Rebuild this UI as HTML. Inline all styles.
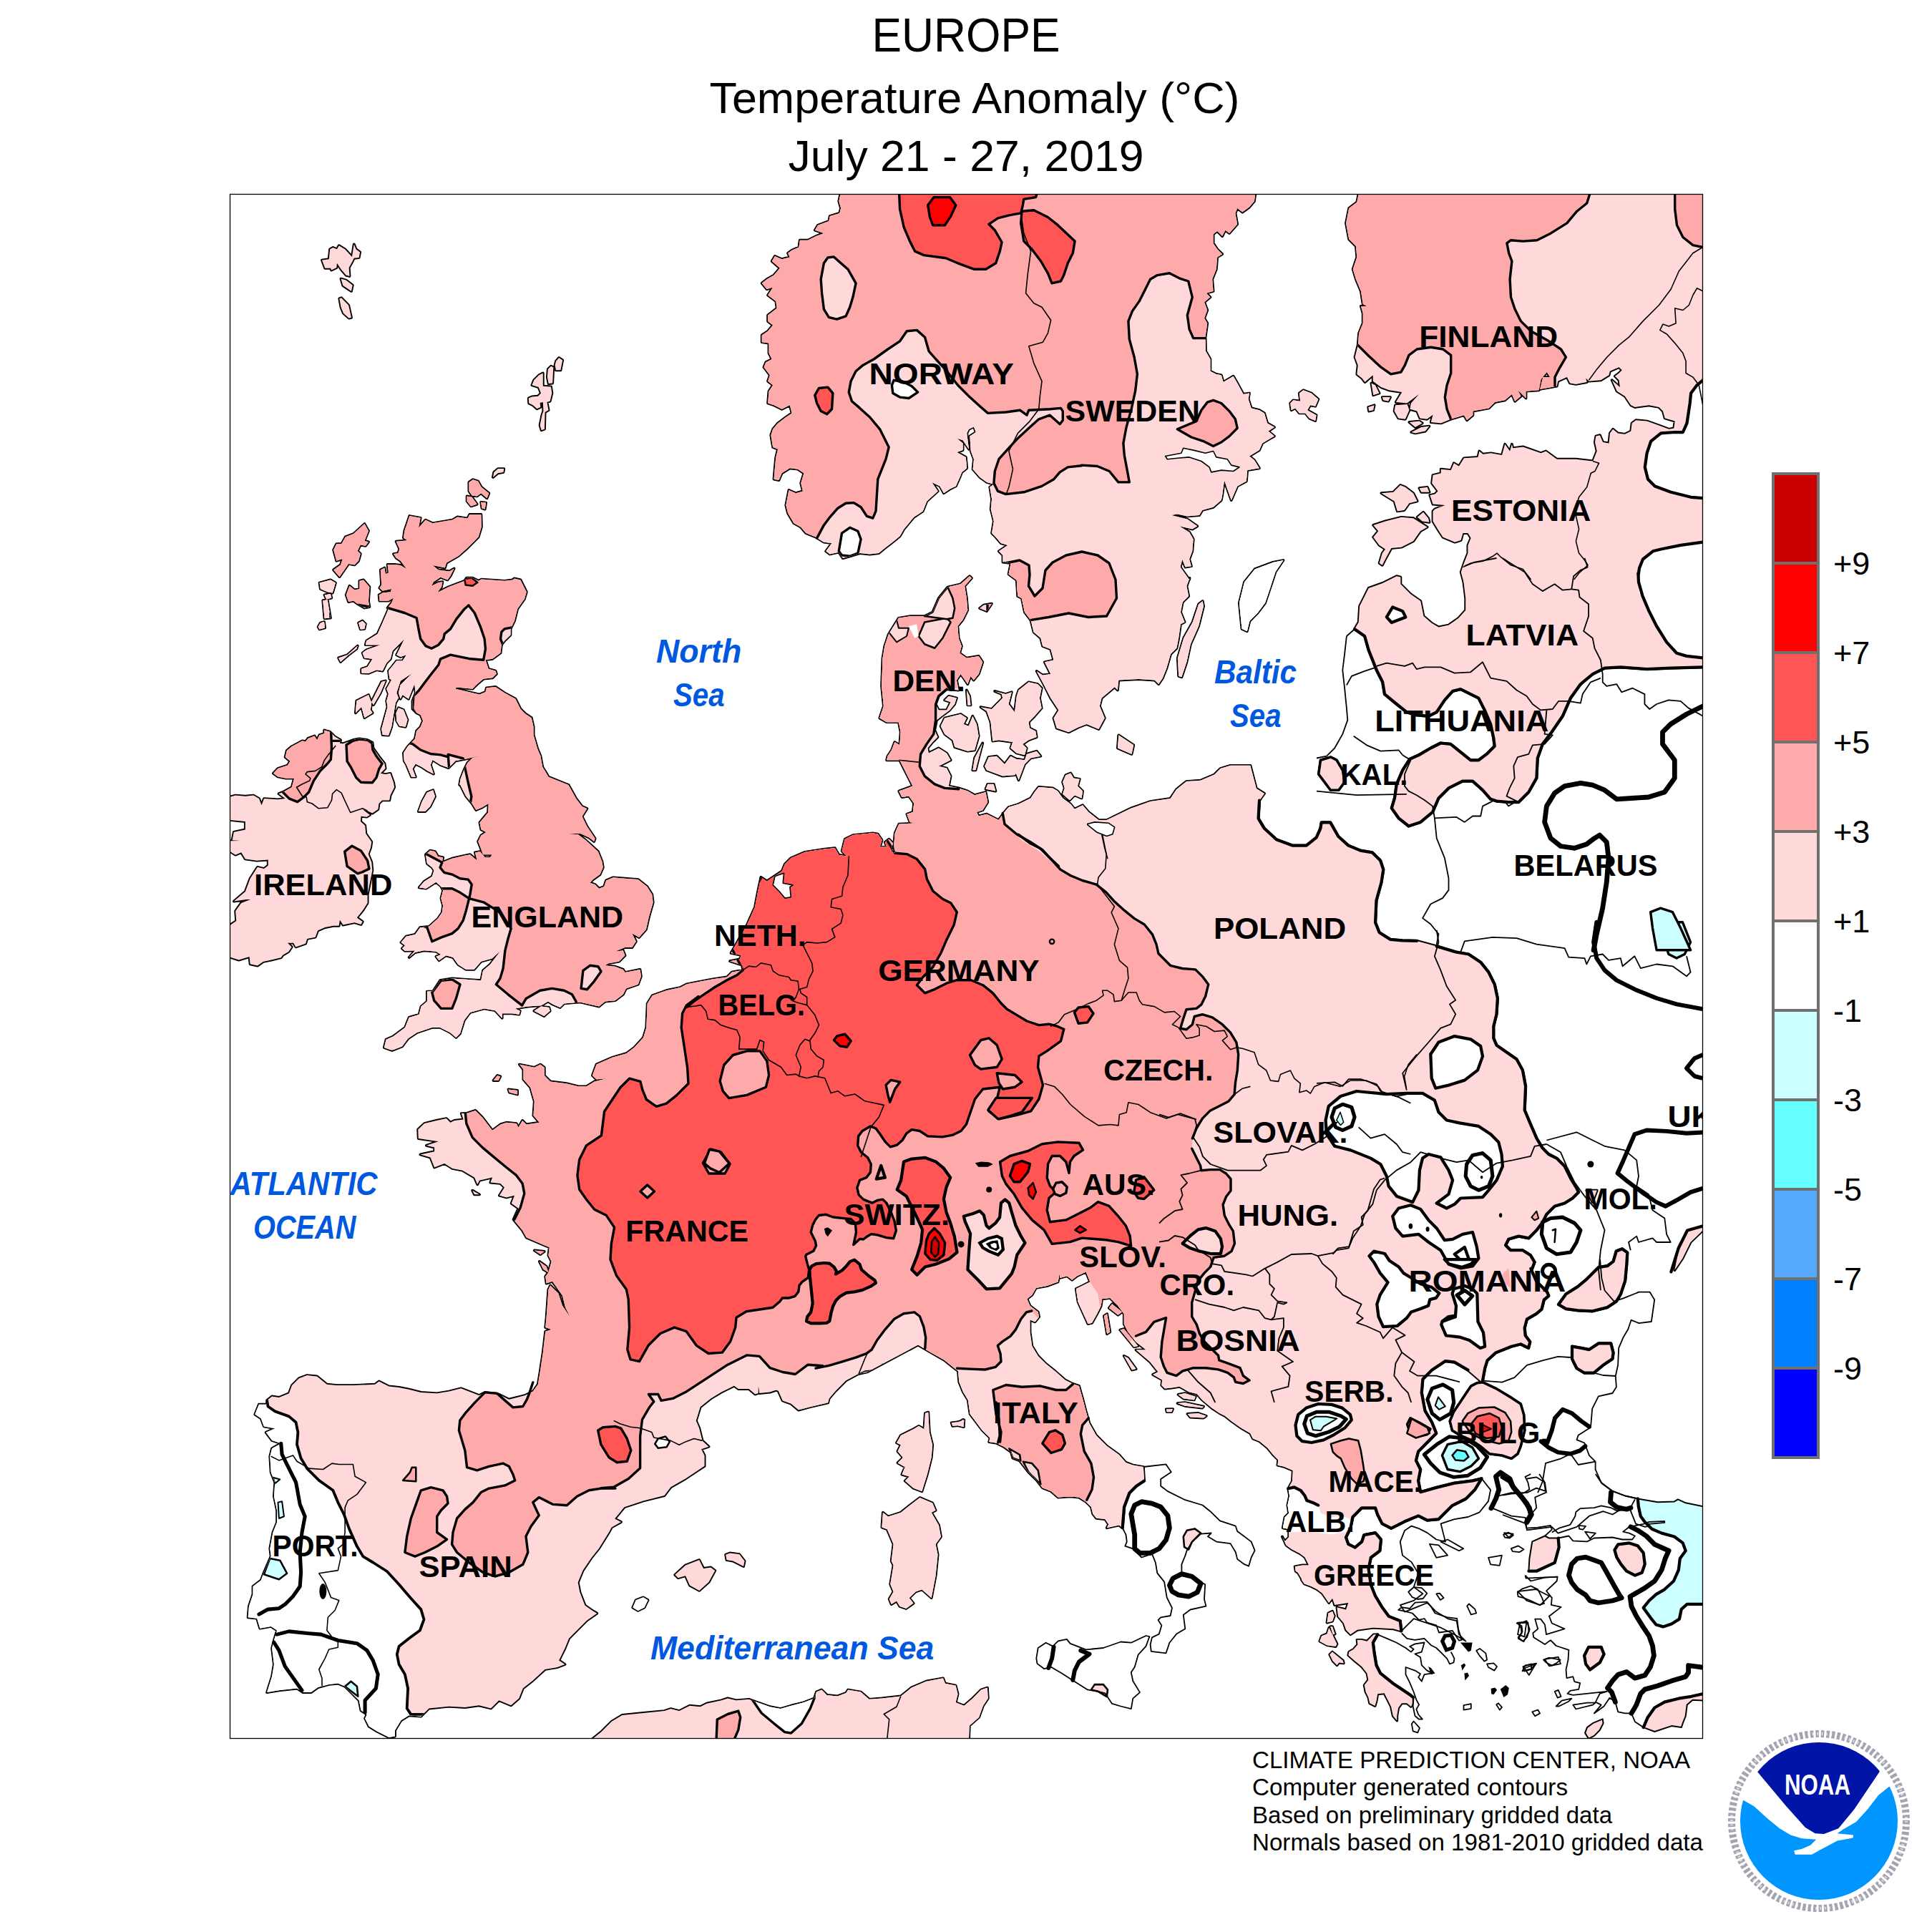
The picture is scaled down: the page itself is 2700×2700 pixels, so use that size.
<!DOCTYPE html><html><head><meta charset="utf-8"><title>Europe Temperature Anomaly</title><style>html,body{margin:0;padding:0;background:#fff}body{width:2700px;height:2700px;overflow:hidden;font-family:"Liberation Sans",sans-serif}svg{display:block}text{font-family:"Liberation Sans",sans-serif}</style></head><body>
<svg width="2700" height="2700" viewBox="0 0 2700 2700">
<rect width="2700" height="2700" fill="#fff"/>
<defs><clipPath id="fr"><rect x="321.5" y="271.5" width="2058.0" height="2158.0"/></clipPath>
<clipPath id="land"><path d="M450,363.6 459.7,362.2 461.1,348.3 465.3,346 470.9,348.3 473.7,343.2 482.1,348.3 491.9,358.9 494.7,341.3 497.5,348.3 503.1,352.4 501.7,360 494.7,360.8 492.7,365 487.7,374 488.5,386 483.5,384.6 476.5,376.2 470.9,367.8 470.4,374 463.1,377.6 462,374.8 454.2,374.8ZM476.5,389.6 483.5,391.6 492.7,398.6 491,406.9 484.9,402.8 479.3,399.1ZM474.3,417.3 477.1,416.2 487.1,426.5 491,443.8 487.7,444.7 479.9,437.7 476.5,429.3ZM758.8,521.5 758.8,539.7 770,540.5 771.4,549.5 768.6,560.7 764.4,562.1 766.6,573.2 761.6,576 761,599.8 756.6,601.2 754.6,594.2 757.4,580.2 759.4,574.6 758.8,562.1 754.6,562.9 755.4,569 750.4,571.3 744.8,566.3 739.2,563.5 738.7,556.5 743.4,554.5 751.8,553.7 756,549.5 752.6,541.1 743.4,538.3 746.2,531.3 753.2,524.3ZM765.8,515.9 770,511.8 773.3,513.2 772.2,535.5 766.6,536.1 764.9,527.1ZM777,504.8 781.2,500 786.2,503.4 783.4,517.3 777,517.3 775.6,510.4ZM655.4,673.9 661,670.2 668,672.5 672.7,680.8 683.3,689.2 680.5,696.2 672.2,689.2 666.6,693.4 659.6,692.6 655.4,686.4ZM652.6,693.4 659.6,694.8 666.6,704.6 658.2,707.4 652.6,700.4ZM672.2,701.8 679.1,702.6 677.7,711.6 673.5,710.2ZM688.9,666.9 690.3,659.9 695.9,655.1 704.3,655.1 703.5,659.9 695.9,661.3ZM509.4,732.1 515,741.9 509.4,755.9 515,757.3 510.8,762.9 503.8,761.5 499.7,769.9 503.8,774.1 501.1,783.8 495.5,789.4 487.1,788 474.5,806.2 466.1,796.4 475.9,789.4 478.7,781.1 470.3,783.8 466.1,768.5 470.3,760.1 477.3,760.1 482.9,750.3 494.1,746.1ZM446.6,814.6 461.9,810.4 468.9,814.6 464.7,828.6 457.7,827.2 447.9,823ZM453.5,831.4 461.9,830 463.3,835.6 456.3,837.5ZM451.3,839.2 457.7,838.3 461.9,863.5 453.5,864.3ZM447.9,870.5 453,869.1 454.1,877.5 446.6,879.4 444.6,876.1ZM502.4,811.8 508,810.4 516.4,820.2 515,839.7 516.4,848.1 509.4,849.5 499.7,843.9 494.1,839.7 487.1,841.1 483.7,831.4 488.5,818.8 495.5,824.4 502.4,823ZM519.2,980.9 533.2,952.9 538.8,951.5 531.8,968.3 522,985.1ZM498.3,979.5 515,971.1 519.2,982.3 517.8,992.1 520.6,996.3 509.4,1003.2 505.2,987.9 496.9,996.3ZM553.6,996.3 556.9,989.3 563.9,992.1 569.5,1006 566.7,1015.8 558.3,1014.4 554.2,1007.4ZM473.1,919.4 485.7,915.2 499.7,902.6 498.3,906.8 487.1,915.2 475.9,925ZM501.1,870.5 506.6,867.7 510.8,871.9 509.4,878.9 503.8,879.4ZM572.3,721 587.7,723.8 584.9,737.7 594.7,726.6 604.5,731.3 632.4,726.6 639.4,722.4 653.4,724.6 656.2,719 672.4,719 672.9,736.3 668.7,750.3 663.2,755.9 652,767.1 640.8,776.9 624,786.6 621.8,793.6 604.5,790 612.8,796.4 628.2,798.4 634.6,794.5 629.6,804.8 625.4,810.4 615.6,806.8 605.9,813.2 603.1,818.8 612.8,814 618.4,813.2 617,820.2 611.4,828 626.8,820.2 649.2,811.8 652,807.6 660.4,807.6 668.7,811.8 672.9,809.6 705.1,811.8 716.3,810.4 719,808.4 727.4,810.4 735.8,827.2 733,836.9 723.2,850.9 719,867.7 713.5,878.9 713.5,887.3 705.1,895.6 700.9,901.2 699.5,912.4 688.3,920.8 678.5,922.2 682.7,934.8 692.5,937.6 693.9,941.8 688.3,947.3 675.7,948.7 665.9,957.1 660.4,962.7 638,960.5 636.6,962.7 649.2,965.5 660.4,968.3 670.1,970.5 678.5,966.9 679.9,961.3 692.5,959.9 705.1,968.3 720.4,976.7 727.4,990.7 734.4,997.7 742.8,1003.2 745.6,1015.8 745.6,1027 751.2,1046.6 755.4,1056.3 758.2,1071.7 766.6,1085.7 794.5,1096.9 805.1,1115.9 813.5,1127.1 820.4,1129.9 813.5,1141.1 820.4,1155 831.6,1171.8 830.2,1176 823.2,1170.4 810.7,1164.8 788.3,1164.8 807.9,1166.2 819,1174.6 835.8,1190 841.4,1203.9 842.8,1212.3 838.6,1222.1 828.8,1229.1 824.6,1233.8 831.6,1236.1 837.2,1241.7 844.2,1238.9 847,1230.5 856.8,1226.3 873.5,1227.7 891.7,1229.1 904.3,1238.9 911.3,1250.1 912.7,1261.2 907.1,1280.8 902.9,1299 893.1,1310.1 883.3,1304.6 888.9,1315.7 883.3,1324.1 873.5,1324.1 859.6,1329.7 870.8,1328.3 873.5,1335.3 865.2,1343.7 849.8,1346.5 845.6,1349.3 859.6,1350.7 870.8,1354.9 873.5,1359 894.5,1354.9 895.9,1364.6 891.7,1375.8 874.9,1381.4 870.8,1389.8 859.6,1398.2 845.6,1399.6 837.2,1406.6 810.7,1400.4 788.3,1402.4 782.7,1408 772.9,1403.8 765.9,1399.6 756.2,1405.2 738,1406.6 728.2,1408 719.8,1409.4 726.8,1412.7 725.4,1417.7 715.6,1416.3 701.7,1416.3 701.7,1422.8 691.9,1412.2 676.5,1409.4 656.9,1414.9 648.6,1426.1 643,1444.3 637.4,1449.9 629,1442.9 615,1435.9 603.8,1435.9 582.9,1442.9 570.3,1451.3 561.9,1462.5 547.9,1468 536.8,1463.9 539.6,1452.7 549.3,1448.5 566.1,1435.9 571.7,1421.9 585.7,1417.7 588.5,1406.6 596.9,1399.6 596.9,1385.6 605.2,1385.6 615,1370.2 631.8,1367.4 651.4,1368.8 672.3,1370.2 675.1,1356.3 684.9,1347.9 698.9,1329.7 704.5,1324.1 687.7,1339.5 672.3,1343.7 662.5,1354.9 651.4,1354.9 640.2,1347.9 633.2,1338.1 623.4,1335.3 613.6,1342.3 609.4,1336.7 616.4,1333.9 609.4,1329.7 592.7,1328.3 580.1,1331.1 571.7,1338.1 580.1,1328.3 566.1,1328.9 561.9,1325.5 566.1,1321.3 560.5,1317.1 567.5,1308.7 580.1,1305.9 587.1,1296.2 599.7,1294.8 612.2,1283.6 617.8,1275.2 619.2,1265.4 616.4,1255.6 619.2,1244.5 616.4,1238.9 609.4,1232.7 595.5,1241.7 585.7,1240.3 592.7,1231.9 603.8,1224.9 606.6,1216.5 603.8,1212.3 596.9,1206.7 594.9,1194.2 601.1,1188.6 608,1190 612.2,1196.9 619.2,1198.3 617.8,1205.3 631.8,1199.7 650,1195.6 656.9,1194.2 666.7,1202.5 663.9,1191.4 670.9,1190 677.9,1198.3 684.9,1198.3 687.7,1194.2 675.1,1194.2 670.9,1183 668.1,1176 672.3,1167.6 679.3,1162.9 672.3,1159.2 670.4,1149.4 675.1,1143.8 682.1,1135.5 682.7,1122.9 673.7,1128.5 665.3,1132.1 659.7,1122.9 651.4,1113.1 643,1096.3 642.2,1096.9 643.6,1088.5 649.2,1074.5 653.4,1066.1 660.4,1059.1 671.5,1056.3 663.2,1057.7 652,1060.5 636.6,1063.3 626.8,1073.1 615.6,1068.9 604.5,1061.9 601.7,1068.9 605.9,1081.5 597.5,1077.3 589.1,1071.7 580.7,1067.5 576.5,1074.5 580.7,1085.7 575.1,1085.7 568.1,1068.9 564.8,1063.3 563.9,1052.2 569.5,1043.8 579.9,1032.6 582.1,1021.4 587.7,1015.8 591,1007.4 587.7,999 582.1,996.3 576.5,990.7 576.5,979.5 580.7,968.3 579.3,955.7 570.9,976.7 562.5,971.1 559.7,976.7 556.9,968.3 559.7,957.1 570.9,945.9 576.5,940.4 559.7,951.5 554.2,968.3 556.9,975.3 552.8,982.3 547.2,1015.8 543,1027.6 534.6,1027 533.2,1018.6 541.6,987.9 540.2,979.5 543,969.7 540.2,962.7 547.2,950.1 544.4,948.7 543,937.6 554.2,923.6 562.5,923.6 568.1,915.2 559.7,918 554.2,915.2 565.3,892.8 548.6,909.6 545.8,920.8 540.2,926.4 534.6,937.6 526.2,936.2 515,940.9 505.2,940.4 505.2,934.8 513.6,932 520.6,920.8 509.4,919.4 506.6,912.4 512.2,908.2 531.8,901.2 510.8,901.2 512.2,895.6 527.6,885.9 534.6,870.5 543,850.9 541.6,849.5 547.2,842.5 550,835.6 543,839.7 530.4,839.7 529.6,831.4 534.6,828.6 545.8,827.2 547.2,823 534.6,825.8 530.4,821.6 533.2,817.4 531.8,796.4 537.4,793.6 538.8,802 543,800.6 541.6,788.9 551.4,788.9 559.7,790 568.1,795 559.7,783.8 553.6,779.7 550,774.1 556.4,773.2 558.3,767.1 553.6,756.7 569.5,755.3 563.9,751.7 565.3,741.9ZM584.8,1134.1 589.9,1120.1 596.9,1107.5 605.2,1104.2 608,1113.1 601.1,1127.1 594.1,1134.1ZM746.4,1412.7 756.2,1406.6 767.3,1408 768.7,1412.7 760.4,1420ZM453.2,1020.5 461.2,1022.8 468,1029.6 476,1034.2 474.9,1038.7 479.4,1039.2 493.1,1034.2 502.2,1032.3 513.6,1034.2 520.4,1037.6 521.5,1045.5 529.5,1056.9 537.5,1067.2 538.6,1074 531.8,1080.8 538.6,1082 545.5,1080.8 550,1093.4 551.2,1100.2 545.5,1111.6 544.3,1118.4 534.1,1118.4 529.5,1123 528.4,1130.9 520.4,1136.6 513.6,1133.2 506.7,1130.9 517,1138.9 512.4,1141.7 504.5,1140.7 504,1148 510.2,1153.7 511.3,1165.1 519.3,1176.5 518.1,1184.5 514.7,1193.6 519.3,1205 520.4,1216.4 518.1,1227.7 515.9,1239.1 513.6,1250.5 513.6,1261.9 507.9,1271 504.5,1275.6 498.8,1282.4 506.7,1288.1 504.5,1292 495.4,1289.2 479.4,1292.6 474.9,1285.8 473.7,1293.8 465.8,1293.8 454.4,1296.1 444.1,1300.6 440.7,1309.7 429.3,1312 427,1318.8 413.4,1323.4 410,1317.7 402,1317.7 407.7,1323.4 403.1,1330.2 395.2,1334.8 392.9,1338.2 379.2,1341.6 367.8,1343.9 359.9,1349.6 349.6,1347.3 348.5,1337.1 333.7,1341.6 320,1337.1 315.4,1337.1 315.4,1296.1 320,1293.8 330.2,1287 329.1,1273.3 337.1,1261.9 361,1252.8 380.4,1250.5 365.5,1255.1 342.8,1257.3 326.8,1259.6 342.8,1246 349.6,1227.7 359.9,1211.8 369,1214.1 374.7,1209.5 374.7,1201.5 358.7,1202.7 342.8,1200.4 337.1,1191.3 329.1,1194.7 320,1189 315.4,1189 315.4,1175.4 335.9,1174.9 324.6,1174.2 326.8,1162.8 342.8,1159.4 342.8,1148 320,1145.8 315.4,1145.8 315.4,1113.9 320,1113.9 329.1,1111.6 342.8,1112.7 354.2,1111.6 362.1,1116.1 365.5,1125.3 369,1116.1 388.3,1117.3 398.6,1116.1 389.5,1109.3 397.4,1105.9 407.7,1100.2 411.1,1087.7 399.7,1087.7 388.3,1085.4 381.9,1080.8 388.3,1074 402,1069.5 405.4,1063.8 398.6,1058.1 400.8,1049 407.7,1043.3 422.5,1035.3 427,1036.4 430.5,1031.9 439.6,1028.5 443,1034.2 446.4,1027.3 453.2,1025.1ZM1176.5,261.6 1172.3,281.2 1175.1,291 1173.2,297.9 1159.7,302.1 1158.3,309.1 1143,314.7 1138.8,321.7 1151.4,325.9 1140.2,330.1 1129,335.7 1117.8,335.7 1116.4,345.5 1106.6,349.7 1101.1,353.8 1103.8,359.4 1092.7,362.2 1082.9,358 1078.7,365 1089.9,374.8 1081.5,384.6 1071.7,390.2 1064.7,395.8 1071.7,404.2 1080.1,401.4 1073.1,412.5 1084.3,420.9 1085.7,430.7 1073.1,440.5 1073.1,448.9 1080.1,454.5 1073.1,462.8 1064.7,468.4 1064.7,478.2 1074.5,479.6 1074.5,493.6 1078.7,502 1070.3,506.2 1067.5,513.2 1075.9,524.3 1073.1,532.7 1080.1,538.3 1074.5,546.7 1073.1,563.5 1081.5,566.3 1092.7,571.8 1103.8,566.3 1106.6,577.4 1098.3,583 1087.1,591.4 1080.1,599.8 1077.3,608.2 1080.1,624.9 1087.1,627.7 1084.3,638.9 1082.9,652.9 1081.5,669.7 1088.5,671.1 1092.7,661.3 1103.8,654.3 1115,655.7 1123.4,661.3 1119.2,675.3 1122,686.4 1112.2,689.2 1102.4,685 1098.3,706 1101.1,717.2 1109.4,731.2 1119.2,736.7 1126.2,745.1 1140.2,750.7 1151.4,757.7 1162.5,759.1 1154.2,770.3 1159.7,774.5 1172.3,771.7 1177.9,780.1 1187.7,777.3 1201.7,773.1 1215.6,774.5 1228.2,773.1 1236.6,766.1 1249.2,756.3 1257.6,749.3 1263.2,739.5 1277.1,722.8 1289.7,714.4 1295.3,700.4 1310.7,686.4 1302.3,673.9 1313.5,679.4 1319,689.2 1327.4,683.6 1335.8,679.4 1341.4,666.9 1344.2,659.9 1351.2,654.3 1349.8,638.9 1337.2,631.9 1345.6,629.1 1345.6,619.4 1337.2,612.4 1345.6,615.2 1354,627.7 1351.2,605.4 1354,599.8 1361,596.4 1363.8,604 1355.4,609.6 1356.8,630.5 1361,641.7 1359.6,655.7 1369.4,666.9 1379.1,673.9 1388.9,676.7 1383.3,680.8 1386.1,697.6 1384.7,711.6 1388.9,728.4 1386.1,745.1 1391.7,750.7 1398.7,759.1 1408.5,761.9 1395.9,770.3 1401.5,775.9 1401.5,785.7 1412.7,787 1409.6,802.4 1420.8,810.7 1422.2,833.1 1427.8,835.9 1432,855.5 1440.4,866.6 1444.6,883.4 1454.3,891.8 1457.1,903 1468.3,907.2 1472.5,922.5 1459.9,925.3 1468.3,942.1 1457.1,943.5 1448.7,937.9 1459.9,958.9 1468.3,975.6 1479.5,992.4 1472.5,1003.6 1476.7,1017.6 1493.5,1023.2 1507.4,1016.2 1518.6,1012 1535.4,1019 1543.8,1003.6 1536.8,986.8 1539.6,975.6 1557.7,960.3 1561.9,964.5 1563.3,950.5 1591.3,949.1 1613.6,950.5 1619.2,956.1 1624.8,947.7 1630.4,933.7 1636,914.2 1644.4,905.8 1647.2,891.8 1650,872.2 1655.6,869.4 1650,855.5 1652.8,841.5 1661.2,833.1 1658.4,819.1 1662.5,807.9 1662.1,810 1649.5,792.6 1652.3,782 1656.5,792.6 1664.9,791.2 1662.1,781.5 1666.3,770.3 1667.7,753.5 1662.1,743.7 1648.1,735.3 1666.3,739.5 1673.3,735.3 1659.3,725.6 1636.9,720 1645.3,718.6 1659.3,721.4 1676.1,720 1680.3,713 1695.6,708.8 1706.8,699 1708.2,692 1711,671.1 1715.2,683.6 1720.8,699 1729.2,679.4 1741.8,672.5 1743.2,657.1 1759.9,654.3 1752.9,643.1 1745.9,637.5 1759.9,629.1 1764.1,619.4 1771.1,615.2 1780.9,609.6 1772.5,602.6 1780.9,597 1771.1,591.4 1766.9,577.4 1759.9,573.2 1748.7,570.4 1744.6,557.9 1745.9,549.5 1737.6,550.9 1729.2,535.5 1723.6,525.7 1709.6,534.1 1706.8,524.3 1699.8,522.9 1691.4,518.7 1691.4,502 1685,490.8 1684.5,471.2 1687.3,451.7 1683.1,444.7 1687.3,433.5 1683.1,422.3 1691.4,415.3 1685.9,409.7 1695.6,406.9 1694.2,390.2 1699.8,376.2 1701.2,359.4 1708.2,355.2 1701.2,348.3 1695.6,339.9 1695.6,327.3 1701.2,323.1 1708.2,330.1 1712.4,321.7 1718,325.9 1729.2,313.3 1726.4,297.9 1729.2,291 1736.2,296.6 1745.9,289.6 1752.9,281.2 1755.7,261.6ZM1647.2,944.9 1645.8,919.7 1654.2,891.8 1666.7,869.4 1675.1,844.3 1680.7,840.1 1682.1,847.1 1675.1,875 1663.9,900.2 1658.4,925.3 1651.4,946.3ZM1803.2,563.5 1807.4,559.3 1817.2,560.7 1815.8,549.5 1821.4,545.3 1832.6,549.5 1842.4,557.9 1838.2,567.7 1831.2,566.3 1827,573.2 1839.6,580.2 1838.2,588.1 1829.8,584.4 1824.2,577.4 1815.8,577.4 1810.2,570.4 1804.6,573.2ZM1916.4,535.5 1922,538.3 1927.6,549.5 1919.2,552.3ZM1931.8,555.1 1943,555.1 1940.2,560.7 1933.2,559.3ZM1912.2,569 1920.6,566.3 1919.2,573.2 1913.1,574.6ZM1950,566.3 1966.7,564.9 1969.5,573.2 1963.9,585.8 1954.2,584.4 1948.6,574.6ZM1969.5,590 1983.5,588.6 1987.7,591.4 1977.9,597ZM1972.3,604 1986.3,597 1997.5,595.6 1991.9,602.6 1977.9,605.4ZM1930.4,689.2 1947.2,687.8 1957,678 1963.9,680.8 1975.1,689.2 1980.7,700.4 1969.5,703.2 1962.5,713 1952.8,714.4 1948.6,700.4 1941.6,696.2ZM1919.2,733.9 1936,728.4 1958.4,722.8 1975.1,724.2 1994.7,736.7 1984.9,742.3 1975.1,756.3 1958.4,764.7 1944.4,766.1 1936,781.5 1931.8,789.8 1927.6,787 1931.8,773.1 1936,767.5 1927.6,761.9 1919.2,750.7 1926.2,742.3ZM1983.5,682.2 1994.7,680.8 1997.5,687.8 1986.3,687.8ZM1980.7,722.8 1989.1,715.8 1996.1,724.2 1997.5,729.8 1987.7,728.4ZM1735.5,878.7 1731.9,842.5 1739.1,813.5 1753.6,795.4 1779,785.9 1793.5,783 1782.6,799 1775.4,820.7 1768.1,842.5 1757.2,857 1746.4,867.8 1742.8,882.3ZM1314.6,1014.8 1320.2,1003.6 1342.5,998 1350.9,1003.6 1346.7,1012 1353.7,1014.8 1359.3,1000.8 1364.9,1012 1367.7,1028.7 1362.1,1048.3 1352.3,1049.7 1334.2,1044.1 1331.4,1034.3 1320.2,1025.9ZM1359.3,1076.3 1362.1,1059.5 1373.3,1038.5 1367.7,1059.5 1363.5,1076.3ZM1376.1,1070.7 1381.7,1058.1 1392.8,1056.7 1404,1067.9 1412.4,1056.7 1420.8,1060.9 1432,1065.1 1418,1083.2 1401.2,1084.6 1390.1,1080.4 1378.9,1076.3ZM1412.4,1059.5 1432,1062.3 1434.8,1053.9 1448.7,1049.7 1454.3,1056.7 1440.4,1059.5 1432,1067.9 1423.6,1090.2 1418,1076.3ZM1370.5,988.2 1385.9,991 1401.2,975.6 1399.8,970.1 1390.1,965.9 1405.4,970.1 1413.8,967.3 1409.6,984 1418,995.2 1420.8,972.8 1423.6,964.5 1437.6,953.3 1450.1,956.1 1455.7,961.7 1452.9,975.6 1455.7,989.6 1445.9,1000.8 1437.6,1009.2 1439,1017.6 1447.3,1021.8 1448.7,1030.1 1437.6,1034.3 1429.2,1039.9 1434.8,1045.5 1432,1055.3 1420.8,1052.5 1412.4,1045.5 1415.2,1037.1 1395.6,1034.3 1387.3,1035.7 1384.5,1009.2 1378.9,993.8ZM1377.5,1102.8 1380.3,1095.8 1388.7,1095.8 1391.4,1105.6ZM1369.1,849.9 1374.7,845.7 1385.9,843.7 1378.9,854.1ZM1561.9,1045.5 1563.3,1027.3 1584.3,1041.3 1581.5,1053.9ZM1489.3,1083.2 1496.3,1080.4 1500.4,1087.4 1508.8,1088.8 1506,1098.6 1513,1105.6 1511.6,1115.4 1501.8,1111.2 1494.9,1118.2 1485.1,1109.8 1487.9,1101.4 1485.1,1093ZM1350.9,964.5 1355.1,972.8 1356.5,985.4 1352.3,985.4ZM689.5,1510 695.1,1503 699.3,1504.4 696.5,1510ZM710.5,1522.5 723.1,1523.9 723.1,1529.5 711.9,1526.7ZM660.2,1663.7 670,1669.3 663,1669.3ZM746.8,1747.5 760.8,1748.9 755.2,1753.1ZM753.8,1762.9 763.6,1769.9 766.4,1778.3 759.4,1774.1ZM1291.4,1997.2 1292.9,1975.1 1297.3,1973.6 1298.8,2001.6 1303.2,2019.3 1301.7,2037 1295.8,2060.6 1288.4,2084.2 1276.6,2079.8 1264.8,2069.5 1270.7,2063.6 1260.4,2060.6 1264.8,2050.3 1254.5,2044.4 1261.9,2037 1254.5,2028.2 1258.9,2019.3 1253,2016.4 1258.9,2006 1276.6,1997.2 1284,1992.8ZM1285.5,2093.1 1303.2,2100.4 1307.6,2110.8 1301.7,2113.7 1312,2131.4 1315,2147.7 1307.6,2158 1310.6,2172.7 1307.6,2202.2 1301.7,2233.2 1288.4,2221.4 1279.6,2224.4 1270.7,2233.2 1276.6,2240.6 1266.3,2248 1257.5,2245 1253,2237.6 1245.7,2242.1 1242.7,2234.7 1248.6,2224.4 1244.2,2214 1248.6,2187.5 1245.7,2181.6 1248.6,2158 1239.8,2137.3 1232.4,2134.4 1233.9,2113.7 1241.2,2119.6 1258.9,2113.7 1273.7,2101.9ZM943.3,2200.8 958,2187.5 977.2,2180.1 983.1,2191.9 993.4,2190.4 999.3,2194.9 990.5,2211.1 977.2,2222.9 963.9,2215.5 958,2202.2 947.7,2205.2ZM1014.1,2172.7 1020,2170.4 1033.2,2172.1 1040.6,2181.6 1039.1,2189 1024.4,2181.6 1015.5,2180.1ZM884.3,2246.5 888.7,2236.2 899,2232.3 905.5,2236.2 900.5,2246.5 891.6,2250.9ZM1329.7,1988.3 1341.5,1986.9 1346,1983.9 1346.9,1994.2 1338.6,1992.2 1331.2,1992.8ZM828.2,2430 840,2420.6 854.8,2405.8 869.5,2397 899,2394 928.5,2391.1 937.4,2388.1 949.2,2391.1 963.9,2383.7 978.7,2385.2 987.5,2380.7 1008.2,2376.3 1017,2373.4 1028.8,2376.3 1046.5,2374.8 1076,2385.2 1090.8,2388.1 1105.5,2383.7 1123.2,2379.3 1138,2373.4 1140.9,2364.5 1148.3,2361.5 1155.7,2368.9 1170.4,2370.4 1182.2,2366 1185.2,2361.5 1202.9,2364.5 1214.7,2374.8 1232.4,2373.4 1258.9,2370.4 1273.7,2358.6 1294.3,2349.7 1317.9,2345.3 1320.9,2352.7 1335.6,2355.6 1338.6,2367.4 1335.6,2379.3 1347.4,2383.7 1359.3,2373.4 1371.1,2361.5 1379.9,2358.6 1380.8,2373.4 1374,2383.7 1368.1,2399.9 1354.8,2411.7 1353.4,2447.1 828.2,2450.1ZM1239.1,1062.3 1240.5,1056.7 1246.1,1048.3 1250.3,1037.1 1257.3,1041.3 1258.7,1023.2 1255.9,1009.2 1239.1,1009.2 1229.3,1003.6 1234.9,986.8 1232.1,958.9 1233.5,919.7 1236.3,903 1241.9,886.2 1255.9,863.8 1272.7,861.1 1292.2,861.1 1303.4,855.5 1311.8,835.9 1324.4,820.5 1342.5,816.3 1355.1,805.2 1357.9,807.9 1348.1,819.1 1350.9,835.9 1352.3,852.7 1345.3,866.6 1338.3,875 1339.7,891.8 1343.9,903 1341.1,912.8 1350.9,919.7 1367.7,916.9 1373.3,925.3 1367.7,942.1 1360.7,950.5 1356.5,944.9 1352.3,956.1 1346.7,947.7 1342.5,942.1 1336.9,950.5 1339.7,964.5 1323,963.1 1311.8,972.8 1307.6,984 1311.8,992.4 1323,992.4 1328.6,981.2 1320.2,978.4 1325.8,972.8 1336.9,975.6 1334.2,984 1327.2,992.4 1316,1000.8 1309,1006.4 1306.2,1020.4 1310.4,1030.1 1303.4,1037.1 1296.4,1045.5 1297.8,1052.5 1311.8,1045.5 1323,1052.5 1328.6,1062.3 1311.8,1070.7 1323,1073.5 1328.6,1084.6 1325.8,1098.6 1339.7,1101.4 1352.3,1105.6 1362.1,1111.2 1377.5,1107 1380.3,1121 1373.3,1132.2 1364.9,1134.9 1367.7,1140.5 1378.9,1137.7 1395.6,1146.1 1402.6,1136.3 1409.6,1128 1423.6,1123.8 1440.4,1115.4 1445.9,1107 1451.5,1100 1471.1,1101.4 1478.1,1105.6 1485.1,1115.4 1496.3,1123.8 1501.8,1130.8 1513,1125.2 1521.4,1134.9 1535.4,1146.1 1546.6,1146.1 1579.7,1129.9 1607.7,1120.1 1635.6,1115.9 1644,1103.3 1658,1092.1 1677.6,1090.7 1697.1,1082.4 1705.5,1074 1719.5,1069.8 1747.4,1069.8 1755.8,1101.9 1767,1108.9 1760,1118.7 1758.6,1143.8 1767,1157.8 1783.8,1173.2 1806.1,1181.6 1825.7,1181.6 1839.7,1170.4 1845.3,1157.8 1846.7,1149.4 1859.2,1149.4 1870.4,1169 1884.4,1181.6 1901.2,1188.6 1917.9,1191.4 1929.1,1202.5 1933.3,1215.1 1930.5,1233.3 1923.5,1258.4 1922.1,1289.2 1927.7,1303.2 1943.1,1312.9 1959.8,1314.3 1980,1314.9 2007.7,1322.4 2035.6,1330.7 2052.4,1333.5 2069.2,1344.7 2080.4,1358.7 2088.7,1375.5 2092.9,1395 2091.5,1417.4 2087.3,1434.2 2087.3,1450.9 2091.5,1460.7 2105.5,1470.5 2119.5,1480.3 2127.9,1495.6 2132.1,1518 2130.7,1551.5 2139,1571.1 2147.4,1590.7 2155.8,1604.6 2164.2,1613 2175.4,1618.6 2186.6,1629.8 2194.9,1646.6 2203.3,1660.5 2206.1,1666.1 2197.7,1674.5 2186.6,1681.5 2172.6,1685.7 2161.4,1696.9 2155.8,1708 2147.4,1719.2 2136.3,1730.4 2122.3,1727.6 2108.3,1731.8 2104.1,1740.2 2111.1,1747.2 2127.9,1747.2 2139,1754.2 2144.6,1763.9 2140.4,1775.1 2139.3,1773 2147,1790.4 2162.2,1805.7 2164.3,1811.1 2157.8,1816.5 2154.6,1829.6 2147,1836.1 2133.9,1843.7 2130.7,1855.7 2131.7,1866.5 2138.3,1875.2 2136.1,1883.9 2125.2,1878.5 2112.2,1881.7 2090.4,1890.4 2078.5,1901.3 2075.2,1912.2 2072,1929.6 2072,1931.7 2090.4,1940.4 2112.2,1953.5 2125.2,1962.2 2129.6,1977.4 2130.7,1999.1 2125.2,2020.9 2120.9,2031.7 2112.2,2038.3 2099.1,2033.9 2081.7,2031.7 2068.7,2020.9 2055.7,2012.2 2040.4,2005.7 2029.6,1999.1 2026.3,1986.1 2031.7,1973 2040.4,1960 2049.1,1947 2055.7,1937.2 2064.3,1932.8 2071.3,1931.7 2051.5,1914.7 2032.6,1903.7 2020,1902.1 2001,1914.7 1988.4,1927.4 1986.8,1946.3 1991.5,1971.6 2001,1987.4 2007.3,2003.1 1994.7,2015.8 1982.1,2028.4 1978.9,2041 1985.2,2053.7 1982.1,2069.4 1985.2,2085.2 2007.3,2078.9 2032.6,2072.6 2057.9,2069.4 2070.5,2066.3 2061,2082.1 2048.4,2094.7 2029.4,2104.2 2016.8,2116.8 2010.5,2123.1 1994.7,2124.7 1982.1,2118.4 1963.1,2126.3 1944.2,2135.8 1931.6,2129.4 1925.2,2116.8 1922.1,2107.3 1903.1,2107.3 1890.5,2120 1887.3,2135.8 1881,2148.4 1884.2,2157.9 1893.7,2162.6 1903.1,2154.7 1906.3,2145.2 1922.1,2142.1 1930,2151.5 1928.4,2167.3 1915.8,2176.8 1912.6,2192.6 1915.8,2214.7 1922.1,2230.5 1931.6,2246.3 1941,2258.9 1956.8,2265.2 1958.4,2279.4 1947.3,2276.3 1918.9,2274.7 1896.8,2277.8 1887.3,2284.2 1881,2277.8 1877.9,2268.4 1870,2258.9 1868.4,2246.3 1881,2249.4 1884.2,2240 1865.2,2243.1 1862.1,2233.6 1857.1,2240 1847.8,2226.6 1840.4,2221 1832.9,2217.2 1829.2,2213.5 1819.9,2207.9 1814.3,2198.6 1809.6,2189.3 1819.9,2187.4 1829.2,2187.4 1823.6,2176.3 1816.1,2170.7 1805,2165.1 1797.5,2159.5 1791.9,2147.4 1795.6,2153.9 1801.2,2148.3 1801.2,2137.1 1792.8,2135.3 1795.6,2120.4 1801.2,2114.8 1799.4,2103.6 1802.2,2090.5 1800.3,2080.3 1805.9,2070.1 1806.8,2055.1 1793.8,2049.6 1785.4,2047.7 1786.3,2040.2 1778.9,2032.8 1771.4,2023.5 1760.2,2014.2 1750.9,2010.4 1747.2,2003 1734.2,1995.5 1721.1,1986.2 1711.8,1978.8 1704.3,1975 1693.2,1967.6 1680.1,1956.4 1672.7,1948 1661.5,1945.2 1648.4,1937.8 1637.3,1939.6 1627.9,1940.6 1623.3,1935.9 1624.2,1928.4 1611.2,1921 1618.4,1917.3 1607.2,1903.3 1587.6,1886.6 1601.6,1886.6 1587.6,1875.4 1576.4,1861.4 1570.8,1850.2 1570.8,1836.3 1562.5,1825.1 1551.3,1813.9 1540.1,1815.3 1538.7,1825.1 1533.1,1836.3 1526.1,1848.8 1520.5,1850.2 1506.6,1819.5 1503.8,1801.3 1512.2,1797.1 1523.3,1791.5 1517.7,1777.6 1505.2,1783.2 1498.2,1788.7 1491.2,1783.2 1481.4,1785.9 1481.4,1776.2 1478.6,1791.5 1463.2,1797.1 1447.9,1799.9 1442.3,1809.7 1435.3,1815.3 1439.5,1825.1 1450.7,1833.5 1452.1,1840.4 1446.5,1847.4 1439.5,1844.6 1439.5,1861.4 1442.3,1881 1450.7,1894.9 1461.8,1906.1 1475.8,1917.3 1488.4,1928.5 1499.6,1934.1 1508,1936.9 1513.5,1956.4 1517.6,1972.2 1522.5,1989.2 1532.2,2006.2 1546.8,2020.8 1563.8,2033 1573.5,2043.9 1583.3,2047.6 1597.9,2050 1599.1,2069.5 1588.1,2076.8 1578.4,2086.5 1571.1,2106 1568.7,2135.2 1563.8,2131.5 1546.8,2135.2 1549.2,2130.3 1544.3,2123 1532.2,2121.8 1527.3,2115.7 1524.9,2106 1517.6,2098.7 1507.9,2092.6 1495.7,2091.4 1478.7,2092.6 1468.9,2084.1 1456.8,2079.2 1449.5,2069.5 1437.3,2057.3 1425.1,2041.5 1415.4,2037.8 1412.9,2029.1 1403.2,2022.1 1392,2016.5 1382.2,2015.1 1383.6,2009.5 1372.4,1998.4 1364,1987.2 1355.6,1976 1352.8,1956.4 1345.9,1945.3 1340.3,1931.3 1338.9,1915.9 1333.3,1911.7 1319.3,1900.5 1299.7,1889.4 1283,1879.6 1211.7,1917.5 1198.5,1920.5 1182.2,1929.3 1167.5,1944.1 1158.6,1954.4 1157.2,1960.3 1132.1,1966.2 1115.9,1970.6 1105.5,1961.8 1093.7,1957.4 1087.8,1944.1 1076,1938.2 1084.9,1942.6 1076,1945.6 1061.3,1947 1059.8,1936.7 1059.8,1947 1055.4,1948.5 1046.5,1941.1 1031.8,1941.1 1025.9,1936.7 1008.2,1945.6 993.4,1954.4 978.7,1966.2 972.8,1985.4 977.2,1995.7 981.6,2013.4 990.5,2021.7 980.1,2025.2 984.6,2034.1 984.6,2048.8 975.7,2054.7 958,2066.5 937.4,2078.3 928.5,2090.1 899,2097.5 872.5,2106.3 859.2,2122.6 868,2127 854.8,2134.4 851,2141.5 837,2163.9 825.9,2177.9 814.7,2194.6 807.7,2211.4 810.5,2225.4 817.5,2243.5 827.3,2250.5 834.3,2254.7 820.3,2264.5 806.3,2278.5 795.1,2289.7 789.5,2303.6 781.2,2320.4 789.5,2326 778.4,2330.2 761.6,2333 744.8,2348.4 730.8,2359.5 725.3,2373.5 714.1,2383.3 697.3,2376.3 686.1,2387.5 669.4,2383.3 649.8,2386.1 627.4,2384.7 599.5,2387.5 588.3,2398.7 571.5,2397.3 560.4,2404.3 552,2418.2 552,2426.6 543.6,2428 526.8,2419.6 515.6,2412.6 510.1,2401.5 512.8,2395.9 504.5,2390.3 501.7,2376.3 493.3,2367.9 482.1,2356.7 472.3,2352.5 459.7,2353.9 444.4,2358.1 434.6,2365.1 423.4,2365.1 415,2359.5 389.9,2362.3 373.1,2365.1 380.1,2342.8 382.9,2326 380.1,2303.6 382.9,2292.5 387.1,2278.5 378.7,2272.9 363.3,2275.7 359.1,2261.7 346.6,2260.3 347.9,2244.9 353.5,2228.2 353.5,2217 364.7,2208.6 368.9,2197.4 378.7,2175.1 377.3,2163.9 381.5,2141.5 387.1,2127.6 387.1,2110.8 382.9,2091.2 384.3,2071.7 378.7,2057.7 377.3,2035.3 380.1,2024.2 392.7,2017.2 380.1,2013 371.7,2001.8 384.3,1996.2 368.9,1993.4 364.7,1982.2 356.3,1976.6 361.9,1962.7 373.1,1962.7 373.1,1957.1 380.1,1951.5 389.9,1952.9 403.8,1947.3 408,1936.1 417.8,1926.3 429,1922.1 443,1923.5 456.9,1934.7 470.9,1936.1 493.3,1936.1 524,1934.7 529.6,1930.5 543.6,1937.5 557.6,1938.9 571.5,1941.7 588.3,1945.9 610.7,1947.3 627.4,1944.5 644.2,1940.3 669.4,1950.1 677.7,1945.9 697.3,1948.7 711.3,1955.7 722.5,1952.9 733.6,1950.1 744.8,1944.5 751.8,1934.7 754.6,1917.9 758.8,1890 758,1897 762.2,1860.7 770.6,1857.9 762.2,1855.1 763.6,1841.2 766.4,1802 769.2,1796.4 780.4,1807.6 785.9,1824.4 797.1,1841.2 790.1,1827.2 785.9,1810.4 772,1790.8 763.6,1793.6 762.2,1783.9 766.4,1778.3 770.6,1762.9 766.4,1754.5 767.8,1743.3 735.6,1729.4 730.1,1719.6 717.5,1704.2 724.5,1688.8 714.7,1681.8 718.9,1670.7 707.7,1673.5 697.9,1670.7 704.9,1659.5 699.3,1653.9 685.3,1652.5 688.1,1645.5 670,1649.7 667.2,1655.3 663,1645.5 646.2,1635.7 632.2,1632.9 621.1,1625.9 607.1,1631.5 601.5,1617.6 587.5,1613.4 607.1,1609.2 607.1,1603.6 595.9,1600.8 612.7,1595.2 584.7,1591 584.2,1578.4 593.1,1570.1 609.9,1565.9 623.8,1563.1 629.4,1568.7 635,1565.9 647.6,1564.5 644.8,1556.1 651.8,1556.1 664.4,1551.9 674.2,1561.7 688.1,1579.8 699.3,1571.4 707.7,1568.7 721.7,1570.1 724.5,1575.6 730.1,1565.9 735.6,1571.4 753.8,1568.7 745.4,1558.9 746.8,1539.3 741.2,1519.7 731.4,1508.6 731.4,1494.6 725.9,1487.6 746.8,1491.8 755.2,1487.6 760.8,1491.8 760.8,1503 769.2,1511.4 791.5,1514.2 808.3,1518.3 819.5,1518.3 830.7,1511.4 847.4,1507.2 833.5,1508.6 827.9,1503 833.5,1487.6 855.8,1477.8 875.4,1472.2 886.6,1463.8 899.1,1449.9 903.3,1435.9 904.7,1402.4 911.7,1391.2 931.3,1384.2 950.8,1380 960,1375.3 974,1372.5 996.3,1368.3 1015.9,1365.5 1022.9,1358.5 1038.3,1355.7 1036.9,1348.7 1020.1,1343.2 1034.1,1340.4 1035.5,1334.8 1021.5,1332 1032.7,1312.4 1043.8,1292.8 1055,1267.7 1059.2,1245.3 1063.4,1225.8 1071.8,1231.4 1092.8,1217.4 1096.9,1207.6 1105.3,1199.2 1124.9,1190.8 1152.8,1186.6 1166.8,1185.2 1172.4,1195 1183.6,1196.4 1176.6,1189.4 1180.8,1172.7 1192,1167.1 1219.9,1164.3 1226.9,1165.7 1232.5,1174.1 1229.7,1183.8 1239.5,1183.8 1236.7,1176.9 1242.3,1172.7 1247.9,1178.3 1245.1,1189.4 1250.7,1192.2 1249.3,1181.1 1250.7,1164.3 1256.3,1151.7 1281.4,1150.3 1271.6,1148.9 1267.4,1137.7 1275.8,1134.9 1277.2,1122.4 1270.2,1112.6 1260.4,1114 1256.3,1105.6 1275.5,1098.6 1264.3,1076.3 1257.3,1062.3 1239.1,1062.3ZM1925.3,2284.3 1918.8,2295.5 1920.7,2310.4 1923.5,2327.2 1929.1,2338.4 1938.4,2345.8 1947.7,2353.3 1958.9,2360.7 1970.1,2368.2 1974.7,2371.9 1973.8,2381.2 1971.9,2385 1966.3,2380.3 1958.9,2380.3 1954.2,2386.8 1952.3,2398 1952.3,2404.5 1946.8,2398 1944,2385 1938.4,2373.8 1934.6,2366.3 1925.3,2367.3 1923.5,2377.5 1921.6,2384 1914.2,2380.3 1912.3,2371.9 1908.6,2364.5 1906.7,2355.1 1912.3,2347.7 1910.4,2338.4 1903,2329.1 1893.7,2321.6 1884.3,2313.2 1885.3,2308.6 1891.8,2304.8 1897.4,2298.3 1896.5,2291.8 1903,2291.8 1910.4,2293.7 1916,2288.1 1919.7,2284.3ZM1854.5,2267.6 1856.4,2254.5 1862,2251.7 1864.8,2258.3 1862,2265.7ZM1844.3,2293.7 1847.1,2286.2 1854.5,2283.4 1857.3,2275 1862,2284.3 1868.5,2297.4 1866.6,2301.1 1854.5,2299.2ZM1859.2,2273.2 1862,2273.2 1865.7,2283.4 1862.9,2284.3ZM1858.3,2312.3 1862,2308.6 1876.9,2320.7 1877.8,2324.4 1871.3,2323.5 1868.5,2327.2 1862.9,2321.6ZM1809.8,2190.2 1821,2187.5 1824.7,2191.2 1819.1,2194.9 1820.1,2204.2 1824.7,2209.8 1832.2,2213.5 1833.1,2217.3 1822.9,2213.5 1819.1,2207.9 1818.2,2200.5 1810.7,2195.8ZM1549.9,1827.9 1554.1,1822.3 1568,1833.5 1562.5,1837.7ZM1542.9,1839 1547.1,1836.3 1551.3,1861.4 1547.1,1864.2ZM1565.3,1858.6 1570.8,1857.2 1590.4,1881 1584.8,1882.4ZM1570.8,1894.9 1576.4,1897.7 1587.6,1913.1 1582,1914.5ZM1646.6,1948.9 1655.9,1947.1 1670.8,1951.7 1668.9,1956.4 1654,1954.5ZM1645.6,1961.1 1655.9,1960.1 1682,1965.7 1680.1,1967.6 1655.9,1964.8ZM1629.8,1969.4 1639.1,1969.1 1637.3,1973.2 1630.7,1973.2ZM1659.6,1976 1674.5,1975 1685.7,1978.8 1682,1981.5 1663.4,1980.6ZM1330.5,1988.6 1338.9,1987.2 1347.3,1984.4 1346.7,1994.2 1338.9,1991.4 1331.9,1992.2ZM2426.9,932.3 2380,932.3 2334.7,933.7 2301.2,935.1 2264.8,932.3 2242.5,933.7 2225.7,942.1 2208.9,956.1 2194.9,975.6 2183.8,1000.8 2168.4,1023.2 2155.8,1039.9 2148.8,1059.5 2147.4,1087.4 2136.3,1107 2122.3,1121 2108.3,1121 2091.5,1119.6 2083.2,1116.8 2072,1104.2 2058,1091.6 2044,1091.6 2024.5,1101.4 2010.5,1115.4 2002.1,1134.9 1985.3,1148.9 1968.6,1154.5 1954.6,1143.3 1944.8,1129.4 1949,1115.4 1951.8,1095.8 1960.2,1076.3 1970,1060.9 1982.5,1055.3 1999.3,1045.5 2013.3,1038.5 2027.3,1039.9 2041.2,1051.1 2055.2,1062.3 2066.4,1062.3 2077.6,1053.9 2088.7,1042.7 2087.3,1031.5 2083.2,1012 2074.8,992.4 2066.4,975.6 2055.2,970.1 2041.2,963.1 2030.1,965.9 2018.9,978.4 2007.7,995.2 1996.5,1000.8 1979.7,999.4 1965.8,995.2 1951.8,984 1935,970.1 1932.2,953.3 1923.8,936.5 1912.7,908.6 1907.1,889 1893.1,879.2 1898.7,869.4 1900.1,847.1 1912.7,821.9 1932.2,814.9 1951.8,805.2 1957.4,806.6 1957.4,816.3 1971.4,830.3 1985.3,840.1 1989.5,861.1 2000.7,870.8 2010.5,876.4 2024.5,873.6 2038.4,863.8 2048.2,852.7 2048.2,835.9 2045.4,813.5 2044.5,810 2041.7,799.6 2045.9,787 2051.4,773.1 2051.4,761.9 2055.6,752.1 2051.4,745.1 2044.5,745.1 2041.7,754.9 2033.3,757.7 2016.5,750.7 2010.9,742.3 2002.5,728.4 2002.5,714.4 2005.3,711.6 2019.3,706 2002.5,704.6 1998.3,692 2005.3,690.6 2009.5,686.4 2005.3,680.8 2001.1,675.3 2002.5,664.1 2013.7,661.3 2013.7,655.7 2027.7,657.1 2031.9,647.3 2038.9,651.5 2045.9,640.3 2065.4,638.9 2067.4,630.5 2072.4,634.7 2083.6,633.3 2099,636.1 2103.2,620.8 2110.1,630.5 2112.9,620.8 2114.3,626.3 2128.3,624.4 2153.5,633.3 2160.4,630.5 2175.8,641.7 2202.4,641.7 2226.1,644.5 2231.7,630.5 2228.9,618 2230.3,609.6 2235.9,608.2 2240.1,618 2248.5,619.4 2249.9,605.4 2254.1,599.8 2261.1,605.4 2270.8,606.8 2279.2,602.6 2280.6,591.4 2286.2,587.2 2301.6,588.6 2321.2,595.6 2332.3,599.8 2339.3,598.4 2340.7,588.6 2326.7,584.4 2323.9,574.6 2318.4,569 2304.4,566.3 2284.8,569 2279.2,566.3 2270.8,553.7 2259.7,546.7 2252.7,531.3 2263.9,541.1 2262.5,531.3 2256.9,525.7 2262.5,521.5 2266.7,517.3 2262.5,513.2 2249.9,518.7 2248.5,524.3 2237.3,531.3 2220.5,532.7 2216.3,528.5 2217.7,534.1 2202.4,536.9 2194,535.5 2189.8,527.1 2177.2,532.7 2175.8,539.7 2152.1,543.9 2156.3,527.1 2166,527.1 2161.8,520.1 2153.5,529.9 2150.7,545.3 2132.5,546.7 2132.5,556.5 2121.3,545.3 2125.5,553.7 2117.1,560.7 2112.9,550.9 2103.2,559.3 2089.2,562.1 2080.8,570.4 2058.4,574.6 2058.4,580.2 2050.1,587.2 2045.9,580.2 2027.7,585.8 2013.7,591.4 1999.7,590 2002.5,579.7 1994.2,585.8 1984.4,584.4 1980.2,574.6 1970.4,571.8 1971.8,563.5 1983,550.9 1966.2,563.5 1950.8,562.1 1959.2,548.1 1941.1,545.3 1929.9,541.1 1918.7,532.7 1918.7,524.3 1907.5,534.1 1903.3,528.5 1896.3,522.9 1897.7,510.4 1893.5,499.2 1897.7,482.4 1899.1,465.6 1904.7,451.7 1904.7,437.7 1901.9,427.9 1910.3,427.9 1904.7,425.1 1901.9,406.9 1894.9,390.2 1890.7,376.2 1896.3,359.4 1894.9,344.1 1885.2,334.3 1881,311.9 1885.2,291 1896.3,282.6 1900.5,261.6 2420,200ZM1845.6,1062.3 1859.6,1058.1 1867.9,1062.3 1876.3,1076.3 1879.1,1093 1870.7,1104.2 1859.6,1104.2 1851.2,1093 1842.8,1081.8ZM2197,1881.7 2210,1883.9 2220.9,1886.1 2233.9,1877.4 2251.3,1877.4 2254.6,1890.4 2253.5,1899.1 2240.4,1907.8 2227.4,1918.7 2214.3,1918.7 2203.5,1912.2 2197,1899.1ZM2178,1823 2188.4,1808.5 2204.9,1798.1 2217.3,1787.8 2233.9,1771.2 2246.3,1769.2 2254.6,1762.9 2258.8,1748.4 2267,1745.3 2274.3,1750.5 2273.3,1767.1 2271.2,1789.9 2265,1808.5 2258.8,1818.8 2246.3,1827.1 2225.6,1832.3 2204.9,1831.3 2188.4,1829.2ZM2217.3,1663.6 2231.8,1663.6 2225.6,1680.1ZM2340.3,1775.1 2345.9,1747.2 2357,1722 2380,1713.6 2380,1719.2 2362.6,1736 2351.5,1758.4Z" clip-rule="nonzero"/></clipPath></defs>
<g clip-path="url(#fr)">
<path d="M450,363.6 459.7,362.2 461.1,348.3 465.3,346 470.9,348.3 473.7,343.2 482.1,348.3 491.9,358.9 494.7,341.3 497.5,348.3 503.1,352.4 501.7,360 494.7,360.8 492.7,365 487.7,374 488.5,386 483.5,384.6 476.5,376.2 470.9,367.8 470.4,374 463.1,377.6 462,374.8 454.2,374.8ZM476.5,389.6 483.5,391.6 492.7,398.6 491,406.9 484.9,402.8 479.3,399.1ZM474.3,417.3 477.1,416.2 487.1,426.5 491,443.8 487.7,444.7 479.9,437.7 476.5,429.3ZM758.8,521.5 758.8,539.7 770,540.5 771.4,549.5 768.6,560.7 764.4,562.1 766.6,573.2 761.6,576 761,599.8 756.6,601.2 754.6,594.2 757.4,580.2 759.4,574.6 758.8,562.1 754.6,562.9 755.4,569 750.4,571.3 744.8,566.3 739.2,563.5 738.7,556.5 743.4,554.5 751.8,553.7 756,549.5 752.6,541.1 743.4,538.3 746.2,531.3 753.2,524.3ZM765.8,515.9 770,511.8 773.3,513.2 772.2,535.5 766.6,536.1 764.9,527.1ZM777,504.8 781.2,500 786.2,503.4 783.4,517.3 777,517.3 775.6,510.4ZM655.4,673.9 661,670.2 668,672.5 672.7,680.8 683.3,689.2 680.5,696.2 672.2,689.2 666.6,693.4 659.6,692.6 655.4,686.4ZM652.6,693.4 659.6,694.8 666.6,704.6 658.2,707.4 652.6,700.4ZM672.2,701.8 679.1,702.6 677.7,711.6 673.5,710.2ZM688.9,666.9 690.3,659.9 695.9,655.1 704.3,655.1 703.5,659.9 695.9,661.3ZM509.4,732.1 515,741.9 509.4,755.9 515,757.3 510.8,762.9 503.8,761.5 499.7,769.9 503.8,774.1 501.1,783.8 495.5,789.4 487.1,788 474.5,806.2 466.1,796.4 475.9,789.4 478.7,781.1 470.3,783.8 466.1,768.5 470.3,760.1 477.3,760.1 482.9,750.3 494.1,746.1ZM446.6,814.6 461.9,810.4 468.9,814.6 464.7,828.6 457.7,827.2 447.9,823ZM453.5,831.4 461.9,830 463.3,835.6 456.3,837.5ZM451.3,839.2 457.7,838.3 461.9,863.5 453.5,864.3ZM447.9,870.5 453,869.1 454.1,877.5 446.6,879.4 444.6,876.1ZM502.4,811.8 508,810.4 516.4,820.2 515,839.7 516.4,848.1 509.4,849.5 499.7,843.9 494.1,839.7 487.1,841.1 483.7,831.4 488.5,818.8 495.5,824.4 502.4,823ZM519.2,980.9 533.2,952.9 538.8,951.5 531.8,968.3 522,985.1ZM498.3,979.5 515,971.1 519.2,982.3 517.8,992.1 520.6,996.3 509.4,1003.2 505.2,987.9 496.9,996.3ZM553.6,996.3 556.9,989.3 563.9,992.1 569.5,1006 566.7,1015.8 558.3,1014.4 554.2,1007.4ZM473.1,919.4 485.7,915.2 499.7,902.6 498.3,906.8 487.1,915.2 475.9,925ZM501.1,870.5 506.6,867.7 510.8,871.9 509.4,878.9 503.8,879.4ZM572.3,721 587.7,723.8 584.9,737.7 594.7,726.6 604.5,731.3 632.4,726.6 639.4,722.4 653.4,724.6 656.2,719 672.4,719 672.9,736.3 668.7,750.3 663.2,755.9 652,767.1 640.8,776.9 624,786.6 621.8,793.6 604.5,790 612.8,796.4 628.2,798.4 634.6,794.5 629.6,804.8 625.4,810.4 615.6,806.8 605.9,813.2 603.1,818.8 612.8,814 618.4,813.2 617,820.2 611.4,828 626.8,820.2 649.2,811.8 652,807.6 660.4,807.6 668.7,811.8 672.9,809.6 705.1,811.8 716.3,810.4 719,808.4 727.4,810.4 735.8,827.2 733,836.9 723.2,850.9 719,867.7 713.5,878.9 713.5,887.3 705.1,895.6 700.9,901.2 699.5,912.4 688.3,920.8 678.5,922.2 682.7,934.8 692.5,937.6 693.9,941.8 688.3,947.3 675.7,948.7 665.9,957.1 660.4,962.7 638,960.5 636.6,962.7 649.2,965.5 660.4,968.3 670.1,970.5 678.5,966.9 679.9,961.3 692.5,959.9 705.1,968.3 720.4,976.7 727.4,990.7 734.4,997.7 742.8,1003.2 745.6,1015.8 745.6,1027 751.2,1046.6 755.4,1056.3 758.2,1071.7 766.6,1085.7 794.5,1096.9 805.1,1115.9 813.5,1127.1 820.4,1129.9 813.5,1141.1 820.4,1155 831.6,1171.8 830.2,1176 823.2,1170.4 810.7,1164.8 788.3,1164.8 807.9,1166.2 819,1174.6 835.8,1190 841.4,1203.9 842.8,1212.3 838.6,1222.1 828.8,1229.1 824.6,1233.8 831.6,1236.1 837.2,1241.7 844.2,1238.9 847,1230.5 856.8,1226.3 873.5,1227.7 891.7,1229.1 904.3,1238.9 911.3,1250.1 912.7,1261.2 907.1,1280.8 902.9,1299 893.1,1310.1 883.3,1304.6 888.9,1315.7 883.3,1324.1 873.5,1324.1 859.6,1329.7 870.8,1328.3 873.5,1335.3 865.2,1343.7 849.8,1346.5 845.6,1349.3 859.6,1350.7 870.8,1354.9 873.5,1359 894.5,1354.9 895.9,1364.6 891.7,1375.8 874.9,1381.4 870.8,1389.8 859.6,1398.2 845.6,1399.6 837.2,1406.6 810.7,1400.4 788.3,1402.4 782.7,1408 772.9,1403.8 765.9,1399.6 756.2,1405.2 738,1406.6 728.2,1408 719.8,1409.4 726.8,1412.7 725.4,1417.7 715.6,1416.3 701.7,1416.3 701.7,1422.8 691.9,1412.2 676.5,1409.4 656.9,1414.9 648.6,1426.1 643,1444.3 637.4,1449.9 629,1442.9 615,1435.9 603.8,1435.9 582.9,1442.9 570.3,1451.3 561.9,1462.5 547.9,1468 536.8,1463.9 539.6,1452.7 549.3,1448.5 566.1,1435.9 571.7,1421.9 585.7,1417.7 588.5,1406.6 596.9,1399.6 596.9,1385.6 605.2,1385.6 615,1370.2 631.8,1367.4 651.4,1368.8 672.3,1370.2 675.1,1356.3 684.9,1347.9 698.9,1329.7 704.5,1324.1 687.7,1339.5 672.3,1343.7 662.5,1354.9 651.4,1354.9 640.2,1347.9 633.2,1338.1 623.4,1335.3 613.6,1342.3 609.4,1336.7 616.4,1333.9 609.4,1329.7 592.7,1328.3 580.1,1331.1 571.7,1338.1 580.1,1328.3 566.1,1328.9 561.9,1325.5 566.1,1321.3 560.5,1317.1 567.5,1308.7 580.1,1305.9 587.1,1296.2 599.7,1294.8 612.2,1283.6 617.8,1275.2 619.2,1265.4 616.4,1255.6 619.2,1244.5 616.4,1238.9 609.4,1232.7 595.5,1241.7 585.7,1240.3 592.7,1231.9 603.8,1224.9 606.6,1216.5 603.8,1212.3 596.9,1206.7 594.9,1194.2 601.1,1188.6 608,1190 612.2,1196.9 619.2,1198.3 617.8,1205.3 631.8,1199.7 650,1195.6 656.9,1194.2 666.7,1202.5 663.9,1191.4 670.9,1190 677.9,1198.3 684.9,1198.3 687.7,1194.2 675.1,1194.2 670.9,1183 668.1,1176 672.3,1167.6 679.3,1162.9 672.3,1159.2 670.4,1149.4 675.1,1143.8 682.1,1135.5 682.7,1122.9 673.7,1128.5 665.3,1132.1 659.7,1122.9 651.4,1113.1 643,1096.3 642.2,1096.9 643.6,1088.5 649.2,1074.5 653.4,1066.1 660.4,1059.1 671.5,1056.3 663.2,1057.7 652,1060.5 636.6,1063.3 626.8,1073.1 615.6,1068.9 604.5,1061.9 601.7,1068.9 605.9,1081.5 597.5,1077.3 589.1,1071.7 580.7,1067.5 576.5,1074.5 580.7,1085.7 575.1,1085.7 568.1,1068.9 564.8,1063.3 563.9,1052.2 569.5,1043.8 579.9,1032.6 582.1,1021.4 587.7,1015.8 591,1007.4 587.7,999 582.1,996.3 576.5,990.7 576.5,979.5 580.7,968.3 579.3,955.7 570.9,976.7 562.5,971.1 559.7,976.7 556.9,968.3 559.7,957.1 570.9,945.9 576.5,940.4 559.7,951.5 554.2,968.3 556.9,975.3 552.8,982.3 547.2,1015.8 543,1027.6 534.6,1027 533.2,1018.6 541.6,987.9 540.2,979.5 543,969.7 540.2,962.7 547.2,950.1 544.4,948.7 543,937.6 554.2,923.6 562.5,923.6 568.1,915.2 559.7,918 554.2,915.2 565.3,892.8 548.6,909.6 545.8,920.8 540.2,926.4 534.6,937.6 526.2,936.2 515,940.9 505.2,940.4 505.2,934.8 513.6,932 520.6,920.8 509.4,919.4 506.6,912.4 512.2,908.2 531.8,901.2 510.8,901.2 512.2,895.6 527.6,885.9 534.6,870.5 543,850.9 541.6,849.5 547.2,842.5 550,835.6 543,839.7 530.4,839.7 529.6,831.4 534.6,828.6 545.8,827.2 547.2,823 534.6,825.8 530.4,821.6 533.2,817.4 531.8,796.4 537.4,793.6 538.8,802 543,800.6 541.6,788.9 551.4,788.9 559.7,790 568.1,795 559.7,783.8 553.6,779.7 550,774.1 556.4,773.2 558.3,767.1 553.6,756.7 569.5,755.3 563.9,751.7 565.3,741.9ZM584.8,1134.1 589.9,1120.1 596.9,1107.5 605.2,1104.2 608,1113.1 601.1,1127.1 594.1,1134.1ZM746.4,1412.7 756.2,1406.6 767.3,1408 768.7,1412.7 760.4,1420ZM453.2,1020.5 461.2,1022.8 468,1029.6 476,1034.2 474.9,1038.7 479.4,1039.2 493.1,1034.2 502.2,1032.3 513.6,1034.2 520.4,1037.6 521.5,1045.5 529.5,1056.9 537.5,1067.2 538.6,1074 531.8,1080.8 538.6,1082 545.5,1080.8 550,1093.4 551.2,1100.2 545.5,1111.6 544.3,1118.4 534.1,1118.4 529.5,1123 528.4,1130.9 520.4,1136.6 513.6,1133.2 506.7,1130.9 517,1138.9 512.4,1141.7 504.5,1140.7 504,1148 510.2,1153.7 511.3,1165.1 519.3,1176.5 518.1,1184.5 514.7,1193.6 519.3,1205 520.4,1216.4 518.1,1227.7 515.9,1239.1 513.6,1250.5 513.6,1261.9 507.9,1271 504.5,1275.6 498.8,1282.4 506.7,1288.1 504.5,1292 495.4,1289.2 479.4,1292.6 474.9,1285.8 473.7,1293.8 465.8,1293.8 454.4,1296.1 444.1,1300.6 440.7,1309.7 429.3,1312 427,1318.8 413.4,1323.4 410,1317.7 402,1317.7 407.7,1323.4 403.1,1330.2 395.2,1334.8 392.9,1338.2 379.2,1341.6 367.8,1343.9 359.9,1349.6 349.6,1347.3 348.5,1337.1 333.7,1341.6 320,1337.1 315.4,1337.1 315.4,1296.1 320,1293.8 330.2,1287 329.1,1273.3 337.1,1261.9 361,1252.8 380.4,1250.5 365.5,1255.1 342.8,1257.3 326.8,1259.6 342.8,1246 349.6,1227.7 359.9,1211.8 369,1214.1 374.7,1209.5 374.7,1201.5 358.7,1202.7 342.8,1200.4 337.1,1191.3 329.1,1194.7 320,1189 315.4,1189 315.4,1175.4 335.9,1174.9 324.6,1174.2 326.8,1162.8 342.8,1159.4 342.8,1148 320,1145.8 315.4,1145.8 315.4,1113.9 320,1113.9 329.1,1111.6 342.8,1112.7 354.2,1111.6 362.1,1116.1 365.5,1125.3 369,1116.1 388.3,1117.3 398.6,1116.1 389.5,1109.3 397.4,1105.9 407.7,1100.2 411.1,1087.7 399.7,1087.7 388.3,1085.4 381.9,1080.8 388.3,1074 402,1069.5 405.4,1063.8 398.6,1058.1 400.8,1049 407.7,1043.3 422.5,1035.3 427,1036.4 430.5,1031.9 439.6,1028.5 443,1034.2 446.4,1027.3 453.2,1025.1ZM1176.5,261.6 1172.3,281.2 1175.1,291 1173.2,297.9 1159.7,302.1 1158.3,309.1 1143,314.7 1138.8,321.7 1151.4,325.9 1140.2,330.1 1129,335.7 1117.8,335.7 1116.4,345.5 1106.6,349.7 1101.1,353.8 1103.8,359.4 1092.7,362.2 1082.9,358 1078.7,365 1089.9,374.8 1081.5,384.6 1071.7,390.2 1064.7,395.8 1071.7,404.2 1080.1,401.4 1073.1,412.5 1084.3,420.9 1085.7,430.7 1073.1,440.5 1073.1,448.9 1080.1,454.5 1073.1,462.8 1064.7,468.4 1064.7,478.2 1074.5,479.6 1074.5,493.6 1078.7,502 1070.3,506.2 1067.5,513.2 1075.9,524.3 1073.1,532.7 1080.1,538.3 1074.5,546.7 1073.1,563.5 1081.5,566.3 1092.7,571.8 1103.8,566.3 1106.6,577.4 1098.3,583 1087.1,591.4 1080.1,599.8 1077.3,608.2 1080.1,624.9 1087.1,627.7 1084.3,638.9 1082.9,652.9 1081.5,669.7 1088.5,671.1 1092.7,661.3 1103.8,654.3 1115,655.7 1123.4,661.3 1119.2,675.3 1122,686.4 1112.2,689.2 1102.4,685 1098.3,706 1101.1,717.2 1109.4,731.2 1119.2,736.7 1126.2,745.1 1140.2,750.7 1151.4,757.7 1162.5,759.1 1154.2,770.3 1159.7,774.5 1172.3,771.7 1177.9,780.1 1187.7,777.3 1201.7,773.1 1215.6,774.5 1228.2,773.1 1236.6,766.1 1249.2,756.3 1257.6,749.3 1263.2,739.5 1277.1,722.8 1289.7,714.4 1295.3,700.4 1310.7,686.4 1302.3,673.9 1313.5,679.4 1319,689.2 1327.4,683.6 1335.8,679.4 1341.4,666.9 1344.2,659.9 1351.2,654.3 1349.8,638.9 1337.2,631.9 1345.6,629.1 1345.6,619.4 1337.2,612.4 1345.6,615.2 1354,627.7 1351.2,605.4 1354,599.8 1361,596.4 1363.8,604 1355.4,609.6 1356.8,630.5 1361,641.7 1359.6,655.7 1369.4,666.9 1379.1,673.9 1388.9,676.7 1383.3,680.8 1386.1,697.6 1384.7,711.6 1388.9,728.4 1386.1,745.1 1391.7,750.7 1398.7,759.1 1408.5,761.9 1395.9,770.3 1401.5,775.9 1401.5,785.7 1412.7,787 1409.6,802.4 1420.8,810.7 1422.2,833.1 1427.8,835.9 1432,855.5 1440.4,866.6 1444.6,883.4 1454.3,891.8 1457.1,903 1468.3,907.2 1472.5,922.5 1459.9,925.3 1468.3,942.1 1457.1,943.5 1448.7,937.9 1459.9,958.9 1468.3,975.6 1479.5,992.4 1472.5,1003.6 1476.7,1017.6 1493.5,1023.2 1507.4,1016.2 1518.6,1012 1535.4,1019 1543.8,1003.6 1536.8,986.8 1539.6,975.6 1557.7,960.3 1561.9,964.5 1563.3,950.5 1591.3,949.1 1613.6,950.5 1619.2,956.1 1624.8,947.7 1630.4,933.7 1636,914.2 1644.4,905.8 1647.2,891.8 1650,872.2 1655.6,869.4 1650,855.5 1652.8,841.5 1661.2,833.1 1658.4,819.1 1662.5,807.9 1662.1,810 1649.5,792.6 1652.3,782 1656.5,792.6 1664.9,791.2 1662.1,781.5 1666.3,770.3 1667.7,753.5 1662.1,743.7 1648.1,735.3 1666.3,739.5 1673.3,735.3 1659.3,725.6 1636.9,720 1645.3,718.6 1659.3,721.4 1676.1,720 1680.3,713 1695.6,708.8 1706.8,699 1708.2,692 1711,671.1 1715.2,683.6 1720.8,699 1729.2,679.4 1741.8,672.5 1743.2,657.1 1759.9,654.3 1752.9,643.1 1745.9,637.5 1759.9,629.1 1764.1,619.4 1771.1,615.2 1780.9,609.6 1772.5,602.6 1780.9,597 1771.1,591.4 1766.9,577.4 1759.9,573.2 1748.7,570.4 1744.6,557.9 1745.9,549.5 1737.6,550.9 1729.2,535.5 1723.6,525.7 1709.6,534.1 1706.8,524.3 1699.8,522.9 1691.4,518.7 1691.4,502 1685,490.8 1684.5,471.2 1687.3,451.7 1683.1,444.7 1687.3,433.5 1683.1,422.3 1691.4,415.3 1685.9,409.7 1695.6,406.9 1694.2,390.2 1699.8,376.2 1701.2,359.4 1708.2,355.2 1701.2,348.3 1695.6,339.9 1695.6,327.3 1701.2,323.1 1708.2,330.1 1712.4,321.7 1718,325.9 1729.2,313.3 1726.4,297.9 1729.2,291 1736.2,296.6 1745.9,289.6 1752.9,281.2 1755.7,261.6ZM1647.2,944.9 1645.8,919.7 1654.2,891.8 1666.7,869.4 1675.1,844.3 1680.7,840.1 1682.1,847.1 1675.1,875 1663.9,900.2 1658.4,925.3 1651.4,946.3ZM1803.2,563.5 1807.4,559.3 1817.2,560.7 1815.8,549.5 1821.4,545.3 1832.6,549.5 1842.4,557.9 1838.2,567.7 1831.2,566.3 1827,573.2 1839.6,580.2 1838.2,588.1 1829.8,584.4 1824.2,577.4 1815.8,577.4 1810.2,570.4 1804.6,573.2ZM1916.4,535.5 1922,538.3 1927.6,549.5 1919.2,552.3ZM1931.8,555.1 1943,555.1 1940.2,560.7 1933.2,559.3ZM1912.2,569 1920.6,566.3 1919.2,573.2 1913.1,574.6ZM1950,566.3 1966.7,564.9 1969.5,573.2 1963.9,585.8 1954.2,584.4 1948.6,574.6ZM1969.5,590 1983.5,588.6 1987.7,591.4 1977.9,597ZM1972.3,604 1986.3,597 1997.5,595.6 1991.9,602.6 1977.9,605.4ZM1930.4,689.2 1947.2,687.8 1957,678 1963.9,680.8 1975.1,689.2 1980.7,700.4 1969.5,703.2 1962.5,713 1952.8,714.4 1948.6,700.4 1941.6,696.2ZM1919.2,733.9 1936,728.4 1958.4,722.8 1975.1,724.2 1994.7,736.7 1984.9,742.3 1975.1,756.3 1958.4,764.7 1944.4,766.1 1936,781.5 1931.8,789.8 1927.6,787 1931.8,773.1 1936,767.5 1927.6,761.9 1919.2,750.7 1926.2,742.3ZM1983.5,682.2 1994.7,680.8 1997.5,687.8 1986.3,687.8ZM1980.7,722.8 1989.1,715.8 1996.1,724.2 1997.5,729.8 1987.7,728.4ZM1735.5,878.7 1731.9,842.5 1739.1,813.5 1753.6,795.4 1779,785.9 1793.5,783 1782.6,799 1775.4,820.7 1768.1,842.5 1757.2,857 1746.4,867.8 1742.8,882.3ZM1314.6,1014.8 1320.2,1003.6 1342.5,998 1350.9,1003.6 1346.7,1012 1353.7,1014.8 1359.3,1000.8 1364.9,1012 1367.7,1028.7 1362.1,1048.3 1352.3,1049.7 1334.2,1044.1 1331.4,1034.3 1320.2,1025.9ZM1359.3,1076.3 1362.1,1059.5 1373.3,1038.5 1367.7,1059.5 1363.5,1076.3ZM1376.1,1070.7 1381.7,1058.1 1392.8,1056.7 1404,1067.9 1412.4,1056.7 1420.8,1060.9 1432,1065.1 1418,1083.2 1401.2,1084.6 1390.1,1080.4 1378.9,1076.3ZM1412.4,1059.5 1432,1062.3 1434.8,1053.9 1448.7,1049.7 1454.3,1056.7 1440.4,1059.5 1432,1067.9 1423.6,1090.2 1418,1076.3ZM1370.5,988.2 1385.9,991 1401.2,975.6 1399.8,970.1 1390.1,965.9 1405.4,970.1 1413.8,967.3 1409.6,984 1418,995.2 1420.8,972.8 1423.6,964.5 1437.6,953.3 1450.1,956.1 1455.7,961.7 1452.9,975.6 1455.7,989.6 1445.9,1000.8 1437.6,1009.2 1439,1017.6 1447.3,1021.8 1448.7,1030.1 1437.6,1034.3 1429.2,1039.9 1434.8,1045.5 1432,1055.3 1420.8,1052.5 1412.4,1045.5 1415.2,1037.1 1395.6,1034.3 1387.3,1035.7 1384.5,1009.2 1378.9,993.8ZM1377.5,1102.8 1380.3,1095.8 1388.7,1095.8 1391.4,1105.6ZM1369.1,849.9 1374.7,845.7 1385.9,843.7 1378.9,854.1ZM1561.9,1045.5 1563.3,1027.3 1584.3,1041.3 1581.5,1053.9ZM1489.3,1083.2 1496.3,1080.4 1500.4,1087.4 1508.8,1088.8 1506,1098.6 1513,1105.6 1511.6,1115.4 1501.8,1111.2 1494.9,1118.2 1485.1,1109.8 1487.9,1101.4 1485.1,1093ZM1350.9,964.5 1355.1,972.8 1356.5,985.4 1352.3,985.4ZM689.5,1510 695.1,1503 699.3,1504.4 696.5,1510ZM710.5,1522.5 723.1,1523.9 723.1,1529.5 711.9,1526.7ZM660.2,1663.7 670,1669.3 663,1669.3ZM746.8,1747.5 760.8,1748.9 755.2,1753.1ZM753.8,1762.9 763.6,1769.9 766.4,1778.3 759.4,1774.1ZM1291.4,1997.2 1292.9,1975.1 1297.3,1973.6 1298.8,2001.6 1303.2,2019.3 1301.7,2037 1295.8,2060.6 1288.4,2084.2 1276.6,2079.8 1264.8,2069.5 1270.7,2063.6 1260.4,2060.6 1264.8,2050.3 1254.5,2044.4 1261.9,2037 1254.5,2028.2 1258.9,2019.3 1253,2016.4 1258.9,2006 1276.6,1997.2 1284,1992.8ZM1285.5,2093.1 1303.2,2100.4 1307.6,2110.8 1301.7,2113.7 1312,2131.4 1315,2147.7 1307.6,2158 1310.6,2172.7 1307.6,2202.2 1301.7,2233.2 1288.4,2221.4 1279.6,2224.4 1270.7,2233.2 1276.6,2240.6 1266.3,2248 1257.5,2245 1253,2237.6 1245.7,2242.1 1242.7,2234.7 1248.6,2224.4 1244.2,2214 1248.6,2187.5 1245.7,2181.6 1248.6,2158 1239.8,2137.3 1232.4,2134.4 1233.9,2113.7 1241.2,2119.6 1258.9,2113.7 1273.7,2101.9ZM943.3,2200.8 958,2187.5 977.2,2180.1 983.1,2191.9 993.4,2190.4 999.3,2194.9 990.5,2211.1 977.2,2222.9 963.9,2215.5 958,2202.2 947.7,2205.2ZM1014.1,2172.7 1020,2170.4 1033.2,2172.1 1040.6,2181.6 1039.1,2189 1024.4,2181.6 1015.5,2180.1ZM884.3,2246.5 888.7,2236.2 899,2232.3 905.5,2236.2 900.5,2246.5 891.6,2250.9ZM1329.7,1988.3 1341.5,1986.9 1346,1983.9 1346.9,1994.2 1338.6,1992.2 1331.2,1992.8ZM828.2,2430 840,2420.6 854.8,2405.8 869.5,2397 899,2394 928.5,2391.1 937.4,2388.1 949.2,2391.1 963.9,2383.7 978.7,2385.2 987.5,2380.7 1008.2,2376.3 1017,2373.4 1028.8,2376.3 1046.5,2374.8 1076,2385.2 1090.8,2388.1 1105.5,2383.7 1123.2,2379.3 1138,2373.4 1140.9,2364.5 1148.3,2361.5 1155.7,2368.9 1170.4,2370.4 1182.2,2366 1185.2,2361.5 1202.9,2364.5 1214.7,2374.8 1232.4,2373.4 1258.9,2370.4 1273.7,2358.6 1294.3,2349.7 1317.9,2345.3 1320.9,2352.7 1335.6,2355.6 1338.6,2367.4 1335.6,2379.3 1347.4,2383.7 1359.3,2373.4 1371.1,2361.5 1379.9,2358.6 1380.8,2373.4 1374,2383.7 1368.1,2399.9 1354.8,2411.7 1353.4,2447.1 828.2,2450.1ZM1239.1,1062.3 1240.5,1056.7 1246.1,1048.3 1250.3,1037.1 1257.3,1041.3 1258.7,1023.2 1255.9,1009.2 1239.1,1009.2 1229.3,1003.6 1234.9,986.8 1232.1,958.9 1233.5,919.7 1236.3,903 1241.9,886.2 1255.9,863.8 1272.7,861.1 1292.2,861.1 1303.4,855.5 1311.8,835.9 1324.4,820.5 1342.5,816.3 1355.1,805.2 1357.9,807.9 1348.1,819.1 1350.9,835.9 1352.3,852.7 1345.3,866.6 1338.3,875 1339.7,891.8 1343.9,903 1341.1,912.8 1350.9,919.7 1367.7,916.9 1373.3,925.3 1367.7,942.1 1360.7,950.5 1356.5,944.9 1352.3,956.1 1346.7,947.7 1342.5,942.1 1336.9,950.5 1339.7,964.5 1323,963.1 1311.8,972.8 1307.6,984 1311.8,992.4 1323,992.4 1328.6,981.2 1320.2,978.4 1325.8,972.8 1336.9,975.6 1334.2,984 1327.2,992.4 1316,1000.8 1309,1006.4 1306.2,1020.4 1310.4,1030.1 1303.4,1037.1 1296.4,1045.5 1297.8,1052.5 1311.8,1045.5 1323,1052.5 1328.6,1062.3 1311.8,1070.7 1323,1073.5 1328.6,1084.6 1325.8,1098.6 1339.7,1101.4 1352.3,1105.6 1362.1,1111.2 1377.5,1107 1380.3,1121 1373.3,1132.2 1364.9,1134.9 1367.7,1140.5 1378.9,1137.7 1395.6,1146.1 1402.6,1136.3 1409.6,1128 1423.6,1123.8 1440.4,1115.4 1445.9,1107 1451.5,1100 1471.1,1101.4 1478.1,1105.6 1485.1,1115.4 1496.3,1123.8 1501.8,1130.8 1513,1125.2 1521.4,1134.9 1535.4,1146.1 1546.6,1146.1 1579.7,1129.9 1607.7,1120.1 1635.6,1115.9 1644,1103.3 1658,1092.1 1677.6,1090.7 1697.1,1082.4 1705.5,1074 1719.5,1069.8 1747.4,1069.8 1755.8,1101.9 1767,1108.9 1760,1118.7 1758.6,1143.8 1767,1157.8 1783.8,1173.2 1806.1,1181.6 1825.7,1181.6 1839.7,1170.4 1845.3,1157.8 1846.7,1149.4 1859.2,1149.4 1870.4,1169 1884.4,1181.6 1901.2,1188.6 1917.9,1191.4 1929.1,1202.5 1933.3,1215.1 1930.5,1233.3 1923.5,1258.4 1922.1,1289.2 1927.7,1303.2 1943.1,1312.9 1959.8,1314.3 1980,1314.9 2007.7,1322.4 2035.6,1330.7 2052.4,1333.5 2069.2,1344.7 2080.4,1358.7 2088.7,1375.5 2092.9,1395 2091.5,1417.4 2087.3,1434.2 2087.3,1450.9 2091.5,1460.7 2105.5,1470.5 2119.5,1480.3 2127.9,1495.6 2132.1,1518 2130.7,1551.5 2139,1571.1 2147.4,1590.7 2155.8,1604.6 2164.2,1613 2175.4,1618.6 2186.6,1629.8 2194.9,1646.6 2203.3,1660.5 2206.1,1666.1 2197.7,1674.5 2186.6,1681.5 2172.6,1685.7 2161.4,1696.9 2155.8,1708 2147.4,1719.2 2136.3,1730.4 2122.3,1727.6 2108.3,1731.8 2104.1,1740.2 2111.1,1747.2 2127.9,1747.2 2139,1754.2 2144.6,1763.9 2140.4,1775.1 2139.3,1773 2147,1790.4 2162.2,1805.7 2164.3,1811.1 2157.8,1816.5 2154.6,1829.6 2147,1836.1 2133.9,1843.7 2130.7,1855.7 2131.7,1866.5 2138.3,1875.2 2136.1,1883.9 2125.2,1878.5 2112.2,1881.7 2090.4,1890.4 2078.5,1901.3 2075.2,1912.2 2072,1929.6 2072,1931.7 2090.4,1940.4 2112.2,1953.5 2125.2,1962.2 2129.6,1977.4 2130.7,1999.1 2125.2,2020.9 2120.9,2031.7 2112.2,2038.3 2099.1,2033.9 2081.7,2031.7 2068.7,2020.9 2055.7,2012.2 2040.4,2005.7 2029.6,1999.1 2026.3,1986.1 2031.7,1973 2040.4,1960 2049.1,1947 2055.7,1937.2 2064.3,1932.8 2071.3,1931.7 2051.5,1914.7 2032.6,1903.7 2020,1902.1 2001,1914.7 1988.4,1927.4 1986.8,1946.3 1991.5,1971.6 2001,1987.4 2007.3,2003.1 1994.7,2015.8 1982.1,2028.4 1978.9,2041 1985.2,2053.7 1982.1,2069.4 1985.2,2085.2 2007.3,2078.9 2032.6,2072.6 2057.9,2069.4 2070.5,2066.3 2061,2082.1 2048.4,2094.7 2029.4,2104.2 2016.8,2116.8 2010.5,2123.1 1994.7,2124.7 1982.1,2118.4 1963.1,2126.3 1944.2,2135.8 1931.6,2129.4 1925.2,2116.8 1922.1,2107.3 1903.1,2107.3 1890.5,2120 1887.3,2135.8 1881,2148.4 1884.2,2157.9 1893.7,2162.6 1903.1,2154.7 1906.3,2145.2 1922.1,2142.1 1930,2151.5 1928.4,2167.3 1915.8,2176.8 1912.6,2192.6 1915.8,2214.7 1922.1,2230.5 1931.6,2246.3 1941,2258.9 1956.8,2265.2 1958.4,2279.4 1947.3,2276.3 1918.9,2274.7 1896.8,2277.8 1887.3,2284.2 1881,2277.8 1877.9,2268.4 1870,2258.9 1868.4,2246.3 1881,2249.4 1884.2,2240 1865.2,2243.1 1862.1,2233.6 1857.1,2240 1847.8,2226.6 1840.4,2221 1832.9,2217.2 1829.2,2213.5 1819.9,2207.9 1814.3,2198.6 1809.6,2189.3 1819.9,2187.4 1829.2,2187.4 1823.6,2176.3 1816.1,2170.7 1805,2165.1 1797.5,2159.5 1791.9,2147.4 1795.6,2153.9 1801.2,2148.3 1801.2,2137.1 1792.8,2135.3 1795.6,2120.4 1801.2,2114.8 1799.4,2103.6 1802.2,2090.5 1800.3,2080.3 1805.9,2070.1 1806.8,2055.1 1793.8,2049.6 1785.4,2047.7 1786.3,2040.2 1778.9,2032.8 1771.4,2023.5 1760.2,2014.2 1750.9,2010.4 1747.2,2003 1734.2,1995.5 1721.1,1986.2 1711.8,1978.8 1704.3,1975 1693.2,1967.6 1680.1,1956.4 1672.7,1948 1661.5,1945.2 1648.4,1937.8 1637.3,1939.6 1627.9,1940.6 1623.3,1935.9 1624.2,1928.4 1611.2,1921 1618.4,1917.3 1607.2,1903.3 1587.6,1886.6 1601.6,1886.6 1587.6,1875.4 1576.4,1861.4 1570.8,1850.2 1570.8,1836.3 1562.5,1825.1 1551.3,1813.9 1540.1,1815.3 1538.7,1825.1 1533.1,1836.3 1526.1,1848.8 1520.5,1850.2 1506.6,1819.5 1503.8,1801.3 1512.2,1797.1 1523.3,1791.5 1517.7,1777.6 1505.2,1783.2 1498.2,1788.7 1491.2,1783.2 1481.4,1785.9 1481.4,1776.2 1478.6,1791.5 1463.2,1797.1 1447.9,1799.9 1442.3,1809.7 1435.3,1815.3 1439.5,1825.1 1450.7,1833.5 1452.1,1840.4 1446.5,1847.4 1439.5,1844.6 1439.5,1861.4 1442.3,1881 1450.7,1894.9 1461.8,1906.1 1475.8,1917.3 1488.4,1928.5 1499.6,1934.1 1508,1936.9 1513.5,1956.4 1517.6,1972.2 1522.5,1989.2 1532.2,2006.2 1546.8,2020.8 1563.8,2033 1573.5,2043.9 1583.3,2047.6 1597.9,2050 1599.1,2069.5 1588.1,2076.8 1578.4,2086.5 1571.1,2106 1568.7,2135.2 1563.8,2131.5 1546.8,2135.2 1549.2,2130.3 1544.3,2123 1532.2,2121.8 1527.3,2115.7 1524.9,2106 1517.6,2098.7 1507.9,2092.6 1495.7,2091.4 1478.7,2092.6 1468.9,2084.1 1456.8,2079.2 1449.5,2069.5 1437.3,2057.3 1425.1,2041.5 1415.4,2037.8 1412.9,2029.1 1403.2,2022.1 1392,2016.5 1382.2,2015.1 1383.6,2009.5 1372.4,1998.4 1364,1987.2 1355.6,1976 1352.8,1956.4 1345.9,1945.3 1340.3,1931.3 1338.9,1915.9 1333.3,1911.7 1319.3,1900.5 1299.7,1889.4 1283,1879.6 1211.7,1917.5 1198.5,1920.5 1182.2,1929.3 1167.5,1944.1 1158.6,1954.4 1157.2,1960.3 1132.1,1966.2 1115.9,1970.6 1105.5,1961.8 1093.7,1957.4 1087.8,1944.1 1076,1938.2 1084.9,1942.6 1076,1945.6 1061.3,1947 1059.8,1936.7 1059.8,1947 1055.4,1948.5 1046.5,1941.1 1031.8,1941.1 1025.9,1936.7 1008.2,1945.6 993.4,1954.4 978.7,1966.2 972.8,1985.4 977.2,1995.7 981.6,2013.4 990.5,2021.7 980.1,2025.2 984.6,2034.1 984.6,2048.8 975.7,2054.7 958,2066.5 937.4,2078.3 928.5,2090.1 899,2097.5 872.5,2106.3 859.2,2122.6 868,2127 854.8,2134.4 851,2141.5 837,2163.9 825.9,2177.9 814.7,2194.6 807.7,2211.4 810.5,2225.4 817.5,2243.5 827.3,2250.5 834.3,2254.7 820.3,2264.5 806.3,2278.5 795.1,2289.7 789.5,2303.6 781.2,2320.4 789.5,2326 778.4,2330.2 761.6,2333 744.8,2348.4 730.8,2359.5 725.3,2373.5 714.1,2383.3 697.3,2376.3 686.1,2387.5 669.4,2383.3 649.8,2386.1 627.4,2384.7 599.5,2387.5 588.3,2398.7 571.5,2397.3 560.4,2404.3 552,2418.2 552,2426.6 543.6,2428 526.8,2419.6 515.6,2412.6 510.1,2401.5 512.8,2395.9 504.5,2390.3 501.7,2376.3 493.3,2367.9 482.1,2356.7 472.3,2352.5 459.7,2353.9 444.4,2358.1 434.6,2365.1 423.4,2365.1 415,2359.5 389.9,2362.3 373.1,2365.1 380.1,2342.8 382.9,2326 380.1,2303.6 382.9,2292.5 387.1,2278.5 378.7,2272.9 363.3,2275.7 359.1,2261.7 346.6,2260.3 347.9,2244.9 353.5,2228.2 353.5,2217 364.7,2208.6 368.9,2197.4 378.7,2175.1 377.3,2163.9 381.5,2141.5 387.1,2127.6 387.1,2110.8 382.9,2091.2 384.3,2071.7 378.7,2057.7 377.3,2035.3 380.1,2024.2 392.7,2017.2 380.1,2013 371.7,2001.8 384.3,1996.2 368.9,1993.4 364.7,1982.2 356.3,1976.6 361.9,1962.7 373.1,1962.7 373.1,1957.1 380.1,1951.5 389.9,1952.9 403.8,1947.3 408,1936.1 417.8,1926.3 429,1922.1 443,1923.5 456.9,1934.7 470.9,1936.1 493.3,1936.1 524,1934.7 529.6,1930.5 543.6,1937.5 557.6,1938.9 571.5,1941.7 588.3,1945.9 610.7,1947.3 627.4,1944.5 644.2,1940.3 669.4,1950.1 677.7,1945.9 697.3,1948.7 711.3,1955.7 722.5,1952.9 733.6,1950.1 744.8,1944.5 751.8,1934.7 754.6,1917.9 758.8,1890 758,1897 762.2,1860.7 770.6,1857.9 762.2,1855.1 763.6,1841.2 766.4,1802 769.2,1796.4 780.4,1807.6 785.9,1824.4 797.1,1841.2 790.1,1827.2 785.9,1810.4 772,1790.8 763.6,1793.6 762.2,1783.9 766.4,1778.3 770.6,1762.9 766.4,1754.5 767.8,1743.3 735.6,1729.4 730.1,1719.6 717.5,1704.2 724.5,1688.8 714.7,1681.8 718.9,1670.7 707.7,1673.5 697.9,1670.7 704.9,1659.5 699.3,1653.9 685.3,1652.5 688.1,1645.5 670,1649.7 667.2,1655.3 663,1645.5 646.2,1635.7 632.2,1632.9 621.1,1625.9 607.1,1631.5 601.5,1617.6 587.5,1613.4 607.1,1609.2 607.1,1603.6 595.9,1600.8 612.7,1595.2 584.7,1591 584.2,1578.4 593.1,1570.1 609.9,1565.9 623.8,1563.1 629.4,1568.7 635,1565.9 647.6,1564.5 644.8,1556.1 651.8,1556.1 664.4,1551.9 674.2,1561.7 688.1,1579.8 699.3,1571.4 707.7,1568.7 721.7,1570.1 724.5,1575.6 730.1,1565.9 735.6,1571.4 753.8,1568.7 745.4,1558.9 746.8,1539.3 741.2,1519.7 731.4,1508.6 731.4,1494.6 725.9,1487.6 746.8,1491.8 755.2,1487.6 760.8,1491.8 760.8,1503 769.2,1511.4 791.5,1514.2 808.3,1518.3 819.5,1518.3 830.7,1511.4 847.4,1507.2 833.5,1508.6 827.9,1503 833.5,1487.6 855.8,1477.8 875.4,1472.2 886.6,1463.8 899.1,1449.9 903.3,1435.9 904.7,1402.4 911.7,1391.2 931.3,1384.2 950.8,1380 960,1375.3 974,1372.5 996.3,1368.3 1015.9,1365.5 1022.9,1358.5 1038.3,1355.7 1036.9,1348.7 1020.1,1343.2 1034.1,1340.4 1035.5,1334.8 1021.5,1332 1032.7,1312.4 1043.8,1292.8 1055,1267.7 1059.2,1245.3 1063.4,1225.8 1071.8,1231.4 1092.8,1217.4 1096.9,1207.6 1105.3,1199.2 1124.9,1190.8 1152.8,1186.6 1166.8,1185.2 1172.4,1195 1183.6,1196.4 1176.6,1189.4 1180.8,1172.7 1192,1167.1 1219.9,1164.3 1226.9,1165.7 1232.5,1174.1 1229.7,1183.8 1239.5,1183.8 1236.7,1176.9 1242.3,1172.7 1247.9,1178.3 1245.1,1189.4 1250.7,1192.2 1249.3,1181.1 1250.7,1164.3 1256.3,1151.7 1281.4,1150.3 1271.6,1148.9 1267.4,1137.7 1275.8,1134.9 1277.2,1122.4 1270.2,1112.6 1260.4,1114 1256.3,1105.6 1275.5,1098.6 1264.3,1076.3 1257.3,1062.3 1239.1,1062.3ZM1925.3,2284.3 1918.8,2295.5 1920.7,2310.4 1923.5,2327.2 1929.1,2338.4 1938.4,2345.8 1947.7,2353.3 1958.9,2360.7 1970.1,2368.2 1974.7,2371.9 1973.8,2381.2 1971.9,2385 1966.3,2380.3 1958.9,2380.3 1954.2,2386.8 1952.3,2398 1952.3,2404.5 1946.8,2398 1944,2385 1938.4,2373.8 1934.6,2366.3 1925.3,2367.3 1923.5,2377.5 1921.6,2384 1914.2,2380.3 1912.3,2371.9 1908.6,2364.5 1906.7,2355.1 1912.3,2347.7 1910.4,2338.4 1903,2329.1 1893.7,2321.6 1884.3,2313.2 1885.3,2308.6 1891.8,2304.8 1897.4,2298.3 1896.5,2291.8 1903,2291.8 1910.4,2293.7 1916,2288.1 1919.7,2284.3ZM1854.5,2267.6 1856.4,2254.5 1862,2251.7 1864.8,2258.3 1862,2265.7ZM1844.3,2293.7 1847.1,2286.2 1854.5,2283.4 1857.3,2275 1862,2284.3 1868.5,2297.4 1866.6,2301.1 1854.5,2299.2ZM1859.2,2273.2 1862,2273.2 1865.7,2283.4 1862.9,2284.3ZM1858.3,2312.3 1862,2308.6 1876.9,2320.7 1877.8,2324.4 1871.3,2323.5 1868.5,2327.2 1862.9,2321.6ZM1809.8,2190.2 1821,2187.5 1824.7,2191.2 1819.1,2194.9 1820.1,2204.2 1824.7,2209.8 1832.2,2213.5 1833.1,2217.3 1822.9,2213.5 1819.1,2207.9 1818.2,2200.5 1810.7,2195.8ZM1549.9,1827.9 1554.1,1822.3 1568,1833.5 1562.5,1837.7ZM1542.9,1839 1547.1,1836.3 1551.3,1861.4 1547.1,1864.2ZM1565.3,1858.6 1570.8,1857.2 1590.4,1881 1584.8,1882.4ZM1570.8,1894.9 1576.4,1897.7 1587.6,1913.1 1582,1914.5ZM1646.6,1948.9 1655.9,1947.1 1670.8,1951.7 1668.9,1956.4 1654,1954.5ZM1645.6,1961.1 1655.9,1960.1 1682,1965.7 1680.1,1967.6 1655.9,1964.8ZM1629.8,1969.4 1639.1,1969.1 1637.3,1973.2 1630.7,1973.2ZM1659.6,1976 1674.5,1975 1685.7,1978.8 1682,1981.5 1663.4,1980.6ZM1330.5,1988.6 1338.9,1987.2 1347.3,1984.4 1346.7,1994.2 1338.9,1991.4 1331.9,1992.2ZM2426.9,932.3 2380,932.3 2334.7,933.7 2301.2,935.1 2264.8,932.3 2242.5,933.7 2225.7,942.1 2208.9,956.1 2194.9,975.6 2183.8,1000.8 2168.4,1023.2 2155.8,1039.9 2148.8,1059.5 2147.4,1087.4 2136.3,1107 2122.3,1121 2108.3,1121 2091.5,1119.6 2083.2,1116.8 2072,1104.2 2058,1091.6 2044,1091.6 2024.5,1101.4 2010.5,1115.4 2002.1,1134.9 1985.3,1148.9 1968.6,1154.5 1954.6,1143.3 1944.8,1129.4 1949,1115.4 1951.8,1095.8 1960.2,1076.3 1970,1060.9 1982.5,1055.3 1999.3,1045.5 2013.3,1038.5 2027.3,1039.9 2041.2,1051.1 2055.2,1062.3 2066.4,1062.3 2077.6,1053.9 2088.7,1042.7 2087.3,1031.5 2083.2,1012 2074.8,992.4 2066.4,975.6 2055.2,970.1 2041.2,963.1 2030.1,965.9 2018.9,978.4 2007.7,995.2 1996.5,1000.8 1979.7,999.4 1965.8,995.2 1951.8,984 1935,970.1 1932.2,953.3 1923.8,936.5 1912.7,908.6 1907.1,889 1893.1,879.2 1898.7,869.4 1900.1,847.1 1912.7,821.9 1932.2,814.9 1951.8,805.2 1957.4,806.6 1957.4,816.3 1971.4,830.3 1985.3,840.1 1989.5,861.1 2000.7,870.8 2010.5,876.4 2024.5,873.6 2038.4,863.8 2048.2,852.7 2048.2,835.9 2045.4,813.5 2044.5,810 2041.7,799.6 2045.9,787 2051.4,773.1 2051.4,761.9 2055.6,752.1 2051.4,745.1 2044.5,745.1 2041.7,754.9 2033.3,757.7 2016.5,750.7 2010.9,742.3 2002.5,728.4 2002.5,714.4 2005.3,711.6 2019.3,706 2002.5,704.6 1998.3,692 2005.3,690.6 2009.5,686.4 2005.3,680.8 2001.1,675.3 2002.5,664.1 2013.7,661.3 2013.7,655.7 2027.7,657.1 2031.9,647.3 2038.9,651.5 2045.9,640.3 2065.4,638.9 2067.4,630.5 2072.4,634.7 2083.6,633.3 2099,636.1 2103.2,620.8 2110.1,630.5 2112.9,620.8 2114.3,626.3 2128.3,624.4 2153.5,633.3 2160.4,630.5 2175.8,641.7 2202.4,641.7 2226.1,644.5 2231.7,630.5 2228.9,618 2230.3,609.6 2235.9,608.2 2240.1,618 2248.5,619.4 2249.9,605.4 2254.1,599.8 2261.1,605.4 2270.8,606.8 2279.2,602.6 2280.6,591.4 2286.2,587.2 2301.6,588.6 2321.2,595.6 2332.3,599.8 2339.3,598.4 2340.7,588.6 2326.7,584.4 2323.9,574.6 2318.4,569 2304.4,566.3 2284.8,569 2279.2,566.3 2270.8,553.7 2259.7,546.7 2252.7,531.3 2263.9,541.1 2262.5,531.3 2256.9,525.7 2262.5,521.5 2266.7,517.3 2262.5,513.2 2249.9,518.7 2248.5,524.3 2237.3,531.3 2220.5,532.7 2216.3,528.5 2217.7,534.1 2202.4,536.9 2194,535.5 2189.8,527.1 2177.2,532.7 2175.8,539.7 2152.1,543.9 2156.3,527.1 2166,527.1 2161.8,520.1 2153.5,529.9 2150.7,545.3 2132.5,546.7 2132.5,556.5 2121.3,545.3 2125.5,553.7 2117.1,560.7 2112.9,550.9 2103.2,559.3 2089.2,562.1 2080.8,570.4 2058.4,574.6 2058.4,580.2 2050.1,587.2 2045.9,580.2 2027.7,585.8 2013.7,591.4 1999.7,590 2002.5,579.7 1994.2,585.8 1984.4,584.4 1980.2,574.6 1970.4,571.8 1971.8,563.5 1983,550.9 1966.2,563.5 1950.8,562.1 1959.2,548.1 1941.1,545.3 1929.9,541.1 1918.7,532.7 1918.7,524.3 1907.5,534.1 1903.3,528.5 1896.3,522.9 1897.7,510.4 1893.5,499.2 1897.7,482.4 1899.1,465.6 1904.7,451.7 1904.7,437.7 1901.9,427.9 1910.3,427.9 1904.7,425.1 1901.9,406.9 1894.9,390.2 1890.7,376.2 1896.3,359.4 1894.9,344.1 1885.2,334.3 1881,311.9 1885.2,291 1896.3,282.6 1900.5,261.6 2420,200ZM1845.6,1062.3 1859.6,1058.1 1867.9,1062.3 1876.3,1076.3 1879.1,1093 1870.7,1104.2 1859.6,1104.2 1851.2,1093 1842.8,1081.8ZM2197,1881.7 2210,1883.9 2220.9,1886.1 2233.9,1877.4 2251.3,1877.4 2254.6,1890.4 2253.5,1899.1 2240.4,1907.8 2227.4,1918.7 2214.3,1918.7 2203.5,1912.2 2197,1899.1ZM2178,1823 2188.4,1808.5 2204.9,1798.1 2217.3,1787.8 2233.9,1771.2 2246.3,1769.2 2254.6,1762.9 2258.8,1748.4 2267,1745.3 2274.3,1750.5 2273.3,1767.1 2271.2,1789.9 2265,1808.5 2258.8,1818.8 2246.3,1827.1 2225.6,1832.3 2204.9,1831.3 2188.4,1829.2ZM2217.3,1663.6 2231.8,1663.6 2225.6,1680.1ZM2340.3,1775.1 2345.9,1747.2 2357,1722 2380,1713.6 2380,1719.2 2362.6,1736 2351.5,1758.4Z" fill="none" stroke="#000" stroke-width="3.8" stroke-linejoin="round"/>
<g clip-path="url(#land)">
<rect x="300" y="250" width="2100" height="2200" fill="#ffd9d9"/>
<polygon points="641.4,668.3 686.1,668.3 686.1,717.2 641.4,717.2" fill="#ffaaaa"/>
<polygon points="440,700 960,700 960,1480 560,1480 560,1050 530,1045 440,1000" fill="#ffaaaa"/>
<polygon points="436.8,809 473.1,809 473.1,884.5 436.8,884.5" fill="#ffd9d9"/>
<polygon points="461.9,856.5 501.1,845.3 516.4,848.1 541.6,849.5 551.4,852.3 565.3,856.5 582.1,863.5 584.9,878.9 587.7,892.8 594.7,902.6 603.1,906.3 612.8,901.2 619.8,892.8 621.2,885.9 629.6,878.9 638,864.9 649.2,850.9 654.8,845.9 663.2,856.5 671.5,876.1 677.1,892.8 678.5,906.8 675.7,922.2 657.6,920.8 629.6,915.2 615.6,920.8 612.8,929.2 601.7,943.2 593.3,954.3 584.9,965.5 577.9,972.5 576.5,990.7 587.7,1007.4 559.7,1035.4 461.9,1035.4" fill="#ffd9d9" stroke="#000" stroke-width="3.4" stroke-linejoin="round"/>
<polygon points="700.9,883.1 705.1,878.9 719,876.1 720.4,892.8 702.3,899.8 699.5,892.8" fill="#ffd9d9" stroke="#000" stroke-width="3.4" stroke-linejoin="round"/>
<polygon points="649.2,809 659,807.6 667.3,814 660.4,818.8 650.6,817.4" fill="#ff5555" stroke="#000" stroke-width="2.55" stroke-linejoin="round"/>
<polygon points="554.2,1035.4 576.5,1039.6 587.7,1048 601.7,1053.5 615.6,1054.9 628.2,1058.3 636.6,1063.3 643.6,1069.5 638,1102.5 554.2,1102.5" fill="#ffd9d9" stroke="#000" stroke-width="3.4" stroke-linejoin="round"/>
<polygon points="626.2,1054.4 647.2,1060 650,1074 654.2,1093.5 658.9,1113.1 656.9,1124.3 631.8,1132.7" fill="#ffd9d9" stroke="#000" stroke-width="3.4" stroke-linejoin="round"/>
<polygon points="575.9,1183 617.8,1205.3 615,1212.3 620.6,1219.3 631.8,1222.1 643,1227.7 654.2,1229.1 659.2,1236.1 656.9,1250.1 655.6,1255.6 676.5,1261.2 698.9,1275.2 714.2,1297.6 710.1,1311.5 705.9,1328.3 703.1,1353.5 698.9,1367.4 693.3,1375.8 710.1,1389.8 729.6,1405.2 735.2,1395.4 754.8,1384.2 771.5,1381.4 788.3,1384.2 799.5,1389.8 805.1,1399.6 805.1,1428.9 520,1473.6 520,1227.7" fill="#ffd9d9" stroke="#000" stroke-width="3.4" stroke-linejoin="round"/>
<polygon points="603.8,1238.9 616.4,1241.7 631.8,1241.7 643,1247.3 655.6,1255.6 651.4,1272.4 647.2,1286.4 640.2,1297.6 631.8,1304.6 616.4,1310.1 603.8,1315.7 596.9,1296.2 584.3,1292 598.3,1255.6" fill="#ffaaaa" stroke="#000" stroke-width="3.4" stroke-linejoin="round"/>
<polygon points="603.8,1387 616.4,1370.2 631.8,1368.8 643,1375.8 637.4,1395.4 631.8,1409.4 616.4,1409.4 606.6,1398.2" fill="#ffaaaa" stroke="#000" stroke-width="3.4" stroke-linejoin="round"/>
<polygon points="812.1,1381.4 814.9,1356.3 824.6,1349.3 835.8,1350.7 840,1357.7 830.2,1371.6 820.4,1382.8" fill="#ffd9d9" stroke="#000" stroke-width="3.4" stroke-linejoin="round"/>
<polygon points="575.9,1099.1 612.2,1099.1 612.2,1138.3 575.9,1138.3" fill="#ffd9d9"/>
<polygon points="462.3,1013.7 463.5,1045.5 462.3,1061.5 456.6,1068.3 447.5,1077.4 438.4,1091.1 431.6,1107 424.8,1113.9 415.7,1120.7 404.3,1116.1 395.2,1107 376.9,1091.1 376.9,1013.7" fill="#ffaaaa" stroke="#000" stroke-width="3.4" stroke-linejoin="round"/>
<polygon points="484,1041 493.1,1035.3 502.2,1033 513.6,1034.2 520,1038.7 520.9,1047.8 526.1,1056.9 534.1,1067.2 529.5,1075.2 526.1,1086.5 520.4,1093.8 504.5,1093.4 497.6,1086.5 490.8,1072.9 485.1,1063.8" fill="#ffaaaa" stroke="#000" stroke-width="3.4" stroke-linejoin="round"/>
<polygon points="481.7,1190.2 491.9,1182.2 504.5,1189 513.6,1202.7 515.9,1214.1 506.7,1218.6 499.9,1220.9 485.1,1210.7" fill="#ffaaaa" stroke="#000" stroke-width="3.4" stroke-linejoin="round"/>
<polygon points="1040,240 1800,240 1800,700 1440,700 1440,900 1380,900 1380,760 1040,760" fill="#ffaaaa"/>
<polygon points="1256.2,261.6 1257.6,292.4 1263.2,317.5 1271.5,337.1 1278.5,351.1 1291.1,356.6 1321.8,360.8 1338.6,367.8 1361,376.2 1377.7,376.2 1391.7,367.8 1397.3,351.1 1400.1,338.5 1390.3,321.7 1381.9,313.3 1394.5,304.9 1411.3,300.7 1426.7,297.9 1429.4,286.8 1430.8,278.4 1447.6,275.6 1451.8,261.6" fill="#ff5555" stroke="#000" stroke-width="3.4" stroke-linejoin="round"/>
<polygon points="1296.7,286.8 1305.1,275.6 1327.4,275.6 1335.8,286.8 1328.8,302.1 1320.4,314.7 1303.7,314.7 1299.5,303.5" fill="#ff0000" stroke="#000" stroke-width="3.4" stroke-linejoin="round"/>
<polygon points="1428,295.2 1444.8,293.8 1464.4,303.5 1478.4,314.7 1502.1,337.1 1499.3,353.8 1492.3,367.8 1486.7,384.6 1482.5,393 1470,395.8 1464.4,381.8 1454.6,365 1442,348.3 1430.8,337.1 1426.7,311.9" fill="#ff5555" stroke="#000" stroke-width="3.4" stroke-linejoin="round"/>
<polygon points="1147.2,390.2 1151.4,367.8 1156.9,360 1165.3,358.9 1173.7,366.4 1184.9,376.2 1196.1,395.8 1191.9,415.3 1187.7,429.3 1182.1,441.9 1169.5,446.1 1158.3,443.3 1151.4,432.1 1148.6,409.7" fill="#ffd9d9" stroke="#000" stroke-width="3.4" stroke-linejoin="round"/>
<polygon points="1141.6,752.1 1151.4,733.9 1159.7,722.8 1170.9,710.2 1182.1,703.2 1193.3,702.6 1203.1,708.8 1211.4,721.4 1219.8,724.2 1224,714.4 1226.8,669.7 1232.4,655.7 1238,641.7 1242.2,624.9 1229.6,599.8 1215.6,583 1201.7,570.4 1190.5,560.7 1186.3,548.1 1189.1,532.7 1196.1,518.7 1205.9,510.4 1221.2,502 1240.8,488 1257.6,476.8 1267.3,462.8 1281.3,461.4 1292.5,471.2 1298.1,490.8 1307.9,502 1323.2,518.7 1338.6,538.3 1355.4,555.1 1369.4,567.7 1380.5,577.4 1405.7,576 1425.3,573.2 1435,580.2 1437.8,573.2 1467.2,571.8 1482.5,570.4 1485.3,574.6 1485.3,587.2 1481.2,592.8 1467.2,580.2 1451.8,585.8 1439.2,597 1422.5,612.4 1408.5,627.7 1395.9,641.7 1390.3,658.5 1388.9,675.3 1394.5,686.4 1405.7,690.6 1430.8,687.8 1456,679.4 1472.8,669.7 1481.2,659.9 1492.3,652.9 1511.9,650.7 1511.2,650.1 1533.5,651.5 1550.3,658.5 1562.9,673.9 1578.3,673.9 1575.5,658.5 1571.3,636.1 1569.9,619.4 1574.1,597 1581.1,571.8 1586.6,546.7 1589.4,522.9 1585.2,499.2 1578.3,474 1576.9,448.9 1582.4,434.9 1592.2,420.9 1600.6,404.2 1607.6,390.2 1617.4,384.6 1634.2,381.8 1648.1,388.8 1660.7,393 1666.3,415.3 1659.3,440.5 1662.1,460.1 1667.7,472.6 1684.5,472.6 1863.3,472.6 1863.3,2785.4 1332.3,2785.4 1103.8,2785.4" fill="#ffd9d9"/>
<polygon points="1246.4,538.3 1249.2,531.3 1263.2,534.1 1274.3,539.7 1282.7,548.1 1270.1,556.5 1257.6,555.1 1247.8,549.5" fill="#ffffff" stroke="#000" stroke-width="3.4" stroke-linejoin="round"/>
<polygon points="1172.3,770.3 1176.5,745.1 1187.7,737.3 1198.9,742.3 1203.1,753.5 1198.9,773.1 1187.7,777.3 1176.5,775.9" fill="#ffffff" stroke="#000" stroke-width="3.4" stroke-linejoin="round"/>
<polygon points="1138.8,552.3 1144.4,542.5 1156.9,541.1 1163.9,549.5 1162.5,571.8 1155.6,578.8 1147.2,574.6 1141.6,563.5" fill="#ff5555" stroke="#000" stroke-width="3.4" stroke-linejoin="round"/>
<polygon points="1645.3,599.8 1671.9,588.6 1678.9,573.2 1687.3,562.1 1695.6,559.3 1706.8,563.5 1718,574.6 1726.4,585.8 1729.2,598.4 1718,609.6 1706.8,618 1695.6,623.5 1681.7,616.6 1664.9,611" fill="#ffaaaa" stroke="#000" stroke-width="3.4" stroke-linejoin="round"/>
<polygon points="1380,787 1405,787 1425,783 1438,790 1439,803 1437.5,819 1446,833 1457,822 1461,797 1471,786 1490,776 1512,771 1534,776 1550,787 1559,810 1560.5,836 1546.6,861 1521,862.5 1493.5,857 1465.5,862.5 1440,866.6 1380,866" fill="#ffaaaa" stroke="#000" stroke-width="3.4" stroke-linejoin="round"/>
<polygon points="1628.6,637.5 1650.9,633.3 1653.7,626.3 1667.7,629.1 1684.5,633.3 1695.6,630.5 1699.8,638.9 1715.2,641.7 1720.8,650.1 1732,652.9 1723.6,658.5 1706.8,657.1 1692.8,659.9 1690.1,652.9 1678.9,644.5 1662.1,638.9 1645.3,640.3 1631.4,641.7" fill="#ffffff" stroke="#000" stroke-width="1.6" stroke-linejoin="round"/>
<polygon points="1724.6,777.2 1797.1,777.2 1797.1,885.9 1724.6,885.9" fill="#ffffff"/>
<polygon points="1900.5,261.6 2224.7,261.6 2217.7,284 2203.8,295.2 2189.8,311.9 2167.4,325.9 2147.9,335.7 2128.3,337.1 2111.5,335.7 2105.9,339.9 2108.7,353.8 2112.9,365 2110.1,390.2 2111.5,415.3 2117.1,432.1 2125.5,448.9 2139.5,462.8 2164.6,476.8 2181.4,488 2188.4,499.2 2178.6,515.9 2173,527.1 2173,549.5 2027.7,605.4 2027.7,585.8 2022.1,571.8 2019.3,555.1 2022.1,538.3 2027.7,521.5 2027.7,496.4 2016.5,488 1999.7,485.2 1980.2,488 1969,496.4 1963.4,510.4 1957.8,520.1 1943.8,522.9 1929.9,513.2 1913.1,497.8 1897.7,482.4 1874,465.6 1874,261.6" fill="#ffaaaa" stroke="#000" stroke-width="3.4" stroke-linejoin="round"/>
<polygon points="2340.7,261.6 2340.7,292.4 2343.5,314.7 2351.9,331.5 2365.9,342.7 2379.8,345.5 2391,345.5 2391,261.6" fill="#ffaaaa" stroke="#000" stroke-width="3.4" stroke-linejoin="round"/>
<polygon points="2301.6,633.3 2307.2,616.6 2321.2,605.4 2340.7,604 2351.9,604 2357.5,591.4 2361.7,563.5 2363.1,549.5 2371.5,538.3 2379.8,531.3 2405,521.5 2405,696.2 2379.8,696.2 2363.1,694.8 2335.1,687.8 2312.8,679.4 2303,669.7 2298.8,652.9" fill="#ffffff" stroke="#000" stroke-width="4.25" stroke-linejoin="round"/>
<polygon points="2405,757.7 2379.8,757.7 2349.1,761.9 2321.2,767.5 2310,770.3 2296,781.5 2290.4,795.4 2290.4,829 2405,829" fill="#ffffff"/>
<polygon points="1216.8,796.8 1367.7,796.8 1378.9,925.3 1367.7,958.9 1323,963.1 1311.8,972.8 1307.6,984 1307.6,1006.4 1304.8,1025.9 1295,1039.9 1286.6,1053.9 1285.2,1070.7 1292.2,1084.6 1306.2,1095.8 1320.2,1101.4 1339.7,1102.8 1378.9,1107 1401.2,1136.3 1404,1151.7 1420.8,1165.7 1440.4,1176.9 1457.1,1188 1468.3,1200.1 1479.5,1216 1200,1216 1200,1059.5 1216.8,1031.5" fill="#ffaaaa"/>
<polygon points="1283.8,889 1292.2,869.4 1323,863.8 1328.6,869.4 1317.4,891.8 1306.2,905.8 1292.2,900.2" fill="#ffd9d9" stroke="#000" stroke-width="2.55" stroke-linejoin="round"/>
<polygon points="1303.4,855.5 1311.8,835.9 1324.4,820.5 1331.4,835.9 1334.2,849.9 1331.4,863.8 1323,865.2 1292.2,861.1" fill="#ffd9d9" stroke="#000" stroke-width="2.55" stroke-linejoin="round"/>
<polygon points="1241.9,883.4 1253.1,866.6 1255.9,877.8 1269.9,877.8 1267.1,889 1253.1,897.4" fill="#ffd9d9" stroke="#000" stroke-width="2.0" stroke-linejoin="round"/>
<polygon points="1518.6,1151.7 1529.8,1148.9 1549.4,1150.3 1557.7,1155.9 1554.9,1165.7 1546.6,1168.5 1532.6,1162.9" fill="#ffffff" stroke="#000" stroke-width="1.6" stroke-linejoin="round"/>
<polygon points="1269.9,875 1281.1,872.2 1283.8,889 1278.3,891.8" fill="#ffffff"/>
<polygon points="881.3,2228.8 907.9,2228.8 907.9,2253.9 881.3,2253.9" fill="#ffffff"/>
<polygon points="1050.9,2361.5 1050.9,2374.8 1064.2,2394 1081.9,2408.8 1096.7,2420.6 1105.5,2422 1120.3,2408.8 1132.1,2388.1 1138,2373.4 1138,2361.5" fill="#ffffff" stroke="#000" stroke-width="3.4" stroke-linejoin="round"/>
<polygon points="1000.8,2438.3 1002.3,2402.9 1017,2395.5 1031.8,2391.1 1034.7,2399.9 1031.8,2417.6 1022.9,2438.3" fill="#ffaaaa" stroke="#000" stroke-width="3.4" stroke-linejoin="round"/>
<polygon points="744.8,1931.9 733.6,1834.1 679.7,1855.1 679.7,1743.3 718.9,1704.2 727.3,1687.4 732.8,1667.9 730.1,1653.9 721.7,1642.7 707.7,1631.5 690.9,1617.6 674.2,1603.6 660.2,1589.6 651.8,1570.1 650.4,1556.1 650.4,1536.5 707.7,1463.8 875.4,1357.6 1015.9,1312.4 1127.7,1155.9 1239.5,1127.9 1401.2,1136.3 1404,1151.7 1420.8,1165.7 1440.4,1176.9 1457.1,1188 1468.3,1200.1 1467.9,1199.7 1481.9,1215.1 1495.9,1223.5 1512.7,1230.5 1532.2,1236.1 1546.2,1247.3 1557.4,1259.8 1571.4,1272.4 1585.3,1283.6 1599.3,1292 1610.5,1305.9 1616.1,1319.9 1618.9,1332.5 1635.6,1349.3 1652.4,1353.5 1670.6,1354.9 1680.4,1364.6 1688.7,1375.8 1684.6,1392.6 1679,1403.8 1672,1409.4 1658,1410.8 1653.8,1423.3 1649.6,1437.3 1658,1438.7 1666.4,1431.7 1669.2,1420.5 1680.4,1417.7 1694.3,1421.9 1708.3,1431.7 1719.5,1442.9 1727.9,1456.9 1730.7,1473.6 1729.3,1496 1726.5,1512.8 1725.1,1529.5 1716.7,1539.3 1705.5,1544.9 1691.5,1551.9 1680.4,1563.1 1672,1577 1666.4,1591 1665.7,1605.2 1672.2,1618.3 1677.6,1629.1 1678.7,1635.7 1691.7,1634.6 1704.8,1634.6 1713.5,1640 1720,1647.6 1720,1663.9 1713.5,1672.6 1709.1,1683.5 1711.3,1698.7 1717.8,1711.7 1723.3,1720.4 1725.4,1737.8 1721.1,1748.7 1711.3,1755.2 1696.1,1757.4 1691.7,1770.4 1683,1779.1 1674.3,1790 1670,1805.2 1665.7,1820.4 1665.7,1840 1672.2,1850.9 1676.5,1863.9 1683,1874.8 1693.9,1885.7 1702.6,1894.3 1703.7,1900.9 1715.7,1905.2 1733,1911.7 1737.4,1922.6 1746.1,1929.1 1737.4,1933.5 1726.5,1931.3 1724.3,1924.8 1715.7,1918.3 1702.6,1913.9 1685.2,1911.7 1667.8,1911.7 1652.6,1916.1 1643.9,1922.6 1630.9,1918.3 1626.5,1909.6 1622.2,1896.5 1623.9,1875 1629.6,1841.7 1612.8,1847.4 1601.6,1861.4 1587.6,1867 1579.2,1875.4 1537.3,1875.4 1467.4,1861.4 1441.8,1832 1434.4,1833.9 1426.9,1843.2 1419.5,1858.1 1412,1867.4 1400.9,1874.9 1394.3,1880.5 1398.1,1891.7 1399,1902.8 1391.5,1910.3 1376.6,1914 1354.3,1913.1 1337.5,1912.2 1337,1965 1295,1965 1292.8,1884.2 1293.7,1869.3 1290.9,1854.4 1285.3,1839.5 1277.9,1833.9 1263,1835.8 1249.9,1843.2 1236.9,1858.1 1225.7,1873 1218.3,1886.1 1210.8,1891.7 1195.9,1897.2 1177.3,1902.8 1158.6,1908.4 1140,1912.2 1149.8,1908.7 1129.1,1907.2 1111.4,1920.5 1093.7,1917.5 1076,1911.6 1061.3,1895.4 1043.6,1893.9 1017,1907.2 987.5,1926.4 958,1945.6 940.3,1954.4 924.1,1957.4 919.7,1948.5 906.4,1948.5 913.8,1958.8 907.9,1966.2 897.5,1983.9 894.6,2007.5 894.6,2051.8 878.4,2066.5 857.7,2078.3 840,2079.8 860,2080.1 839.8,2080.1 823.1,2082.8 806.3,2091.2 792.3,2103.8 772.8,2102.4 753.2,2092.6 744.8,2099.6 753.2,2117.8 742,2133.2 735,2147.1 737.8,2169.5 730.8,2186.3 711.3,2197.4 691.7,2203 674.9,2197.4 655.4,2183.5 638.6,2169.5 631.6,2158.3 633,2141.5 638.6,2122 649.8,2109.4 661,2099.6 672.2,2085.6 683.3,2080.1 705.7,2075.9 719.7,2068.9 716.9,2060.5 711.3,2049.3 702.9,2045.1 683.3,2049.3 666.6,2054.9 652.6,2050.7 649.8,2026.9 645.6,2013 641.4,1999 642.8,1985 651.2,1973.8 663.8,1959.9 677.7,1945.9 694.5,1947.3 705.7,1957.1 716.9,1966.9 730.8,1965.5 736.4,1955.7 739.2,1948.7 744.8,1931.9" fill="#ffaaaa"/>
<polygon points="1652.6,1737.8 1663.5,1727 1674.3,1718.3 1685.2,1716.1 1698.3,1720.4 1705.9,1731.3 1708,1742.2 1705.9,1752 1691.7,1752 1676.5,1748.7 1663.5,1744.3" fill="#ffd9d9" stroke="#000" stroke-width="4.25" stroke-linejoin="round"/>
<polygon points="1502.4,1799.9 1512.2,1797.1 1523.3,1791.5 1534.5,1808.3 1537.3,1827.9 1523.3,1853 1506.6,1822.3" fill="#ffd9d9"/>
<polygon points="1038.3,1355.7 1029.9,1362.7 1015.9,1369.7 999.1,1379.5 982.4,1390.7 968.4,1400.4 960,1407.4 976,1392.6 959.2,1405.2 953.6,1416.3 952.2,1435.9 956.4,1463.8 960.6,1491.8 962,1514.2 945.3,1530.9 931.3,1542.1 917.3,1546.3 903.3,1536.5 897.7,1522.5 894.9,1511.4 879.6,1507.2 867,1519.7 855.8,1536.5 844.6,1553.3 840.4,1586.8 819.5,1600.8 809.7,1620.4 806.9,1642.7 809.7,1662.3 819.5,1676.3 830.7,1690.2 847.4,1698.6 858.6,1715.4 854.4,1737.7 853,1760.1 861.4,1782.5 875.4,1802 878.2,1816 879.6,1855.1 876.8,1885.9 881,1899.8 893.5,1902.6 906.1,1880.3 922.9,1863.5 942.5,1855.1 959.2,1860.7 973.2,1880.3 990,1891.5 1009.5,1890.1 1020.7,1874.7 1027.7,1855.1 1029.1,1841.2 1043.1,1832.8 1080,1827.2 1089.7,1819 1093.4,1814 1102.1,1814 1110.8,1811.6 1115.8,1805.3 1117,1796.6 1120.7,1791.7 1129.4,1785.5 1130.7,1774.3 1128.2,1765.6 1125.7,1755.7 1127,1753.2 1136.9,1748.2 1140.6,1740.7 1139.4,1734.5 1133.2,1722.1 1135.7,1712.2 1139.4,1704.7 1144.3,1698.5 1154.3,1697.3 1164.2,1701 1181.6,1702.9 1189.1,1703.5 1195.3,1709.7 1196.5,1722.1 1192.8,1739.5 1201.5,1731.4 1206.5,1732 1211.4,1728.3 1217.6,1724.6 1226.3,1725.8 1238.8,1729.6 1248.7,1730.8 1252.4,1719.6 1249.9,1706 1245,1693.5 1238.8,1681.1 1233.8,1676.1 1226.3,1677.4 1218.9,1681.1 1206.5,1676.1 1200.2,1669.9 1197.8,1660 1201.5,1649.4 1210.8,1645.7 1216.4,1638.3 1217.3,1627.1 1212.7,1617.8 1203.4,1610.3 1198.7,1601 1199.6,1587.9 1205.2,1580.5 1216.4,1574 1223.8,1576.8 1229.4,1584.2 1236.9,1595.4 1244.3,1602.9 1253.7,1600.1 1261.1,1593.5 1266.7,1584.2 1274.2,1578.6 1285.3,1580.5 1296.5,1587.9 1317,1588.9 1331.9,1586.1 1343.1,1580.5 1350.5,1571.2 1354.3,1560 1362.5,1536 1373.6,1522 1397.4,1519.2 1393.2,1536 1382,1552.8 1396,1563.9 1421.2,1558.4 1440.7,1552.8 1451.9,1536 1457.5,1516.4 1450.5,1491.3 1451.9,1475.9 1463.1,1468.9 1482.6,1454.9 1486.8,1438.2 1477,1434 1465.9,1431.2 1451.9,1432.6 1435.1,1427 1421.2,1418.6 1407.2,1410.2 1398.8,1401.8 1387.6,1387.9 1373.6,1376.7 1356.9,1369.7 1337.3,1369.7 1323.3,1373.9 1306.6,1382.3 1292.6,1387.9 1281.4,1376.7 1289.8,1365.5 1303.8,1351.5 1314.9,1332 1323.3,1312.4 1333.1,1292.8 1337.3,1274.7 1328.9,1262.1 1317.7,1256.5 1303.8,1245.3 1295.4,1228.6 1292.6,1214.6 1281.4,1200.6 1267.4,1193.6 1250.7,1192.2 1228.3,1155.9 1155.6,1169.9 1071.8,1211.8 1015.9,1312.4" fill="#ff5555" stroke="#000" stroke-width="3.4" stroke-linejoin="round"/>
<polygon points="1131.3,1774.3 1134.4,1769.3 1140.6,1766.2 1151.8,1765 1159.3,1765.6 1165.5,1770.6 1169.2,1776.8 1168,1780.5 1176.6,1775.5 1182.9,1769.3 1187.8,1763.1 1194,1760.6 1201.5,1766.8 1204,1774.3 1213.9,1783 1222.6,1789.2 1223.9,1792.9 1216.4,1797.9 1205.2,1802.9 1194,1805.3 1182.9,1806.6 1174.2,1811.6 1168,1817.8 1164.2,1825.2 1161.7,1833.9 1159.3,1846.3 1155.5,1848.8 1145.6,1849.4 1133.2,1849.4 1127,1846.3 1128.2,1840.1 1133.2,1833.9 1135.7,1821.5 1133.2,1796.6 1131.9,1784.2" fill="#ff5555" stroke="#000" stroke-width="4.25" stroke-linejoin="round"/>
<polygon points="1253.7,1662.5 1259.2,1649.4 1263,1623.4 1274.2,1619.6 1292.8,1617.8 1307.7,1623.4 1318.9,1632.7 1328.2,1645.7 1322.6,1658.8 1318.9,1675.5 1322.6,1694.2 1328.2,1709.1 1333.8,1727.7 1337.5,1750.1 1326.3,1759.4 1307.7,1766.8 1292.8,1770.5 1281.6,1781.7 1274.2,1774.3 1281.6,1755.6 1287.2,1737 1289.1,1718.4 1281.6,1701.6 1274.2,1686.7 1266.7,1671.8" fill="#ff5555" stroke="#000" stroke-width="4.25" stroke-linejoin="round"/>
<polygon points="1292.8,1751.9 1294.6,1733.3 1298.4,1724 1305.8,1716.5 1313.3,1724 1320.7,1737 1318.9,1753.8 1309.6,1761.2 1300.2,1760.3" fill="#ff0000" stroke="#000" stroke-width="3.4" stroke-linejoin="round"/>
<polygon points="1301.2,1750.1 1302.1,1735.1 1306.8,1728.6 1312.3,1737 1311.4,1751.9 1306.8,1756.6" fill="#cc0000" stroke="#000" stroke-width="2.55" stroke-linejoin="round"/>
<polygon points="1224.8,1647.6 1231.3,1628.9 1236.9,1645.7" fill="#ffaaaa" stroke="#000" stroke-width="4.25" stroke-linejoin="round"/>
<polygon points="1352.4,1774.3 1354.3,1746.3 1356.1,1724 1348.7,1707.2 1346.8,1699.7 1359.9,1696 1369.2,1692.3 1374.8,1697.9 1378.5,1712.8 1382.2,1716.5 1391.5,1709.1 1397.1,1701.6 1399,1681.1 1404.6,1676.5 1410.2,1681.1 1413.9,1694.2 1419.5,1712.8 1426.9,1727.7 1432.5,1737 1421.3,1753.8 1417.6,1770.5 1413.9,1779.9 1397.1,1800.4 1378.5,1801.3 1367.3,1789.2 1358,1779.9" fill="#ffd9d9" stroke="#000" stroke-width="4.25" stroke-linejoin="round"/>
<polygon points="1373.8,1737.9 1382.2,1733.3 1393.4,1730.5 1399,1733.3 1399.9,1744.5 1394.3,1751 1382.2,1746.3" fill="#ffffff"/>
<polygon points="1397.6,1623.8 1411.5,1615.5 1436.7,1608.5 1456.3,1598.7 1478.6,1595.9 1508,1597.3 1513.5,1607.1 1501,1615.5 1495.4,1623.8 1494,1639.2 1489.8,1623.8 1481.4,1615.5 1470.2,1615.5 1464.6,1626.6 1463.2,1646.2 1467.4,1657.4 1475.8,1665.8 1466,1674.2 1463.2,1690.9 1467.4,1707.7 1489.8,1704.9 1506.6,1696.5 1523.3,1688.1 1534.5,1679.7 1549.9,1685.3 1562.5,1699.3 1573.6,1713.3 1579.2,1727.3 1580.6,1741.2 1562.5,1735.6 1545.7,1732.8 1512.2,1730.1 1495.4,1735.6 1470.2,1738.4 1459,1718.9 1442.3,1704.9 1428.3,1688.1 1417.1,1668.6 1405.9,1654.6 1400.4,1643.4" fill="#ff5555" stroke="#000" stroke-width="3.4" stroke-linejoin="round"/>
<polygon points="1411.5,1643.4 1417.1,1626.6 1428.3,1622.4 1439.5,1626.6 1436.7,1637.8 1425.5,1651.8 1417.1,1651.8" fill="#ff0000" stroke="#000" stroke-width="3.4" stroke-linejoin="round"/>
<polygon points="1436.7,1660.2 1443.7,1653.2 1447.9,1665.8 1443.7,1675.6 1438.1,1670" fill="#ff0000" stroke="#000" stroke-width="2.55" stroke-linejoin="round"/>
<polygon points="1502.4,1718.9 1509.4,1713.3 1517.7,1718.9 1509.4,1723.1" fill="#ff0000" stroke="#000" stroke-width="2.55" stroke-linejoin="round"/>
<polygon points="1471.6,1661.6 1475.8,1653.2 1484.2,1651.8 1491.2,1658.8 1489.8,1667.2 1481.4,1671.4 1474.4,1668.6" fill="#ffaaaa" stroke="#000" stroke-width="3.4" stroke-linejoin="round"/>
<polygon points="1584.8,1665.8 1587.6,1649 1598.8,1644.8 1612.8,1663 1598.8,1675.6 1590.4,1674.2" fill="#ff5555" stroke="#000" stroke-width="3.4" stroke-linejoin="round"/>
<polygon points="1380.8,1551.2 1392,1534.4 1442.3,1534.4 1428.3,1554 1411.5,1559.6 1394.8,1563.8" fill="#ff5555" stroke="#000" stroke-width="3.4" stroke-linejoin="round"/>
<polygon points="1006.1,1510.8 1011.7,1488.5 1024.3,1474.5 1043.8,1468.9 1062,1468.9 1071.8,1482.9 1074.6,1502.5 1070.4,1519.2 1043.8,1530.4 1018.7,1534.6 1010.3,1524.8" fill="#ffaaaa" stroke="#000" stroke-width="3.4" stroke-linejoin="round"/>
<polygon points="1165.4,1453.5 1169.6,1448 1180.8,1445.2 1189.2,1454.9 1183.6,1463.3 1173.8,1461.9" fill="#ff0000" stroke="#000" stroke-width="3.4" stroke-linejoin="round"/>
<polygon points="1238.1,1516.4 1245.1,1509.4 1257.7,1512.2 1250.7,1522 1243.7,1540.2 1240.9,1530.4" fill="#ffaaaa" stroke="#000" stroke-width="3.4" stroke-linejoin="round"/>
<polygon points="1355.5,1474.5 1370.8,1453.5 1382,1450.8 1393.2,1460.5 1400.2,1480.1 1393.2,1491.3 1370.8,1494.1 1362.5,1488.5" fill="#ffaaaa" stroke="#000" stroke-width="3.4" stroke-linejoin="round"/>
<polygon points="1393.2,1499.7 1418.4,1502.5 1428.1,1512.2 1418.4,1519.2 1401.6,1522 1396,1513.6" fill="#ffaaaa" stroke="#000" stroke-width="3.4" stroke-linejoin="round"/>
<polygon points="982.4,1625.4 993.5,1605.9 1007.5,1610.1 1020.1,1626.8 1013.1,1640 990.7,1640" fill="#ffaaaa" stroke="#000" stroke-width="3.4" stroke-linejoin="round"/>
<polygon points="984.4,1625.9 991.4,1606.4 1005.3,1609.2 1019.3,1625.9 1005.3,1638.5 992.8,1632.9" fill="#ffaaaa" stroke="#000" stroke-width="3.4" stroke-linejoin="round"/>
<polygon points="894.9,1665.1 904.7,1656.1 914.5,1665.1 904.7,1674" fill="#ffaaaa" stroke="#000" stroke-width="3.4" stroke-linejoin="round"/>
<polygon points="1501.5,1414.9 1507.1,1408 1521.1,1406.6 1528,1416.3 1519.7,1428.9 1507.1,1430.3" fill="#ff5555" stroke="#000" stroke-width="3.4" stroke-linejoin="round"/>
<polygon points="565.9,2169.5 568.7,2147.1 574.3,2122 581.3,2102.4 588.3,2082.8 602.3,2078.7 619,2082.8 624.6,2091.2 626,2101 616.3,2110.8 610.7,2119.2 610.7,2141.5 624.6,2151.3 610.7,2161.1 593.9,2169.5 579.9,2175.1" fill="#ffaaaa" stroke="#000" stroke-width="3.4" stroke-linejoin="round"/>
<polygon points="563.2,2068.9 572.9,2057.7 575.7,2050.7 581.3,2050.7 581.3,2070.3" fill="#ffaaaa" stroke="#000" stroke-width="2.55" stroke-linejoin="round"/>
<polygon points="835.7,1999 842.6,1994.8 860,1993.4 867.8,1996.2 876.2,2010.2 881.8,2026.9 876.2,2042.3 862.2,2043.7 851,2036.7 839.8,2018.6" fill="#ff5555" stroke="#000" stroke-width="3.4" stroke-linejoin="round"/>
<polygon points="373.1,1957.1 374.5,1965.5 384.3,1972.4 403.8,1979.4 413.6,1987.8 416.4,2001.8 415,2018.6 420.6,2038.1 429,2052.1 445.8,2068.9 465.3,2082.8 472.3,2099.6 480.7,2116.4 487.7,2135.9 498.9,2161.1 507.3,2175.1 521.2,2183.5 540.8,2196 557.6,2214.2 574.3,2233.8 588.3,2249.1 592.5,2263.1 586.9,2278.5 571.5,2289.7 557.6,2300.8 554.8,2312 557.6,2326 565.9,2340 570.1,2359.5 568.7,2387.5 574.3,2395.9 592.5,2395.9 599.5,2421 571.5,2449 320,2449 306,2169.5 320,1957.1" fill="#ffffff" stroke="#000" stroke-width="3.82" stroke-linejoin="round"/>
<polygon points="368.9,2200.2 377.3,2177.9 391.3,2180.7 401.1,2198.8 389.9,2207.2" fill="#ccffff" stroke="#000" stroke-width="2.55" stroke-linejoin="round"/>
<polygon points="388.5,2099.6 394.1,2098.2 396.9,2119.2 389.9,2122" fill="#ccffff" stroke="#000" stroke-width="2.0" stroke-linejoin="round"/>
<polygon points="381.5,2064.7 391.3,2067.5 384.3,2073.1" fill="#ccffff" stroke="#000" stroke-width="2.0" stroke-linejoin="round"/>
<polygon points="482.1,2356.7 490.5,2349.8 498.9,2356.7 500.3,2370.7" fill="#ccffff" stroke="#000" stroke-width="2.55" stroke-linejoin="round"/>
<polygon points="915.2,2017.8 919.7,2010.5 930,2007.5 935.9,2014.9 931.5,2022.3 919.7,2023.7" fill="#ffffff" stroke="#000" stroke-width="2.55" stroke-linejoin="round"/>
<polygon points="1397.6,2015.1 1399,2001.2 1392,1976 1387.8,1942.5 1405.9,1935.5 1428.3,1938.3 1453.5,1936.9 1475.8,1942.5 1489.8,1942.5 1499.6,1934.1 1523.3,1931.3 1558.9,1974.6 1521.2,1981.9 1512.7,1991.6 1510.3,2003.8 1515.2,2028.1 1524.9,2045.1 1528.5,2064.6 1526.1,2081.6 1518.8,2096.2 1510.3,2110.8 1437.3,2086.5 1388.7,2033" fill="#ffaaaa"/>
<polygon points="1456.8,2017.2 1466.5,2001.4 1475,1998.9 1484.7,2005 1488.4,2017.2 1483.5,2025.7 1468.9,2030.5" fill="#ff5555" stroke="#000" stroke-width="3.4" stroke-linejoin="round"/>
<polygon points="1410.5,2024.5 1425.1,2033 1426.4,2041.5 1415.4,2037.8" fill="#ffd9d9" stroke="#000" stroke-width="2.55" stroke-linejoin="round"/>
<polygon points="1430,2042.7 1442.2,2045.1 1450.7,2054.9 1454.3,2074.3 1447,2067 1437.3,2057.3" fill="#ffd9d9" stroke="#000" stroke-width="2.55" stroke-linejoin="round"/>
<polygon points="1340,1950.3 1392.3,1960 1396,1984.3 1397.2,2006.2 1394.7,2016 1376.5,2023.3 1340,1984.3" fill="#ffd9d9"/>
<polygon points="1083,1224.4 1095.6,1220.2 1094.2,1234.2 1108.1,1236.9 1103.9,1239.7 1105.3,1253.7 1096.9,1255.1 1088.6,1245.3 1080.2,1236.9" fill="#ffffff" stroke="#000" stroke-width="1.6" stroke-linejoin="round"/>
<polygon points="1401.6,1136.3 1407.2,1155.9 1429.5,1175.5 1451.9,1189.4 1468.7,1203.4 1482.6,1217.4 1500,1223 1519,1223 1519,1100 1401.6,1100" fill="#ffd9d9"/>
<polygon points="1937.8,862.4 1946.2,848.5 1960.2,854.1 1964.4,862.4 1944.8,870" fill="#ffffff" stroke="#000" stroke-width="4.25" stroke-linejoin="round"/>
<polygon points="2298.4,782.8 2290,794 2290,813.5 2295.6,833.1 2303.9,852.7 2315.1,875 2329.1,897.4 2343.1,912.8 2357,916.9 2380,919.7 2399,919.7 2399,782.8" fill="#ffffff"/>
<polygon points="1999.3,1473.3 2010.5,1456.5 2032.8,1448.1 2055.2,1452.3 2069.2,1462.1 2072,1476.1 2065,1495.6 2046.8,1509.6 2024.5,1516.6 2006.3,1520.8 2000.7,1506.8" fill="#ffffff" stroke="#000" stroke-width="4.25" stroke-linejoin="round"/>
<polygon points="1852.6,1565.5 1856.8,1545.9 1873.5,1532 1895.9,1525 1937.8,1529.2 1965.8,1527.8 1988.1,1527.8 2004.9,1537.6 2010.5,1554.3 2021.7,1565.5 2041.2,1569.7 2066.4,1573.9 2083.2,1585.1 2094.3,1596.3 2098.5,1613 2099.9,1629.8 2091.5,1649.4 2080.4,1663.3 2072,1673.1 2041.2,1674.5 2032.8,1682.9 2021.7,1688.5 2007.7,1681.5 2024.5,1668.9 2030.1,1649.4 2024.5,1635.4 2017.5,1624.2 2013.3,1617.2 1996.5,1613 1988.1,1618.6 1983.9,1635.4 1982.5,1663.3 1974.2,1680.1 1951.8,1671.7 1940.6,1657.7 1937.8,1643.8 1929.4,1627 1915.5,1618.6 1887.5,1607.4 1865.2,1601.8 1854,1585.1" fill="#ffffff" stroke="#000" stroke-width="4.25" stroke-linejoin="round"/>
<polygon points="1861,1561.3 1865.2,1548.7 1876.3,1543.2 1888.9,1547.3 1893.1,1561.3 1888.9,1573.9 1876.3,1579.5 1866.6,1575.3" fill="#ffffff" stroke="#000" stroke-width="5.1" stroke-linejoin="round"/>
<polygon points="1867.9,1565.5 1873,1554.3 1877.7,1568.3 1873.5,1572.5" fill="#ccffff" stroke="#000" stroke-width="1.5" stroke-linejoin="round"/>
<polygon points="2049.6,1627 2058,1614.4 2072,1611.6 2083.2,1621.4 2085.9,1643.8 2080.4,1657.7 2066.4,1663.3 2055.2,1657.7 2048.2,1643.8" fill="#ffffff" stroke="#000" stroke-width="5.1" stroke-linejoin="round"/>
<polygon points="1946.2,1699.7 1954.6,1688.5 1971.4,1684.3 1985.3,1689.9 1996.5,1705.3 2007.7,1716.4 2018.9,1733.2 2030.1,1731.8 2044,1724.8 2058,1722 2063.6,1741.6 2066.4,1758.4 2058,1769.5 2041.2,1772.3 2024.5,1766.7 2013.3,1747.2 1996.5,1736 1982.5,1724.8 1960.2,1727.6 1950.4,1716.4" fill="#ffffff" stroke="#000" stroke-width="4.25" stroke-linejoin="round"/>
<polygon points="2032.8,1752.8 2046.8,1743 2052.4,1758.4 2044,1763.9" fill="#ffffff" stroke="#000" stroke-width="4.25" stroke-linejoin="round"/>
<polygon points="2155.8,1708 2167,1702.5 2183.8,1701.1 2200.5,1709.4 2208.9,1719.2 2203.3,1736 2194.9,1750 2175.4,1752.8 2161.4,1744.4 2154.4,1724.8" fill="#ffffff" stroke="#000" stroke-width="5.1" stroke-linejoin="round"/>
<polygon points="2099.9,1780.7 2108.3,1772.3 2111.1,1800.3 2104.1,1794.7" fill="#ffaaaa"/>
<polygon points="2140.4,1701.1 2147.4,1692.7 2150.2,1702.5 2144.6,1705.3" fill="#ffaaaa" stroke="#000" stroke-width="2.0" stroke-linejoin="round"/>
<polygon points="1913.5,1755.2 1920,1748.7 1935.2,1752 1941.7,1761.7 1954.8,1770.4 1961.3,1779.1 1972.2,1785.7 1985.2,1794.3 2000.4,1798.7 2011.3,1807.4 2007,1813.9 1998.3,1816.1 1996.1,1824.8 1985.2,1829.1 1972.2,1833.5 1965.7,1842.2 1952.6,1853 1933,1854.1 1926.5,1840 1924.3,1822.6 1928.7,1809.6 1939.6,1792.2 1928.7,1779.1 1920,1763.9" fill="#ffffff" stroke="#000" stroke-width="4.25" stroke-linejoin="round"/>
<polygon points="2015.7,1846.5 2024.3,1840 2040,1837.8 2054.8,1837.8 2054.8,1866.1 2040,1866.1 2020,1863.9" fill="#ffffff" stroke="#000" stroke-width="4.25" stroke-linejoin="round"/>
<polygon points="2014.3,1851.3 2015.4,1847 2033.9,1840.4 2035,1825.2 2029.6,1807.8 2031.7,1801.3 2047,1797 2057.8,1801.3 2064.3,1807.8 2065.4,1847 2073,1862.2 2075.2,1881.7 2068.7,1883.9 2053.5,1873 2040.4,1868.7 2020.9,1866.5" fill="#ffffff" stroke="#000" stroke-width="4.25" stroke-linejoin="round"/>
<polygon points="2036.1,1810 2047,1803.5 2057.8,1811.1 2047,1823" fill="#ffffff" stroke="#000" stroke-width="5.1" stroke-linejoin="round"/>
<polygon points="2018.7,1760 2025.2,1766.5 2042.6,1770.9 2055.7,1766.5 2062.2,1760" fill="#ffffff" stroke="#000" stroke-width="4.25" stroke-linejoin="round"/>
<polygon points="2043.7,1986.1 2051.3,1975.2 2066.5,1967.6 2088.3,1966.5 2103.5,1974.1 2111.1,1986.1 2112.2,2001.3 2107.8,2014.3 2094.8,2017.6 2073,2012.2 2055.7,2003.5" fill="#ffaaaa" stroke="#000" stroke-width="2.55" stroke-linejoin="round"/>
<polygon points="2055.7,1990.4 2064.3,1979.6 2081.7,1975.2 2094.8,1981.7 2099.1,1994.8 2094.8,2007.8 2077.4,2010 2062.2,2003.5" fill="#ff5555" stroke="#000" stroke-width="2.55" stroke-linejoin="round"/>
<polygon points="2068.7,1989.3 2083.9,1997 2069.8,2002.4" fill="#ff0000" stroke="#000" stroke-width="2.0" stroke-linejoin="round"/>
<polygon points="1966.5,1990.4 1970.9,1981.7 1983.9,1988.3 1999.1,1997 1994.8,2004.6 1981.7,2007.8 1970.9,2003.5" fill="#ffaaaa" stroke="#000" stroke-width="3.4" stroke-linejoin="round"/>
<polygon points="1810.5,1991.8 1814.3,1976.9 1825.5,1967.6 1842.2,1962 1860.9,1962.9 1875.8,1967.6 1886.9,1976.9 1888.8,1984.3 1879.5,1995.5 1864.6,2004.8 1849.7,2012.3 1832.9,2016 1819.9,2014.2 1812.4,2006.7" fill="#ffffff" stroke="#000" stroke-width="4.25" stroke-linejoin="round"/>
<polygon points="1822.7,1989.9 1826.4,1978.8 1840.4,1973.2 1857.1,1973.2 1873.9,1978.8 1881.3,1983.4 1872,1993.7 1857.1,2001.1 1838.5,2006.7 1827.3,2003" fill="#ffffff" stroke="#000" stroke-width="5.1" stroke-linejoin="round"/>
<polygon points="1831,1984.3 1838.5,1979.7 1853.4,1979.7 1868.3,1982.5 1859,1988.1 1849.7,1993.7 1845.9,1999.2 1834.8,1998.3" fill="#ccffff" stroke="#000" stroke-width="2.0" stroke-linejoin="round"/>
<polygon points="1859.9,2017.9 1873.9,2013.2 1885.1,2010.4 1898.1,2013.2 1901.8,2027.2 1904.6,2044 1907.4,2062.6 1905.6,2070.1 1896.3,2073.8 1888.8,2066.3 1879.5,2051.4 1873.9,2038.4 1868.3,2034.6 1862.7,2029.1" fill="#ffaaaa" stroke="#000" stroke-width="2.55" stroke-linejoin="round"/>
<polygon points="1966.3,2003.1 1972.6,1982.6 1994.7,1995.2 1997.9,2003.1 1978.9,2009.5" fill="#ffaaaa" stroke="#000" stroke-width="2.55" stroke-linejoin="round"/>
<polygon points="1800.3,2080.3 1808.7,2078.4 1818,2083.1 1823.6,2090.5 1826.4,2097.1 1836.6,2100.8 1842.2,2103.6 1845.9,2114.8 1860.9,2120.4 1875.8,2118.5 1885.1,2122.2 1890.7,2129.7 1879.5,2140.9 1860.9,2144.6 1832.9,2140.9 1805,2140.9 1786.3,2137.1 1786.3,2080.3" fill="#ffffff"/>
<polyline points="469.2,1042.1 458.9,1054.7 453.2,1062.6 449.8,1071.7 440.7,1077.4 429.3,1078.6 427,1082 433.9,1087.7 432.7,1091.1 422.5,1095.7 414.5,1100.2 422.5,1112.7 428.2,1113.9 429.3,1120.7 436.1,1123 445.3,1129.8 457.8,1128.7 463.5,1118.4 464.6,1109.3 470.3,1103.6 477.1,1108.2 481.7,1118.4 489.7,1135.5 499.9,1132.1 506.7,1129.8 513.6,1133.2" fill="none" stroke="#000" stroke-width="1.6" stroke-linejoin="round"/>
<polyline points="1426.7,297.9 1430.8,325.9 1440.6,351.1 1436.4,381.8 1433.6,409.7 1444.8,423.7 1456,429.3 1468.6,447.5 1464.4,465.6 1457.4,478.2 1437.8,483.8 1444.8,507.6 1456,532.7 1453.2,555.1 1451.8,571.8 1439.2,588.6 1422.5,605.4 1409.9,630.5 1415.5,655.7 1409.9,680.8 1405.7,692" fill="none" stroke="#000" stroke-width="1.6" stroke-linejoin="round"/>
<polyline points="2379.8,345.5 2365.9,353.8 2346.3,379 2335.1,404.2 2318.4,426.5 2296,448.9 2276.4,471.2 2262.5,482.4 2245.7,499.2 2231.7,515.9 2220.5,531.3" fill="none" stroke="#000" stroke-width="1.6" stroke-linejoin="round"/>
<polyline points="2226.1,644.5 2234.5,647.3 2228.9,658.5 2223.3,661.3 2217.7,680.8 2206.6,694.8 2201,714.4 2206.6,739.5 2202.4,756.3 2206.6,773.1 2213.5,781.5 2219.1,789.8 2206.6,801 2199.6,810" fill="none" stroke="#000" stroke-width="1.6" stroke-linejoin="round"/>
<polyline points="2379.8,406.9 2371.5,402.8 2365.9,412.5 2360.3,426.5 2351.9,433.5 2340.7,430.7 2342.1,451.7 2332.3,455.9 2323.9,453.1 2319.8,461.4 2329.5,467 2340.7,479.6 2351.9,493.6 2356.1,504.8 2356.1,521.5 2365.9,527.1 2374.3,538.3 2379.8,566.3" fill="none" stroke="#000" stroke-width="1.6" stroke-linejoin="round"/>
<polyline points="2044.5,792.6 2055.6,787 2072.4,784.3 2086.4,777.3 2092,773.1 2097.6,778.7 2111.5,789.8 2128.3,795.4 2139.5,810" fill="none" stroke="#000" stroke-width="1.6" stroke-linejoin="round"/>
<polyline points="1255.9,1062.3 1283.8,1065.1" fill="none" stroke="#000" stroke-width="1.6" stroke-linejoin="round"/>
<polyline points="1539.6,1165.7 1543.8,1185.3 1548,1200.1" fill="none" stroke="#000" stroke-width="1.6" stroke-linejoin="round"/>
<polyline points="1258.9,2370.4 1253,2385.2 1235.3,2395.5 1242.7,2402.9 1239.8,2430" fill="none" stroke="#000" stroke-width="1.6" stroke-linejoin="round"/>
<polyline points="378.7,2035.3 389.9,2040.9 409.4,2033.9 415,2042.3 431.8,2052.1 451.4,2053.5 463.9,2045.1 473.7,2046.5 493.3,2046.5 496.1,2063.3 511.4,2071.7 498.9,2088.4 486.3,2096.8 482.1,2106.6 482.1,2141.5 479.3,2158.3 472.3,2163.9 476.5,2175.1 472.3,2194.6 445.8,2198.8 454.2,2211.4 462.5,2232.4 473.7,2236.6 468.1,2250.5 458.3,2260.3 456.9,2278.5 465.3,2289.7 472.3,2292.5 472.3,2302.2 459.7,2305 454.2,2317.6 445.8,2333 450,2345.6 450,2356.7" fill="none" stroke="#000" stroke-width="1.6" stroke-linejoin="round"/>
<polyline points="857.7,1985.4 866.6,1989.8 881.3,1994.2 894.6,1995.7 910.8,2001.6 913.8,2009 937.4,2013.4 949.2,2019.3 958,2014.9 969.8,2010.5 981.6,2013.4" fill="none" stroke="#000" stroke-width="1.6" stroke-linejoin="round"/>
<polyline points="1233.9,1905.7 1226.5,1914.6 1208.8,1916.1 1199.9,1920.5 1208.8,1898.4 1211.7,1892.5" fill="none" stroke="#000" stroke-width="1.6" stroke-linejoin="round"/>
<polyline points="1186.4,1196.4 1185,1223 1178,1239.7 1176.6,1252.3 1162.6,1256.5 1161.2,1267.7 1175.2,1270.5 1178,1278.9 1175.2,1290.1 1162.6,1298.4 1166.8,1309.6 1155.6,1316.6 1141.7,1318 1127.7,1316.6 1122.1,1320.8 1127.7,1332 1134.7,1345.9 1136.1,1357.1 1130.5,1368.3 1127.7,1379.5 1117.9,1382.3 1119.3,1387.9 1127.7,1393.5 1127.7,1404.6 1138.9,1418.6 1144.5,1432.6 1138.9,1443.8 1131.9,1453.5 1133.3,1466.1 1141.7,1475.9 1151.4,1481.5 1150.1,1491.3 1144.5,1496.9 1143.1,1505.3" fill="none" stroke="#000" stroke-width="1.6" stroke-linejoin="round"/>
<polyline points="1038.3,1355.7 1046.6,1350.1 1056.4,1351.5 1063.4,1345.9 1077.4,1348.7 1080.2,1357.1 1088.6,1362.7 1102.5,1365.5 1105.3,1369.7 1115.1,1371.1 1116.5,1382.3 1112.3,1393.5 1108.1,1399 1116.5,1401.8 1127.7,1404.6" fill="none" stroke="#000" stroke-width="1.6" stroke-linejoin="round"/>
<polyline points="960,1407.4 971.2,1406 979.6,1404.6 986.6,1413 989.3,1424.2 999.1,1425.6 1007.5,1432.6 1020.1,1436.8 1029.9,1439.6 1034.1,1449.4 1032.7,1466.1 1057.8,1466.1 1062,1453.5 1067.6,1456.3 1066.2,1468.9 1074.6,1481.5 1091.4,1491.3 1099.7,1502.5 1112.3,1501.1 1116.5,1503.9 1119.3,1491.3 1112.3,1474.5 1117.9,1460.5 1124.9,1452.2 1131.9,1454.9" fill="none" stroke="#000" stroke-width="1.6" stroke-linejoin="round"/>
<polyline points="1116.5,1503.9 1127.7,1506.7 1138.9,1503.9 1152.8,1506.7 1161.2,1527.6 1171,1524.8 1180.8,1531.8 1194.8,1529 1208.7,1538.8 1235.3,1544.4 1228.3,1561.2 1217.1,1575.1 1211.5,1591.9 1203.2,1617" fill="none" stroke="#000" stroke-width="1.6" stroke-linejoin="round"/>
<polyline points="1540.6,1166.2 1546.2,1194.2 1544.8,1213.7 1535,1226.3 1533.6,1236.1 1557.4,1266.8 1553.2,1275.2 1563,1297.6 1557.4,1319.9 1564.4,1342.3 1575.6,1352.1 1576.9,1367.4 1571.4,1384.2 1567.2,1398.2 1557.4,1399.6 1556,1389.8 1547.6,1384.2 1540.6,1384.2 1542,1391.2 1532.2,1398.2 1521.1,1402.4 1507.1,1409.4 1487.5,1417.7 1479.1,1428.9 1467.9,1434.5" fill="none" stroke="#000" stroke-width="1.6" stroke-linejoin="round"/>
<polyline points="1567.2,1398.2 1576.9,1387 1588.1,1387 1592.3,1398.2 1596.5,1403.8 1613.3,1406.6 1627.3,1414.9 1641.2,1413.5 1649.6,1420.5 1638.4,1431.7 1646.8,1435.9 1658,1451.3 1666.4,1449.9 1676.2,1447.1 1676.2,1437.3 1672,1431.7 1685.9,1434.5 1697.1,1441.5 1711.1,1440.1 1715.3,1448.5 1708.3,1454.1 1719.5,1466.7 1727.9,1463.9 1736.3,1465.3 1753,1470.8 1758.6,1487.6 1769.8,1496 1775.4,1510 1786.6,1511.4 1789.4,1501.6 1803.3,1496 1808.9,1507.2 1817.3,1514.2 1815.9,1526.7 1825.7,1523.9 1831.3,1528.1 1836.9,1518.4 1850.8,1512.8 1873.2,1518.4 1887.2,1510 1909.5,1510 1926.3,1518.4 1931.9,1526.7 1951.5,1532.3 1980,1526.7" fill="none" stroke="#000" stroke-width="1.6" stroke-linejoin="round"/>
<polyline points="1459.6,1514.2 1473.5,1518.4 1484.7,1529.5 1495.9,1543.5 1515.5,1560.3 1535,1572.9 1551.8,1571.5 1563,1572.9 1564.4,1557.5 1574.2,1554.7 1576.9,1540.7 1590.9,1543.5 1607.7,1554.7 1630.1,1563.1 1649.6,1556.1 1672,1564.5" fill="none" stroke="#000" stroke-width="1.6" stroke-linejoin="round"/>
<polyline points="1725.1,1529.5 1736.3,1521.2 1747.4,1518.4" fill="none" stroke="#000" stroke-width="1.6" stroke-linejoin="round"/>
<polyline points="1980,1473.6 1968.2,1487.6 1962.6,1504.4 1965.4,1521.2" fill="none" stroke="#000" stroke-width="1.6" stroke-linejoin="round"/>
</g>
<polyline points="1141.6,752.1 1151.4,733.9 1159.7,722.8 1170.9,710.2 1182.1,703.2 1193.3,702.6 1203.1,708.8 1211.4,721.4 1219.8,724.2 1224,714.4 1226.8,669.7 1232.4,655.7 1238,641.7 1242.2,624.9 1229.6,599.8 1215.6,583 1201.7,570.4 1190.5,560.7 1186.3,548.1 1189.1,532.7 1196.1,518.7 1205.9,510.4 1221.2,502 1240.8,488 1257.6,476.8 1267.3,462.8 1281.3,461.4 1292.5,471.2 1298.1,490.8 1307.9,502 1323.2,518.7 1338.6,538.3 1355.4,555.1 1369.4,567.7 1380.5,577.4 1405.7,576 1425.3,573.2 1435,580.2 1437.8,573.2 1467.2,571.8 1482.5,570.4 1485.3,574.6 1485.3,587.2 1481.2,592.8 1467.2,580.2 1451.8,585.8 1439.2,597 1422.5,612.4 1408.5,627.7 1395.9,641.7 1390.3,658.5 1388.9,675.3 1394.5,686.4 1405.7,690.6 1430.8,687.8 1456,679.4 1472.8,669.7 1481.2,659.9 1492.3,652.9 1511.9,650.7 1511.2,650.1 1533.5,651.5 1550.3,658.5 1562.9,673.9 1578.3,673.9 1575.5,658.5 1571.3,636.1 1569.9,619.4 1574.1,597 1581.1,571.8 1586.6,546.7 1589.4,522.9 1585.2,499.2 1578.3,474 1576.9,448.9 1582.4,434.9 1592.2,420.9 1600.6,404.2 1607.6,390.2 1617.4,384.6 1634.2,381.8 1648.1,388.8 1660.7,393 1666.3,415.3 1659.3,440.5 1662.1,460.1 1667.7,472.6 1684.5,472.6" fill="none" stroke="#000" stroke-width="3.4" stroke-linejoin="round" stroke-linecap="round"/>
<polyline points="2405,756.9 2379.8,757.7 2349.1,761.9 2321.2,767.5 2310,770.3 2296,781.5 2291,794 2289.8,802.4" fill="none" stroke="#000" stroke-width="4.25" stroke-linejoin="round" stroke-linecap="round"/>
<polyline points="1323,963.1 1311.8,972.8 1307.6,984 1307.6,1006.4 1304.8,1025.9 1295,1039.9 1286.6,1053.9 1285.2,1070.7 1292.2,1084.6 1306.2,1095.8 1320.2,1101.4 1339.7,1102.8" fill="none" stroke="#000" stroke-width="3.4" stroke-linejoin="round" stroke-linecap="round"/>
<polyline points="1401.2,1136.3 1404,1151.7 1420.8,1165.7 1440.4,1176.9 1457.1,1188 1468.3,1200.1 1479.5,1210.4" fill="none" stroke="#000" stroke-width="3.4" stroke-linejoin="round" stroke-linecap="round"/>
<polyline points="1423.2,1166.2 1440,1178.8 1454,1185.8 1467.9,1199.7 1481.9,1215.1 1495.9,1223.5 1512.7,1230.5 1532.2,1236.1 1546.2,1247.3 1557.4,1259.8 1571.4,1272.4 1585.3,1283.6 1599.3,1292 1610.5,1305.9 1616.1,1319.9 1618.9,1332.5 1635.6,1349.3 1652.4,1353.5 1670.6,1354.9 1680.4,1364.6 1688.7,1375.8 1684.6,1392.6 1679,1403.8 1672,1409.4 1658,1410.8 1653.8,1423.3 1649.6,1437.3 1658,1438.7 1666.4,1431.7 1669.2,1420.5 1680.4,1417.7 1694.3,1421.9 1708.3,1431.7 1719.5,1442.9 1727.9,1456.9 1730.7,1473.6 1729.3,1496 1726.5,1512.8 1725.1,1529.5 1716.7,1539.3 1705.5,1544.9 1691.5,1551.9 1680.4,1563.1 1672,1577 1666.4,1591" fill="none" stroke="#000" stroke-width="3.4" stroke-linejoin="round" stroke-linecap="round"/>
<polyline points="1665.7,1605.2 1672.2,1618.3 1677.6,1629.1 1678.7,1635.7 1691.7,1634.6 1704.8,1634.6 1713.5,1640 1720,1647.6 1720,1663.9 1713.5,1672.6 1709.1,1683.5 1711.3,1698.7 1717.8,1711.7 1723.3,1720.4 1725.4,1737.8 1721.1,1748.7 1711.3,1755.2 1696.1,1757.4 1691.7,1770.4 1683,1779.1 1674.3,1790 1670,1805.2 1665.7,1820.4 1665.7,1840 1672.2,1850.9 1676.5,1863.9 1683,1874.8 1693.9,1885.7 1702.6,1894.3 1703.7,1900.9 1715.7,1905.2 1733,1911.7 1737.4,1922.6 1746.1,1929.1 1737.4,1933.5 1726.5,1931.3 1724.3,1924.8 1715.7,1918.3 1702.6,1913.9 1685.2,1911.7 1667.8,1911.7 1652.6,1916.1 1643.9,1922.6 1630.9,1918.3 1626.5,1909.6 1622.2,1896.5 1623.9,1875 1629.6,1841.7 1612.8,1847.4 1601.6,1861.4 1587.6,1867" fill="none" stroke="#000" stroke-width="3.4" stroke-linejoin="round" stroke-linecap="round"/>
<polyline points="1441.8,1832 1434.4,1833.9 1426.9,1843.2 1419.5,1858.1 1412,1867.4 1400.9,1874.9 1394.3,1880.5 1398.1,1891.7 1399,1902.8 1391.5,1910.3 1376.6,1914 1354.3,1913.1 1337.5,1912.2" fill="none" stroke="#000" stroke-width="3.4" stroke-linejoin="round" stroke-linecap="round"/>
<polyline points="1292.8,1884.2 1293.7,1869.3 1290.9,1854.4 1285.3,1839.5 1277.9,1833.9 1263,1835.8 1249.9,1843.2 1236.9,1858.1 1225.7,1873 1218.3,1886.1 1210.8,1891.7 1195.9,1897.2 1177.3,1902.8 1158.6,1908.4 1140,1912.2" fill="none" stroke="#000" stroke-width="3.4" stroke-linejoin="round" stroke-linecap="round"/>
<polyline points="1149.8,1908.7 1129.1,1907.2 1111.4,1920.5 1093.7,1917.5 1076,1911.6 1061.3,1895.4 1043.6,1893.9 1017,1907.2 987.5,1926.4 958,1945.6 940.3,1954.4 924.1,1957.4 919.7,1948.5 906.4,1948.5 913.8,1958.8 907.9,1966.2 897.5,1983.9 894.6,2007.5 894.6,2051.8 878.4,2066.5 857.7,2078.3 840,2079.8" fill="none" stroke="#000" stroke-width="3.4" stroke-linejoin="round" stroke-linecap="round"/>
<polyline points="860,2080.1 839.8,2080.1 823.1,2082.8 806.3,2091.2 792.3,2103.8 772.8,2102.4 753.2,2092.6 744.8,2099.6 753.2,2117.8 742,2133.2 735,2147.1 737.8,2169.5 730.8,2186.3 711.3,2197.4 691.7,2203 674.9,2197.4 655.4,2183.5 638.6,2169.5 631.6,2158.3 633,2141.5 638.6,2122 649.8,2109.4 661,2099.6 672.2,2085.6 683.3,2080.1 705.7,2075.9 719.7,2068.9 716.9,2060.5 711.3,2049.3 702.9,2045.1 683.3,2049.3 666.6,2054.9 652.6,2050.7 649.8,2026.9 645.6,2013 641.4,1999 642.8,1985 651.2,1973.8 663.8,1959.9 677.7,1945.9 694.5,1947.3 705.7,1957.1 716.9,1966.9 730.8,1965.5 736.4,1955.7 739.2,1948.7 744.8,1931.9" fill="none" stroke="#000" stroke-width="3.4" stroke-linejoin="round" stroke-linecap="round"/>
<polyline points="718.9,1704.2 727.3,1687.4 732.8,1667.9 730.1,1653.9 721.7,1642.7 707.7,1631.5 690.9,1617.6 674.2,1603.6 660.2,1589.6 651.8,1570.1 650.4,1556.1" fill="none" stroke="#000" stroke-width="3.4" stroke-linejoin="round" stroke-linecap="round"/>
<polyline points="392.7,2017.2 394.1,2032.5 403.8,2052.1 413.6,2071.7 419.2,2102.4 426.2,2119.2 422,2141.5 419.2,2169.5 420.6,2197.4 419.2,2217 409.4,2231 398.3,2242.2 389.9,2247.7 374.5,2249.1 361.9,2256.1" fill="none" stroke="#000" stroke-width="5.1" stroke-linejoin="round" stroke-linecap="round"/>
<polyline points="387.1,2284.1 403.8,2279.9 431.8,2282.7 448.6,2284.1 472.3,2292.5 498.9,2296.7 512.8,2306.4 521.2,2320.4 528.2,2340 525.4,2359.5 510.1,2376.3 510.1,2393.1" fill="none" stroke="#000" stroke-width="5.1" stroke-linejoin="round" stroke-linecap="round"/>
<polyline points="382.9,2295.3 389.9,2306.4 398.3,2328.8 412.2,2348.4 422,2362.3" fill="none" stroke="#000" stroke-width="5.1" stroke-linejoin="round" stroke-linecap="round"/>
<polyline points="1397.6,2015.1 1399,2001.2 1392,1976 1387.8,1942.5 1405.9,1935.5 1428.3,1938.3 1453.5,1936.9 1475.8,1942.5 1489.8,1942.5 1499.6,1934.1" fill="none" stroke="#000" stroke-width="3.4" stroke-linejoin="round" stroke-linecap="round"/>
<polyline points="1521.2,1981.9 1512.7,1991.6 1510.3,2003.8 1515.2,2028.1 1524.9,2045.1 1528.5,2064.6 1526.1,2081.6 1518.8,2096.2" fill="none" stroke="#000" stroke-width="3.4" stroke-linejoin="round" stroke-linecap="round"/>
<polyline points="1392.3,1960 1396,1984.3 1397.2,2006.2 1394.7,2016" fill="none" stroke="#000" stroke-width="3.4" stroke-linejoin="round" stroke-linecap="round"/>
<polyline points="1760,1118.7 1758.6,1143.8 1767,1157.8 1783.8,1173.2 1806.1,1181.6 1825.7,1181.6 1839.7,1170.4 1845.3,1157.8 1846.7,1149.4 1859.2,1149.4 1870.4,1169 1884.4,1181.6 1901.2,1188.6 1917.9,1191.4 1929.1,1202.5 1933.3,1215.1 1930.5,1233.3 1923.5,1258.4 1922.1,1289.2 1927.7,1303.2 1943.1,1312.9 1959.8,1314.3 1980,1314.9" fill="none" stroke="#000" stroke-width="4.25" stroke-linejoin="round" stroke-linecap="round"/>
<polyline points="2007.7,1322.4 2035.6,1330.7 2052.4,1333.5 2069.2,1344.7 2080.4,1358.7 2088.7,1375.5 2092.9,1395 2091.5,1417.4 2087.3,1434.2 2087.3,1450.9 2091.5,1460.7 2105.5,1470.5 2119.5,1480.3 2127.9,1495.6 2132.1,1518 2130.7,1551.5 2139,1571.1 2147.4,1590.7 2155.8,1604.6 2164.2,1613 2175.4,1618.6 2186.6,1629.8 2194.9,1646.6 2203.3,1660.5 2206.1,1666.1 2197.7,1674.5 2186.6,1681.5 2172.6,1685.7 2161.4,1696.9 2155.8,1708 2147.4,1719.2 2136.3,1730.4 2122.3,1727.6 2108.3,1731.8 2104.1,1740.2 2111.1,1747.2 2127.9,1747.2 2139,1754.2 2144.6,1763.9 2140.4,1775.1" fill="none" stroke="#000" stroke-width="4.25" stroke-linejoin="round" stroke-linecap="round"/>
<polyline points="2139.3,1773 2147,1790.4 2162.2,1805.7 2164.3,1811.1 2157.8,1816.5 2154.6,1829.6 2147,1836.1 2133.9,1843.7 2130.7,1855.7 2131.7,1866.5 2138.3,1875.2 2136.1,1883.9 2125.2,1878.5 2112.2,1881.7 2090.4,1890.4 2078.5,1901.3 2075.2,1912.2 2072,1929.6 2072,1931.7" fill="none" stroke="#000" stroke-width="4.25" stroke-linejoin="round" stroke-linecap="round"/>
<polygon points="2072,1931.7 2090.4,1940.4 2112.2,1953.5 2125.2,1962.2 2129.6,1977.4 2130.7,1999.1 2125.2,2020.9 2120.9,2031.7 2112.2,2038.3 2099.1,2033.9 2081.7,2031.7 2068.7,2020.9 2055.7,2012.2 2040.4,2005.7 2029.6,1999.1 2026.3,1986.1 2031.7,1973 2040.4,1960 2049.1,1947 2055.7,1937.2 2064.3,1932.8 2071.3,1931.7" fill="none" stroke="#000" stroke-width="3.4" stroke-linejoin="round" stroke-linecap="round"/>
<polyline points="2051.5,1914.7 2032.6,1903.7 2020,1902.1 2001,1914.7 1988.4,1927.4 1986.8,1946.3 1991.5,1971.6 2001,1987.4 2007.3,2003.1 1994.7,2015.8 1982.1,2028.4 1978.9,2041 1985.2,2053.7 1982.1,2069.4 1985.2,2085.2 2007.3,2078.9 2032.6,2072.6 2057.9,2069.4 2070.5,2066.3 2061,2082.1 2048.4,2094.7 2029.4,2104.2 2016.8,2116.8 2010.5,2123.1 1994.7,2124.7 1982.1,2118.4 1963.1,2126.3 1944.2,2135.8 1931.6,2129.4 1925.2,2116.8 1922.1,2107.3 1903.1,2107.3 1890.5,2120 1887.3,2135.8 1881,2148.4 1884.2,2157.9 1893.7,2162.6 1903.1,2154.7 1906.3,2145.2 1922.1,2142.1 1930,2151.5 1928.4,2167.3 1915.8,2176.8 1912.6,2192.6 1915.8,2214.7 1922.1,2230.5 1931.6,2246.3 1941,2258.9 1956.8,2265.2 1958.4,2279.4" fill="none" stroke="#000" stroke-width="4.25" stroke-linejoin="round" stroke-linecap="round"/>
<polyline points="1599.1,2069.5 1588.1,2076.8 1578.4,2086.5 1571.1,2106 1568.7,2135.2" fill="none" stroke="#000" stroke-width="4.25" stroke-linejoin="round" stroke-linecap="round"/>
<polyline points="1925.3,2284.3 1918.8,2295.5 1920.7,2310.4 1923.5,2327.2 1929.1,2338.4 1938.4,2345.8 1947.7,2353.3 1958.9,2360.7 1970.1,2368.2 1974.7,2371.9" fill="none" stroke="#000" stroke-width="4.25" stroke-linejoin="round" stroke-linecap="round"/>
<polyline points="1893.1,879.2 1907.1,889 1912.7,908.6 1923.8,936.5 1932.2,953.3 1935,970.1 1951.8,984 1965.8,995.2 1979.7,999.4 1996.5,1000.8 2007.7,995.2 2018.9,978.4 2030.1,965.9 2041.2,963.1 2055.2,970.1 2066.4,975.6 2074.8,992.4 2083.2,1012 2087.3,1031.5 2088.7,1042.7 2077.6,1053.9 2066.4,1062.3 2055.2,1062.3 2041.2,1051.1 2027.3,1039.9 2013.3,1038.5 1999.3,1045.5 1982.5,1055.3 1970,1060.9 1960.2,1076.3 1951.8,1095.8 1949,1115.4 1944.8,1129.4 1954.6,1143.3 1968.6,1154.5 1985.3,1148.9 2002.1,1134.9 2010.5,1115.4 2024.5,1101.4 2044,1091.6 2058,1091.6 2072,1104.2 2083.2,1116.8 2091.5,1119.6 2108.3,1121 2122.3,1121 2136.3,1107 2147.4,1087.4 2148.8,1059.5 2155.8,1039.9 2168.4,1023.2 2183.8,1000.8 2194.9,975.6 2208.9,956.1 2225.7,942.1 2242.5,933.7 2264.8,932.3 2301.2,935.1 2334.7,933.7 2380,932.3 2426.9,932.3" fill="none" stroke="#000" stroke-width="4.25" stroke-linejoin="round" stroke-linecap="round"/>
<polyline points="2289.4,801 2290,813.5 2295.6,833.1 2303.9,852.7 2315.1,875 2329.1,897.4 2343.1,912.8 2357,916.9 2387.8,920.3" fill="none" stroke="#000" stroke-width="4.25" stroke-linejoin="round" stroke-linecap="round"/>
<polygon points="1845.6,1062.3 1859.6,1058.1 1867.9,1062.3 1876.3,1076.3 1879.1,1093 1870.7,1104.2 1859.6,1104.2 1851.2,1093 1842.8,1081.8" fill="none" stroke="#000" stroke-width="3.4" stroke-linejoin="round" stroke-linecap="round"/>
<polygon points="2197,1881.7 2210,1883.9 2220.9,1886.1 2233.9,1877.4 2251.3,1877.4 2254.6,1890.4 2253.5,1899.1 2240.4,1907.8 2227.4,1918.7 2214.3,1918.7 2203.5,1912.2 2197,1899.1" fill="none" stroke="#000" stroke-width="4.25" stroke-linejoin="round" stroke-linecap="round"/>
<polygon points="2178,1823 2188.4,1808.5 2204.9,1798.1 2217.3,1787.8 2233.9,1771.2 2246.3,1769.2 2254.6,1762.9 2258.8,1748.4 2267,1745.3 2274.3,1750.5 2273.3,1767.1 2271.2,1789.9 2265,1808.5 2258.8,1818.8 2246.3,1827.1 2225.6,1832.3 2204.9,1831.3 2188.4,1829.2" fill="none" stroke="#000" stroke-width="4.25" stroke-linejoin="round" stroke-linecap="round"/>
<polyline points="2335.4,1777.4 2345.7,1744.3 2358.1,1719.5 2379.9,1713.3" fill="none" stroke="#000" stroke-width="4.25" stroke-linejoin="round" stroke-linecap="round"/>
<polyline points="1800.3,2080.3 1808.7,2078.4 1818,2083.1 1823.6,2090.5 1826.4,2097.1 1836.6,2100.8 1842.2,2103.6" fill="none" stroke="#000" stroke-width="4.25" stroke-linejoin="round" stroke-linecap="round"/>
<polygon points="1151.8,1717.1 1156.8,1715.3 1163,1719.6 1156.8,1728.3 1153.7,1724.6" fill="#000"/>
<polygon points="1369.2,1737 1380.4,1731 1393.4,1727.7 1399.9,1731 1401.8,1746.3 1394.9,1753.8 1382.2,1748.6 1373.3,1743.5" fill="#fff" stroke="#000" stroke-width="4.25"/>
<polygon points="1377.6,1737.9 1385.9,1734.2 1394.3,1733.3 1396.8,1744.5 1392.5,1748.2 1383.2,1744.5" fill="#000"/>
<polygon points="1384.1,1738.9 1389.7,1737 1392.5,1737.9 1393,1743.5 1390.6,1744.8 1385.6,1742.6" fill="#fff"/>
<polygon points="1362.7,1625.2 1371,1623.4 1382.2,1624.3 1387.8,1627.1 1380.4,1630.8 1367.3,1630.8" fill="#000"/>
<circle cx="1382.2" cy="1662.5" r="4" fill="#000"/>
<circle cx="1343.1" cy="1738.9" r="4.5" fill="#000"/>
<circle cx="1470.1" cy="1315.8" r="3.2" fill="#ffaaaa" stroke="#000" stroke-width="2.4"/>
<ellipse cx="451.358" cy="2223.99" rx="5" ry="11" fill="#000"/>
<polyline points="1925.3,2284.3 1938.4,2289.9 1951.4,2295.5 1964.5,2303 1971.9,2308.6 1975.6,2304.8 1970.1,2301.1 1977.5,2297.4 1990.5,2295.5 1986.8,2308.6 1977.5,2311.4 1985,2316 1986.8,2327.2 1994.3,2334.6 2001.7,2338.4 1990.5,2340.2 1986.8,2349.6 1982.2,2344 1985,2339.3 1977.5,2334.6 1964.5,2330 1964.5,2340.2 1970.1,2351.4 1975.6,2364.5 1979.4,2375.6 1983.1,2382.2 1979.4,2388.7 1982.2,2396.1 1987.8,2402.7 1983.1,2402.7 1977.5,2398 1974.7,2385 1974.7,2371.9" fill="none" stroke="#000" stroke-width="1.8" stroke-linejoin="round"/>
<polygon points="1972.8,2409.2 1975.6,2405.5 1984,2414.8 1981.2,2421.3 1974.7,2419.4" fill="none" stroke="#000" stroke-width="1.8" stroke-linejoin="round"/>
<polygon points="1954.2,2249.9 1958.9,2246.1 1970.1,2248 1977.5,2239.6 1994.3,2238.7 1999.9,2245.2 2005.5,2254.5 2022.2,2260.1 2036.2,2262 2038.1,2276.9 2042.7,2291.8 2039,2292.7 2029.7,2278.8 2011,2281.5 2007.3,2271.3 1994.3,2267.6 1990.5,2262 1983.1,2263.8 1973.8,2254.5 1962.6,2251.7" fill="none" stroke="#000" stroke-width="1.8" stroke-linejoin="round"/>
<polyline points="1958.9,2282.5 1966.3,2289.9 1977.5,2291.8 1990.5,2289.9 1999.9,2299.2 2007.3,2303 2014.8,2310.4 2022.2,2317.9 2025.9,2325.3 2031.5,2323.5 2032.5,2317.9 2027.8,2308.6" fill="none" stroke="#000" stroke-width="1.8" stroke-linejoin="round"/>
<polygon points="1968.2,2224.7 1975.6,2218.2 1986.8,2219.1 1994.3,2226.6 1988.7,2234 1981.2,2235 1973.8,2232.2" fill="none" stroke="#000" stroke-width="1.8" stroke-linejoin="round"/>
<polygon points="2007.3,2227.5 2012,2226.6 2017.6,2233.1 2012.9,2235.9" fill="none" stroke="#000" stroke-width="1.8" stroke-linejoin="round"/>
<polygon points="2050.2,2244.3 2053,2241.5 2061.3,2248.9 2063.2,2254.5 2055.8,2256.4" fill="none" stroke="#000" stroke-width="1.8" stroke-linejoin="round"/>
<polygon points="2063.2,2306.7 2067.9,2303.9 2076.3,2310.4 2078.1,2319.7 2074.4,2321.6 2067.9,2314.2" fill="none" stroke="#000" stroke-width="1.8" stroke-linejoin="round"/>
<polygon points="2078.1,2325.3 2087.4,2324.4 2092.1,2329.1 2088.4,2334.6 2080,2330" fill="none" stroke="#000" stroke-width="1.8" stroke-linejoin="round"/>
<polygon points="2045.5,2383.1 2055.8,2381.2 2055.8,2387.8 2045.5,2389.6" fill="none" stroke="#000" stroke-width="1.8" stroke-linejoin="round"/>
<polygon points="2091.2,2382.2 2094,2380.3 2099,2385.9 2095.8,2389.6" fill="none" stroke="#000" stroke-width="1.8" stroke-linejoin="round"/>
<polygon points="2121,2267.6 2134,2266.6 2137.7,2276.9 2134,2288.1 2128.4,2293.7 2121.9,2289.9 2126.6,2282.5 2125.6,2275" fill="none" stroke="#000" stroke-width="1.8" stroke-linejoin="round"/>
<polygon points="2128.4,2329.1 2140,2325.3 2140,2332.8 2130.3,2335.6" fill="none" stroke="#000" stroke-width="1.8" stroke-linejoin="round"/>
<polygon points="2015.7,2293.7 2019.4,2286.2 2027.8,2285.3 2032.5,2293.7 2029.7,2303 2021.3,2305.8" fill="none" stroke="#000" stroke-width="5.1"/>
<polygon points="2040.9,2295.5 2057.6,2295.5 2055.8,2306.7 2052,2308.6" fill="#000"/>
<polygon points="1996.1,2329.1 1999.9,2330.9 2005.5,2338.4 1999.9,2340.2" fill="#000"/>
<polygon points="2041.8,2327.2 2046.4,2324.4 2048.3,2327.2 2043.6,2334.6" fill="#000"/>
<polygon points="2046.4,2338.4 2051.1,2337.4 2053,2342.1 2047.4,2348.6" fill="#000"/>
<polygon points="2083.7,2359.8 2089.3,2358.5 2092.1,2361.7 2087.4,2368.2 2084.1,2367.3" fill="#000"/>
<polygon points="2096.8,2360.7 2104.2,2355.1 2108.9,2358.9 2107,2368.2 2101.4,2371.9" fill="#000"/>
<ellipse cx="1971.4" cy="1713.6" rx="2.8" ry="3.9" fill="#000"/>
<ellipse cx="1995.1" cy="1717.8" rx="2.5" ry="3.5" fill="#000"/>
<ellipse cx="2097.1" cy="1698.3" rx="2.2" ry="3.1" fill="#000"/>
<ellipse cx="2070.6" cy="1645.2" rx="1.7" ry="2.3" fill="#000"/>
<circle cx="2164.6" cy="1776.4" r="9" fill="none" stroke="#000" stroke-width="5.1"/>
<polygon points="1994.8,1955.7 2001.3,1940.4 2016.5,1935 2029.6,1942.6 2031.7,1960 2027.4,1975.2 2012.2,1983.9 2001.3,1975.2" fill="none" stroke="#000" stroke-width="5.1" stroke-linejoin="round"/>
<polygon points="2005.7,1964.3 2010,1952.4 2019.8,1965.4 2011.1,1969.8" fill="#ccffff" stroke="#000" stroke-width="2" stroke-linejoin="round"/>
<polygon points="1990.4,2032.8 2007.8,2018.7 2025.2,2007.8 2047,2010 2064.3,2020.9 2078.5,2036.1 2068.7,2051.3 2051.3,2062.2 2031.7,2064.3 2012.2,2057.8 1999.1,2044.8" fill="none" stroke="#000" stroke-width="5.1" stroke-linejoin="round"/>
<polygon points="2015.4,2033.9 2023,2018.7 2042.6,2014.3 2057.8,2023 2066.5,2038.3 2055.7,2049.1 2040.4,2056.7 2023,2053.5" fill="#ccffff" stroke="#000" stroke-width="3.4" stroke-linejoin="round"/>
<polygon points="2029.6,2033.9 2036.1,2026.3 2048,2028.5 2052.4,2036.1 2045.9,2041.5 2033.9,2040.4" fill="#66ffff" stroke="#000" stroke-width="2.55" stroke-linejoin="round"/>
<polyline points="2380,986.8 2357,998 2334.7,1012 2323.5,1023.2 2323.5,1039.9 2340.3,1062.3 2340.3,1087.4 2326.3,1107 2303.9,1114 2259.2,1116.8 2242.5,1104.2 2225.7,1097.2 2208.9,1094.4 2186.6,1098.6 2172.6,1108.4 2161.4,1126.6 2158.6,1148.9 2167,1171.3 2181,1182.5 2200.5,1185.3 2217.3,1179.7 2228.5,1171.3 2235.5,1167.1 2245.3,1176.9 2248,1199.2 2245.3,1232.8 2239.7,1269.1 2231.3,1305.4 2227.1,1327.8" fill="none" stroke="#000" stroke-width="6.8" stroke-linejoin="round" stroke-linecap="round"/>
<polyline points="2231.3,1288.8 2227.1,1316.8 2231.3,1339.1 2242.5,1355.9 2259.2,1369.9 2287.2,1383.8 2315.1,1395 2343.1,1403.4 2385,1411.2" fill="none" stroke="#000" stroke-width="5.95" stroke-linejoin="round" stroke-linecap="round"/>
<polyline points="2385,1582.3 2357,1583.7 2329.1,1580.9 2301.2,1579.5 2284.4,1585.1 2276,1604.6 2267.6,1624.2 2260.6,1639.6 2276,1652.2 2298.4,1668.9 2315.1,1680.1 2327.7,1685.7 2343.1,1677.3 2362.6,1666.1 2385,1659.1" fill="none" stroke="#000" stroke-width="5.95" stroke-linejoin="round" stroke-linecap="round"/>
<polyline points="2385,1471.9 2368.2,1478.9 2357,1492.8 2368.2,1504 2385,1508.2" fill="none" stroke="#000" stroke-width="5.95" stroke-linejoin="round" stroke-linecap="round"/>
<polygon points="2312.3,1288.8 2326.3,1316.8 2331.9,1333.5 2343.1,1339.1 2354.3,1333.5 2362.6,1316.8 2351.5,1288.8" fill="#ccffff" stroke="#000" stroke-width="3.4" stroke-linejoin="round"/>
<polygon points="2306.7,1274.7 2320.7,1269.1 2337.5,1274.7 2348.7,1297 2362.6,1327.8 2315.1,1327.8 2309.5,1297" fill="#ccffff" stroke="#000" stroke-width="3.4" stroke-linejoin="round"/>
<polyline points="2220.9,1993.7 2210,1986.1 2197,1975.2 2183.9,1969.8 2173,1981.7 2168.7,1999.1 2162.2,2016.5 2153.5,2014.3 2164.3,2023 2177.4,2029.6 2194.8,2031.7 2207.8,2027.4 2215.4,2020.9" fill="none" stroke="#000" stroke-width="5.95" stroke-linejoin="round" stroke-linecap="round"/>
<polyline points="2083.9,2107.8 2090.4,2094.8 2094.8,2081.7 2090.4,2063.3 2097,2057.8 2110,2066.5 2114.3,2077.4 2125.2,2090.4 2133.9,2101.3 2140.4,2116.5 2133.9,2127.4" fill="none" stroke="#000" stroke-width="6.8" stroke-linejoin="round" stroke-linecap="round"/>
<polygon points="1580.8,2115.7 1585.7,2103.5 1595.4,2098.7 1610,2101.1 1622.2,2106 1631.9,2118.1 1634.4,2135.2 1629.5,2152.2 1619.8,2164.3 1607.6,2170.4 1593,2170.4 1585.7,2164.3 1585.7,2144.9" fill="none" stroke="#000" stroke-width="6.8" stroke-linejoin="round"/>
<polygon points="1634.4,2215.4 1639.2,2205.7 1651.4,2199.6 1666,2203.3 1678.2,2213 1673.3,2225.2 1661.1,2231.2 1646.5,2228.8 1638,2224" fill="none" stroke="#000" stroke-width="6.8" stroke-linejoin="round"/>
<polyline points="1472.6,2301.8 1470.2,2317.6 1465.3,2331" fill="none" stroke="#000" stroke-width="5.95" stroke-linejoin="round" stroke-linecap="round"/>
<polyline points="1510.3,2306.7 1522.5,2311.5 1507.9,2322.5 1501.8,2334.6 1499.3,2348" fill="none" stroke="#000" stroke-width="5.95" stroke-linejoin="round" stroke-linecap="round"/>
<polygon points="1655,2161.9 1653.8,2147.3 1658.7,2138.8 1669.6,2136.4 1678.2,2142.5 1666,2154.6 1661.1,2165.6" fill="#ffd9d9" stroke="#000" stroke-width="2.55" stroke-linejoin="round"/>
<polygon points="1524.9,2361.4 1529.8,2354.1 1541.9,2354.1 1548,2361.4 1546.8,2371.1 1534.6,2363.8" fill="#ffd9d9" stroke="#000" stroke-width="2.55" stroke-linejoin="round"/>
<polyline points="1568.7,2135.2 1573.5,2144.9 1574.8,2154.6 1572.3,2160.7 1583.3,2164.3 1595.4,2176.5 1610,2171.6 1614.9,2183.8 1617.3,2198.4 1627.1,2210.6 1630.7,2232.5 1638,2247.1 1635.6,2258 1622.2,2260.4 1618.5,2264.1 1623.4,2271.4 1619.8,2283.6 1610,2288.4 1607.6,2298.2 1608.8,2307.9 1629.5,2310.3 1634.4,2295.7 1644.1,2283.6 1656.3,2276.3 1653.8,2256.8 1663.6,2249.5 1685.4,2244.6 1683,2234.9 1684.2,2214.2 1668.4,2205.7 1656.3,2199.6 1651.4,2197.2 1651.4,2186.2 1656.3,2174.1 1658.7,2166.8 1666,2154.6 1678.2,2143.7 1692.7,2142.5 1687.9,2147.3 1700,2154.6 1719.5,2157.1 1726.8,2169.2 1729.2,2178.9 1739,2186.2 1745.1,2188.7 1748.7,2176.5 1753.6,2166.8 1748.7,2154.6 1739,2147.3 1729.2,2140 1726.8,2132.7 1704.9,2125.4 1692.7,2113.3 1680.6,2103.5 1656.3,2096.2 1631.9,2084.1 1622.2,2076.8 1622.2,2067 1636.8,2057.3 1629.5,2046.4 1597.9,2050" fill="none" stroke="#000" stroke-width="1.8" stroke-linejoin="round"/>
<polygon points="1448.3,2317.6 1450.7,2303 1461.6,2295.7 1471.4,2300.6 1478.7,2293.3 1490.8,2290.9 1495.7,2296.9 1517.6,2305.4 1541.9,2303 1566.2,2294.5 1580.8,2295.7 1601.5,2286 1606.4,2287.2 1601.5,2300.6 1590.6,2312.7 1585.7,2329.8 1580.8,2337.1 1583.3,2349.2 1593,2365.1 1583.3,2373.6 1580.8,2388.2 1566.2,2384.5 1554.1,2380.9 1544.3,2366.3 1534.6,2363.8 1520,2361.4 1500.6,2349.2 1483.5,2338.3 1468.9,2329.8 1459.2,2332.2 1449.5,2324.9" fill="none" stroke="#000" stroke-width="1.8" stroke-linejoin="round"/>
<polyline points="2070.5,2066.3 2083.1,2082.1 2080,2097.9 2067.3,2113.7 2051.5,2120 2032.6,2123.1 2013.6,2129.4 2016.8,2142.1 2020,2154.7 2007.3,2151.5 1994.7,2142.1 1982.1,2135.8 1972.6,2132.6 1963.1,2138.9 1956.8,2154.7 1960,2173.6 1972.6,2183.1 1982.1,2198.9 1975.8,2217.9 1988.4,2227.3 1975.8,2236.8 1956.8,2243.1 1963.1,2252.6 1978.9,2246.3 1994.7,2240 2007.3,2252.6 2023.1,2262.1 2035.7,2265.2 2038.9,2284.2 2048.4,2293.6 2032.6,2284.2 2013.6,2274.7 1994.7,2268.4 1975.8,2262.1 1958.4,2279.4" fill="none" stroke="#000" stroke-width="1.8" stroke-linejoin="round"/>
<polygon points="1997.9,2157.9 2010.5,2159.4 2023.1,2173.6 2007.3,2176.8" fill="none" stroke="#000" stroke-width="1.8" stroke-linejoin="round"/>
<polygon points="2013.6,2154.7 2023.1,2151.5 2045.2,2164.2 2038.9,2167.3" fill="none" stroke="#000" stroke-width="1.8" stroke-linejoin="round"/>
<polygon points="2080,2176.8 2098.9,2173.6 2095.7,2187.9 2083.1,2186.3" fill="none" stroke="#000" stroke-width="1.8" stroke-linejoin="round"/>
<polygon points="2102.1,2142.1 2114.7,2143.7 2108.4,2148.4" fill="none" stroke="#000" stroke-width="1.8" stroke-linejoin="round"/>
<polygon points="2121,2224.2 2146.3,2221 2165.2,2230.5 2152.6,2243.1 2133.6,2236.8" fill="none" stroke="#000" stroke-width="1.8" stroke-linejoin="round"/>
<polygon points="2124.2,2268.4 2133.6,2265.2 2130.5,2287.3 2121,2284.2" fill="none" stroke="#000" stroke-width="1.8" stroke-linejoin="round"/>
<polygon points="2130.5,2331.5 2146.3,2325.2 2136.8,2341" fill="none" stroke="#000" stroke-width="1.8" stroke-linejoin="round"/>
<polygon points="2158.9,2318.9 2177.8,2315.7 2181,2325.2 2165.2,2328.4" fill="none" stroke="#000" stroke-width="1.8" stroke-linejoin="round"/>
<polyline points="2236.1,1760 2238.3,1786.1 2242.6,1803.5 2255.7,1818.7 2268.7,1814.3 2290.4,1805.7 2305.7,1805.7 2312.2,1816.5 2307.8,1847 2290.4,1849.1 2279.6,1844.8 2275.2,1857.8 2268.7,1868.7 2262.2,1883.9 2261.1,1907.8 2257.8,1923 2258.9,1938.3 2253.5,1947 2233.9,1951.3 2225.2,1968.7 2223,1994.8 2205.7,2005.7 2203.5,2012.2 2214.3,2016.5 2220.9,2033.9 2229.6,2042.6 2229.6,2053.5 2238.3,2073 2253.5,2083.9 2270.9,2090.4 2290.4,2094.8" fill="none" stroke="#000" stroke-width="1.8" stroke-linejoin="round"/>
<polyline points="2072,1929.6 2099.1,1931.7 2116.5,1925.2 2133.9,1907.8 2155.7,1901.3 2177.4,1895.9 2194.8,1897" fill="none" stroke="#000" stroke-width="1.8" stroke-linejoin="round"/>
<polyline points="2227.4,1918.7 2240.4,1922 2257.8,1923" fill="none" stroke="#000" stroke-width="1.8" stroke-linejoin="round"/>
<polyline points="2149.1,2086.1 2155.7,2070.9 2160,2044.8 2181.7,2038.3 2194.8,2031.7 2205.7,2047 2229.6,2042.6" fill="none" stroke="#000" stroke-width="1.8" stroke-linejoin="round"/>
<polyline points="2094.8,2090.4 2112.2,2086.1 2133.9,2086.1 2147,2079.6 2160,2083.9 2157.8,2070.9 2147,2064.3 2133.9,2066.5" fill="none" stroke="#000" stroke-width="1.8" stroke-linejoin="round"/>
<polyline points="2086.1,2107.8 2112.2,2118.7 2131.7,2120.9 2133.9,2138.3 2168.7,2133.9 2177.4,2142.6 2203.5,2133.9 2220.9,2118.7 2240.4,2112.2 2253.5,2116.5 2264.3,2110" fill="none" stroke="#000" stroke-width="1.8" stroke-linejoin="round"/>
<polyline points="2277.4,2107.8 2286.1,2129.6 2299.1,2133.9 2327.4,2127.4 2299.1,2129.6" fill="none" stroke="#000" stroke-width="1.8" stroke-linejoin="round"/>
<polyline points="2007.7,1300 2010.5,1316.8 2004.9,1336.3 2013.3,1355.9 2021.7,1378.3 2034.2,1397.8 2025.9,1403.4 2034.2,1417.4 2027.3,1431.4 2013.3,1436.9 1996.5,1456.5 1976.9,1478.9 1960.2,1499.8 1965.8,1523.6" fill="none" stroke="#000" stroke-width="1.8" stroke-linejoin="round"/>
<polyline points="2161.4,1593.5 2203.3,1582.3 2225.7,1593.5 2242.5,1601.8 2270.4,1607.4 2287.2,1621.4 2290,1643.8 2287.2,1657.7 2303.9,1668.9 2309.5,1691.3 2326.3,1702.5 2329.1,1724.8 2334.7,1736 2315.1,1736 2309.5,1730.4 2290,1736 2287.2,1727.6 2276,1736 2278.8,1747.2" fill="none" stroke="#000" stroke-width="1.8" stroke-linejoin="round"/>
<polyline points="2161.4,1599 2181,1610.2 2189.4,1629.8 2200.5,1652.2 2214.5,1671.7 2231.3,1691.3 2242.5,1719.2 2236.9,1747.2 2234.1,1775.1 2236.9,1803.1" fill="none" stroke="#000" stroke-width="1.8" stroke-linejoin="round"/>
<polyline points="1935,1649.4 1951.8,1635.4 1971.4,1624.2 1985.3,1610.2 2013.3,1618.6 2035.6,1624.2 2052.4,1621.4 2072,1638.2 2091.5,1625.6 2113.9,1621.4 2139,1615.8 2144.6,1601.8 2161.4,1599" fill="none" stroke="#000" stroke-width="1.8" stroke-linejoin="round"/>
<polyline points="1840,1513.8 1865.2,1512.4 1876.3,1518 1884.7,1508.2 1901.5,1508.2 1923.8,1515.2 1929.4,1525 1954.6,1533.4 1971.4,1541.8" fill="none" stroke="#000" stroke-width="1.8" stroke-linejoin="round"/>
<polyline points="1898.7,1575.3 1915.5,1590.7 1935,1585.1 1951.8,1599 1960.2,1610.2 1971.4,1613" fill="none" stroke="#000" stroke-width="1.8" stroke-linejoin="round"/>
<polyline points="1935,1649.4 1923.8,1663.3 1918.3,1682.9 1907.1,1696.9 1901.5,1713.6 1890.3,1730.4 1884.7,1744.4 1867.9,1747.2 1862.4,1752.8" fill="none" stroke="#000" stroke-width="1.8" stroke-linejoin="round"/>
<polyline points="2041.2,1330.7 2046.8,1315.4 2085.9,1309.8 2119.5,1311.2 2147.4,1319.6 2186.6,1325.2 2192.2,1337.7 2214.5,1339.1 2217.3,1347.5 2222.9,1336.3 2239.7,1333.5 2248,1341.9 2264.8,1339.1 2267.6,1350.3 2284.4,1336.3 2292.8,1353.1 2315.1,1347.5 2337.5,1350.3 2357,1364.3 2362.6,1358.7 2357,1336.3" fill="none" stroke="#000" stroke-width="1.8" stroke-linejoin="round"/>
<polyline points="1923.8,930.9 1937.8,926.7 1963,930.9 1974.2,926.7 1979.7,935.1 1990.9,932.3 2013.3,932.3 2032.8,940.7 2055.2,939.3 2072,925.3 2077.6,936.5 2083.2,947.7 2105.5,951.9 2119.5,964.5 2133.5,972.8 2141.8,984 2153,992.4 2169.8,991 2178.2,979.8 2192.2,979.8 2208.9,982.6 2211.7,970.1 2222.9,953.3 2236.9,947.7" fill="none" stroke="#000" stroke-width="1.8" stroke-linejoin="round"/>
<polyline points="2196.3,823.3 2199.1,805.2 2208.9,796.8 2218.7,792.6 2214.5,780" fill="none" stroke="#000" stroke-width="1.8" stroke-linejoin="round"/>
<polyline points="2196.3,823.3 2206.1,824.7 2207.5,834.5 2220.1,844.3 2220.1,861.1 2213.1,882 2225.7,891.8 2228.5,905.8 2236.9,922.5 2239.7,942.1 2239.7,953.3 2245.3,958.9 2259.2,956.1 2266.2,967.3 2281.6,961.7 2298.4,970.1 2298.4,984 2305.3,991 2315.1,984 2331.9,978.4 2348.7,979.8 2359.8,989.6 2380,1000.8" fill="none" stroke="#000" stroke-width="1.8" stroke-linejoin="round"/>
<polyline points="2161.4,992.4 2158.6,1025.9 2169.8,1027.3 2158.6,1039.9 2141.8,1041.3 2136.3,1053.9 2120.9,1058.1 2115.3,1070.7 2116.7,1087.4 2109.7,1101.4 2105.5,1112.6 2119.5,1119.6 2108.3,1126.6 2102.7,1119.6" fill="none" stroke="#000" stroke-width="1.8" stroke-linejoin="round"/>
<polyline points="1881.9,957.5 1888.9,944.9 1907.1,937.9 1923.8,932.3" fill="none" stroke="#000" stroke-width="1.8" stroke-linejoin="round"/>
<polyline points="1891.7,1028.7 1909.9,1041.3 1929.4,1049.7 1954.6,1048.3 1960.2,1055.3 1971.4,1062.3 1963,1081.8 1963,1098.6 1968.6,1105.6 1979.7,1111.2 1990.9,1118.2 2002.1,1126.6 2004.9,1143.3 2035.6,1141.9 2046.8,1148.9 2058,1140.5 2069.2,1140.5 2072,1126.6 2085.9,1119.6" fill="none" stroke="#000" stroke-width="1.8" stroke-linejoin="round"/>
<polyline points="1840,1105.6 1895.9,1111.2 1965.8,1109.8" fill="none" stroke="#000" stroke-width="1.8" stroke-linejoin="round"/>
<polyline points="2004.9,1143.3 2007.7,1171.3 2018.9,1199.2 2024.5,1227.2 2024.5,1243.9 2016.1,1255.1 1999.3,1263.5 1988.1,1283.1 1999.3,1291.5 2010.5,1305.4 2007.7,1320" fill="none" stroke="#000" stroke-width="1.8" stroke-linejoin="round"/>
<polyline points="2046.8,791.2 2060.8,785.6 2091.5,780" fill="none" stroke="#000" stroke-width="1.8" stroke-linejoin="round"/>
<polyline points="2196.3,823.3 2183.8,824.7 2172.6,816.3 2155.8,826.1 2141.8,816.3 2130.7,799.6 2108.3,785.6 2099.9,780" fill="none" stroke="#000" stroke-width="1.8" stroke-linejoin="round"/>
<polyline points="1881.9,889 1879.1,914.2 1876.3,936.5 1879.1,961.7 1881.9,989.6 1883.3,1006.4 1876.3,1025.9 1865.2,1045.5 1854,1056.7 1840,1059.5" fill="none" stroke="#000" stroke-width="1.8" stroke-linejoin="round"/>
<polyline points="1893.1,879.2 1881.9,889" fill="none" stroke="#000" stroke-width="1.8" stroke-linejoin="round"/>
<polyline points="1620,1557.4 1633,1561.7 1646.1,1557.4 1670,1563.9 1672.2,1572.6 1667.8,1590 1676.5,1603 1680.9,1616.1 1691.7,1627 1715.7,1635.7 1741.7,1635.7 1761.3,1635.7 1770,1629.1 1765.7,1620.4 1770,1613.9 1800.4,1609.6 1804.8,1600.9 1820,1607.4 1837.4,1598.7 1854.8,1587.8" fill="none" stroke="#000" stroke-width="1.8" stroke-linejoin="round"/>
<polyline points="1678.7,1635.7 1661.3,1640 1650.4,1642.2 1659.1,1653 1650.4,1661.7 1652.6,1670.4 1648.3,1679.1 1652.6,1690 1641.7,1692.2 1626.5,1703 1620,1709.6" fill="none" stroke="#000" stroke-width="1.8" stroke-linejoin="round"/>
<polyline points="1620,1735.7 1633,1733.5 1641.7,1727 1652.6,1729.1 1670,1740 1674.3,1746.5 1691.7,1757.4 1693.9,1766.1 1707,1768.3 1711.3,1777 1741.7,1781.3 1750.4,1783.5 1767.8,1772.6 1785.2,1763.9 1804.8,1753 1833,1752 1841.7,1755.2 1863.5,1750.9 1870,1744.3 1885.2,1742.2 1891.7,1720.4 1904.8,1711.7 1902.6,1700.9 1911.3,1692.2 1920,1661.7 1928.7,1648.7 1935.2,1646.5" fill="none" stroke="#000" stroke-width="1.8" stroke-linejoin="round"/>
<polyline points="1767.8,1772.6 1774.3,1781.3 1774.3,1794.3 1780.9,1800.9 1776.5,1809.6 1785.2,1818.3 1798.3,1820.4 1793.9,1822.6 1785.2,1820.4 1780.9,1840 1776.5,1844.3" fill="none" stroke="#000" stroke-width="1.8" stroke-linejoin="round"/>
<polyline points="1670,1816.1 1689.6,1822.6 1711.3,1827 1724.3,1831.3 1737.4,1827 1759.1,1831.3 1767.8,1842.2 1776.5,1844.3 1793.9,1842.2 1793.9,1855.2 1787.4,1870.4 1785.2,1887.8 1807,1903 1791.7,1909.6 1802.6,1922.6 1800.4,1937.8 1776.5,1944.3 1780.9,1960" fill="none" stroke="#000" stroke-width="1.8" stroke-linejoin="round"/>
<polyline points="1841.7,1755.2 1848.3,1766.1 1861.3,1777 1867.8,1785.7 1866.7,1798.7 1876.5,1809.6 1902.6,1822.6 1896.1,1835.7 1904.8,1842.2 1896.1,1848.7 1909.1,1853 1928.7,1861.7 1933,1870.4 1946.1,1855.2 1963.5,1866.1 1950.4,1872.6 1959.1,1890 1950.4,1905.2 1948.3,1922.6 1959.1,1937.8 1967.8,1946.5 1972.2,1960" fill="none" stroke="#000" stroke-width="1.8" stroke-linejoin="round"/>
<polyline points="1659.1,1913.9 1674.3,1931.3 1691.7,1946.5 1698.3,1960" fill="none" stroke="#000" stroke-width="1.8" stroke-linejoin="round"/>
<polyline points="1959.1,1890 1976.5,1903 1970,1916.1 1980.9,1922.6 2007,1922.6 2040,1931.3" fill="none" stroke="#000" stroke-width="1.8" stroke-linejoin="round"/>
<polygon points="2288.8,2094.4 2316.4,2099.3 2340,2098.4 2344.9,2095.4 2355.7,2100.3 2385.2,2106.2 2385.2,2241.9 2357.7,2241.9 2349.8,2248.8 2346.9,2262.6 2336,2269.5 2324.2,2273.4 2314.4,2270.5 2306.5,2260.6 2296.7,2246.9 2304.6,2237 2314.4,2228.2 2326.2,2221.3 2339,2209.5 2345.9,2193.8 2347.8,2178 2355.7,2167.2 2351.8,2156.4 2340,2147.5 2322.3,2142.6 2308.5,2136.7 2298.7,2126.9 2292.8,2119 2289.8,2105.2" fill="#ccffff" stroke="#000" stroke-width="2" stroke-linejoin="round"/>
<polyline points="2385.2,2241.9 2357.7,2241.9 2349.8,2248.8 2346.9,2262.6 2336,2269.5 2324.2,2273.4 2314.4,2270.5 2306.5,2260.6 2296.7,2246.9 2304.6,2237 2314.4,2228.2 2326.2,2221.3 2339,2209.5 2345.9,2193.8 2347.8,2178 2355.7,2167.2 2351.8,2156.4 2340,2147.5 2322.3,2142.6 2308.5,2136.7 2298.7,2126.9 2292.8,2119 2289.8,2105.2 2288.8,2094.4" fill="none" stroke="#000" stroke-width="4.25" stroke-linejoin="round" stroke-linecap="round"/>
<polyline points="2279,2133.8 2288.8,2138.7 2300.6,2146.5 2312.4,2158.3 2332.1,2167.2 2327.2,2178 2322.3,2193.8 2312.4,2209.5 2298.7,2219.3 2284.9,2227.2 2278,2231.1 2280,2244.9 2286.9,2258.7 2296.7,2274.4 2304.6,2286.2 2309.5,2300 2311.4,2313.7 2306.5,2329.5 2298.7,2341.3 2284.9,2345.2 2273.1,2336.4 2261.3,2340.3 2253.4,2349.1 2246.5,2359 2252.4,2364.9 2257.4,2378.6" fill="none" stroke="#000" stroke-width="6.8" stroke-linejoin="round" stroke-linecap="round"/>
<polygon points="2192.4,2201.6 2196.4,2185.9 2204.2,2178 2216.1,2176.1 2237.7,2183.9 2245.6,2197.7 2255.4,2215.4 2263.3,2229.2 2266.2,2233.1 2253.4,2237 2233.8,2240 2222,2237 2216.1,2229.2 2204.2,2221.3 2196.4,2211.5" fill="none" stroke="#000" stroke-width="6.8" stroke-linejoin="round"/>
<polygon points="2256.4,2166.2 2261.3,2158.3 2277,2156.4 2288.8,2160.3 2296.7,2170.1 2298.7,2185.9 2294.7,2197.7 2284.9,2201.6 2273.1,2195.7 2265.2,2185.9 2259.3,2176.1" fill="#ffd9d9" stroke="#000" stroke-width="4.25" stroke-linejoin="round"/>
<polygon points="2214.1,2313.7 2220,2301.9 2237.7,2301.9 2241.6,2311.8 2235.7,2323.6 2222,2333.4 2216.1,2325.5" fill="#ffd9d9" stroke="#000" stroke-width="4.25" stroke-linejoin="round"/>
<polygon points="2136.4,2195.7 2137.4,2178 2141.3,2154.4 2159,2146.5 2164.9,2149.5 2177.7,2149.5 2178.7,2162.3 2172.8,2183.9 2147.2,2195.7" fill="#ffd9d9" stroke="#000" stroke-width="2" stroke-linejoin="round"/>
<polyline points="2177.7,2149.5 2178.7,2162.3 2172.8,2183.9 2147.2,2195.7 2136.4,2195.7" fill="none" stroke="#000" stroke-width="4.25" stroke-linejoin="round" stroke-linecap="round"/>
<polygon points="2296.7,2414.1 2302.6,2400.3 2312.4,2386.5 2326.2,2378.6 2345.9,2373.7 2363.6,2370.8 2385.2,2365.9 2385.2,2376.7 2365.5,2375.7 2357.7,2382.6 2355.7,2398.3 2351.8,2408.2 2349.8,2414.1 2336,2412.1 2312.4,2420" fill="#ffd9d9" stroke="#000" stroke-width="2" stroke-linejoin="round"/>
<polyline points="2296.7,2414.1 2302.6,2400.3 2312.4,2386.5 2326.2,2378.6 2345.9,2373.7 2363.6,2370.8 2385.2,2365.9" fill="none" stroke="#000" stroke-width="4.25" stroke-linejoin="round" stroke-linecap="round"/>
<polyline points="2280,2394.4 2286.9,2382.6 2292.8,2366.8 2298.7,2360.9 2316.4,2356 2336,2349.1 2355.7,2343.2 2359.6,2337.3 2359.6,2327.5 2385.2,2331" fill="none" stroke="#000" stroke-width="6.8" stroke-linejoin="round" stroke-linecap="round"/>
<polygon points="2215.1,2421.9 2218,2414.1 2225.9,2408.2 2239.7,2402.3 2240.6,2408.2 2235.7,2418 2227.9,2425.9 2220,2429.8" fill="#ffd9d9" stroke="#000" stroke-width="2" stroke-linejoin="round"/>
<polyline points="2100,2063.9 2109.8,2069.8 2115.7,2079.7 2127.5,2093.4 2137.4,2107.2 2139.3,2117 2133.4,2126.9" fill="none" stroke="#000" stroke-width="6.8" stroke-linejoin="round" stroke-linecap="round"/>
<polyline points="2251.5,2085.6 2250.5,2099.3 2259.3,2106.2 2273.1,2109.2 2279,2107.2" fill="none" stroke="#000" stroke-width="6.8" stroke-linejoin="round" stroke-linecap="round"/>
<polyline points="2229.8,2060 2237.7,2071.8 2253.4,2083.6 2271.1,2090.5 2288.8,2094.4" fill="none" stroke="#000" stroke-width="1.8" stroke-linejoin="round"/>
<polyline points="2131.5,2128.8 2133.4,2135.7 2149.2,2134.7 2166.9,2131.8 2168.8,2137.7 2159,2146.5" fill="none" stroke="#000" stroke-width="1.8" stroke-linejoin="round"/>
<polyline points="2177.7,2149.5 2192.4,2146.5 2198.3,2153.4 2218,2154.4 2227.9,2149.5 2253.4,2148.5 2267.2,2151.5 2281,2151.5 2284.9,2146.5 2277,2142.6 2268.2,2140.6 2277,2133.8 2296.7,2129.8 2304.6,2126.9 2326.2,2125.9 2326.2,2127.9 2304.6,2129.8 2298.7,2126.9" fill="none" stroke="#000" stroke-width="1.8" stroke-linejoin="round"/>
<polyline points="2100,2089.5 2111.8,2087.5 2129.5,2086.6 2137.4,2081.6 2135.4,2071.8 2131.5,2063.9 2139.3,2060" fill="none" stroke="#000" stroke-width="1.8" stroke-linejoin="round"/>
<polyline points="2151.1,2060 2159,2071.8 2161,2085.6 2145.2,2092.5 2147.2,2107.2 2139.3,2117 2131.5,2128.8 2100,2117" fill="none" stroke="#000" stroke-width="1.8" stroke-linejoin="round"/>
<polyline points="2208.2,2108.2 2227.9,2107.2 2237.7,2104.3 2251.5,2107.2 2259.3,2111.1 2277,2110.2 2284.9,2095.4" fill="none" stroke="#000" stroke-width="1.8" stroke-linejoin="round"/>
<polyline points="2208.2,2108.2 2202.3,2113.1 2201.3,2119 2194.4,2130.8 2178.7,2135.7 2168.8,2141.6" fill="none" stroke="#000" stroke-width="1.8" stroke-linejoin="round"/>
<polyline points="2131.5,2201.6 2139.3,2209.5 2159,2204.6 2176.7,2203.6 2175.7,2209.5 2161,2223.3 2168.8,2233.1 2167.9,2242.9 2181.6,2245.9 2164.9,2258.7 2168.8,2268.5 2186.5,2276.4 2161,2284.2 2159,2270.5 2153.1,2262.6 2145.2,2262.6 2149.2,2276.4 2142.3,2282.3 2143.3,2288.2 2159,2298 2166.9,2292.1 2174.7,2300 2192.4,2305.9 2191.5,2319.6 2188.5,2333.4 2189.5,2345.2 2198.3,2343.2 2200.3,2350.1 2208.2,2352.1 2206.2,2360.9 2194.4,2362.9 2190.5,2366.8 2198.3,2368.8 2245.6,2363.9 2235.7,2366.8 2229.8,2378.6 2237.7,2382.6 2227.9,2394.4 2241.6,2384.5 2249.5,2372.7 2257.4,2378.6 2261.3,2392.4 2271.1,2394.4 2280,2394.4 2284.9,2406.2 2296.7,2414.1" fill="none" stroke="#000" stroke-width="1.8" stroke-linejoin="round"/>
<polyline points="2131.5,2201.6 2132.5,2205.6 2176.7,2203.6" fill="none" stroke="#000" stroke-width="1.8" stroke-linejoin="round"/>
<polygon points="2101,2144.6 2107.9,2141.6 2114.8,2145.6 2109.8,2149.5 2103,2148.5" fill="none" stroke="#000" stroke-width="1.8" stroke-linejoin="round"/>
<polygon points="2111.8,2164.2 2121.6,2160.3 2129.5,2165.2 2123.6,2169.2 2113.8,2168.2" fill="none" stroke="#000" stroke-width="1.8" stroke-linejoin="round"/>
<polygon points="2120.7,2225.2 2127.5,2220.3 2139.3,2216.4 2149.2,2221.3 2155.1,2233.1 2158,2241 2151.1,2242.9 2139.3,2237 2129.5,2233.1 2121.6,2231.1" fill="none" stroke="#000" stroke-width="1.8" stroke-linejoin="round"/>
<polygon points="2157,2319.6 2164.9,2316.7 2180.6,2319.6 2174.7,2324.6 2168.8,2327.5 2161,2323.6" fill="none" stroke="#000" stroke-width="1.8" stroke-linejoin="round"/>
<polygon points="2127.5,2335.4 2131.5,2327.5 2147.2,2324.6 2139.3,2332.4" fill="none" stroke="#000" stroke-width="1.8" stroke-linejoin="round"/>
<polygon points="2174.7,2384.5 2182.6,2376.7 2196.4,2373.7 2192.4,2377.7 2178.7,2384.5" fill="none" stroke="#000" stroke-width="1.8" stroke-linejoin="round"/>
<polygon points="2119.7,2268.5 2135.4,2267.5 2136.4,2280.3 2129.5,2294.1 2121.6,2288.2 2127.5,2280.3 2126.6,2272.4" fill="none" stroke="#000" stroke-width="1.8" stroke-linejoin="round"/>
<polygon points="2206.2,2131.8 2216.1,2132.8 2212.1,2137.7 2207.2,2136.7" fill="none" stroke="#000" stroke-width="1.8" stroke-linejoin="round"/>
<polygon points="2215.1,2140.6 2229.8,2142.6 2222,2150.5" fill="none" stroke="#000" stroke-width="1.8" stroke-linejoin="round"/>
<polygon points="2172.8,2363.9 2177.7,2361.9 2181.6,2370.8 2176.7,2372.7" fill="none" stroke="#000" stroke-width="1.8" stroke-linejoin="round"/>
<polygon points="2141.3,2392.4 2149.2,2389.5 2152.1,2394.4 2145.2,2398.3" fill="none" stroke="#000" stroke-width="1.8" stroke-linejoin="round"/>
<polygon points="2198.3,2382.6 2218,2379.6 2229.8,2379.6 2225.9,2382.6 2202.3,2388.5" fill="none" stroke="#000" stroke-width="1.8" stroke-linejoin="round"/>
<polygon points="2155.8,1708 2167,1702.5 2183.8,1701.1 2200.5,1709.4 2208.9,1719.2 2203.3,1736 2194.9,1750 2175.4,1752.8 2161.4,1744.4 2154.4,1724.8" fill="none" stroke="#000" stroke-width="5.1" stroke-linejoin="round"/>
<polyline points="2169.8,1719.2 2174,1717.8 2172.6,1736" fill="none" stroke="#000" stroke-width="2.5" stroke-linejoin="round" stroke-linecap="round"/>
<circle cx="2222.9" cy="1627" r="4.5" fill="#000"/>
</g>
<rect x="321.5" y="271.5" width="2058.0" height="2158.0" fill="none" stroke="#000" stroke-width="1.3"/>
<text x="1350" y="72" font-family="Liberation Sans, sans-serif" font-size="66" text-anchor="middle" textLength="263" lengthAdjust="spacingAndGlyphs">EUROPE</text>
<text x="1362" y="158" font-family="Liberation Sans, sans-serif" font-size="62" text-anchor="middle" textLength="741" lengthAdjust="spacingAndGlyphs">Temperature Anomaly (°C)</text>
<text x="1350" y="239" font-family="Liberation Sans, sans-serif" font-size="62" text-anchor="middle" textLength="497" lengthAdjust="spacingAndGlyphs">July 21 - 27, 2019</text>
<rect x="2476" y="660" width="67" height="1379" fill="#707070"/>
<rect x="2480" y="664" width="59" height="121" fill="#cc0000"/>
<rect x="2480" y="789" width="59" height="121" fill="#ff0000"/>
<rect x="2480" y="914" width="59" height="121" fill="#ff5555"/>
<rect x="2480" y="1039" width="59" height="121" fill="#ffaaaa"/>
<rect x="2480" y="1164" width="59" height="121" fill="#ffd9d9"/>
<rect x="2480" y="1289" width="59" height="121" fill="#ffffff"/>
<rect x="2480" y="1414" width="59" height="121" fill="#ccffff"/>
<rect x="2480" y="1539" width="59" height="121" fill="#66ffff"/>
<rect x="2480" y="1664" width="59" height="121" fill="#55aaff"/>
<rect x="2480" y="1789" width="59" height="121" fill="#0080ff"/>
<rect x="2480" y="1914" width="59" height="121" fill="#0000ff"/>
<text x="2562" y="803" font-family="Liberation Sans, sans-serif" font-size="45">+9</text>
<text x="2562" y="928" font-family="Liberation Sans, sans-serif" font-size="45">+7</text>
<text x="2562" y="1053" font-family="Liberation Sans, sans-serif" font-size="45">+5</text>
<text x="2562" y="1178" font-family="Liberation Sans, sans-serif" font-size="45">+3</text>
<text x="2562" y="1303" font-family="Liberation Sans, sans-serif" font-size="45">+1</text>
<text x="2562" y="1428" font-family="Liberation Sans, sans-serif" font-size="45">-1</text>
<text x="2562" y="1553" font-family="Liberation Sans, sans-serif" font-size="45">-3</text>
<text x="2562" y="1678" font-family="Liberation Sans, sans-serif" font-size="45">-5</text>
<text x="2562" y="1803" font-family="Liberation Sans, sans-serif" font-size="45">-7</text>
<text x="2562" y="1928" font-family="Liberation Sans, sans-serif" font-size="45">-9</text>
<text x="1750" y="2470.7" font-family="Liberation Sans, sans-serif" font-size="33" textLength="612" lengthAdjust="spacingAndGlyphs">CLIMATE PREDICTION CENTER, NOAA</text>
<text x="1750" y="2509.1" font-family="Liberation Sans, sans-serif" font-size="33" textLength="441" lengthAdjust="spacingAndGlyphs">Computer generated contours</text>
<text x="1750" y="2547.5" font-family="Liberation Sans, sans-serif" font-size="33" textLength="503" lengthAdjust="spacingAndGlyphs">Based on preliminary gridded data</text>
<text x="1750" y="2585.9" font-family="Liberation Sans, sans-serif" font-size="33" textLength="630" lengthAdjust="spacingAndGlyphs">Normals based on 1981-2010 gridded data</text>
<circle cx="2542" cy="2545" r="122" fill="none" stroke="#a4a4b0" stroke-width="10" stroke-dasharray="4.5 3"/>
<circle cx="2542" cy="2545" r="122" fill="none" stroke="#ffffff" stroke-width="4" stroke-dasharray="1.5 5" opacity="0.7"/>
<clipPath id="lg"><circle cx="2542" cy="2545" r="110"/></clipPath>
<g clip-path="url(#lg)"><rect x="2400" y="2400" width="300" height="300" fill="#fff"/>
<polygon points="2415.5,2508.7 2434.9,2514.9 2451.2,2524.2 2469.9,2541.3 2487.0,2555.3 2502.5,2564.6 2518.0,2569.3 2538.2,2570.8 2530.4,2578.6 2518.0,2584.0 2507.1,2586.3 2508.7,2591.8 2532.0,2591.8 2547.5,2583.2 2567.7,2572.4 2589.4,2568.5 2590.2,2564.6 2567.7,2562.3 2575.5,2556.8 2594.1,2546.0 2609.6,2528.9 2625.2,2508.7 2639.9,2497.0 2664.0,2493.2 2664.0,2679.5 2415.5,2679.5" fill="#0096ff"/>
<polygon points="2455.9,2476.1 2496.3,2524.2 2522.7,2553.7 2536.6,2562.3 2549.1,2563.0 2569.3,2555.3 2591.0,2528.9 2626.7,2476.1 2626.7,2415.5 2455.9,2415.5" fill="#0014a8"/>
</g>
<text x="2494" y="2508" font-family="Liberation Sans, sans-serif" font-size="40" font-weight="bold" fill="#fff" textLength="92" lengthAdjust="spacingAndGlyphs">NOAA</text>
<g clip-path="url(#fr)">
<text x="874.3" y="1735.0" font-family="Liberation Sans, sans-serif" font-size="43" font-weight="bold" textLength="171.8" lengthAdjust="spacingAndGlyphs">FRANCE</text>
<text x="1003.5" y="1418.6" font-family="Liberation Sans, sans-serif" font-size="43" font-weight="bold" textLength="121.5" lengthAdjust="spacingAndGlyphs">BELG.</text>
<text x="998.0" y="1322.0" font-family="Liberation Sans, sans-serif" font-size="43" font-weight="bold" textLength="128.8" lengthAdjust="spacingAndGlyphs">NETH.</text>
<text x="1227.2" y="1371.0" font-family="Liberation Sans, sans-serif" font-size="43" font-weight="bold" textLength="225.6" lengthAdjust="spacingAndGlyphs">GERMANY</text>
<text x="658.5" y="1296.0" font-family="Liberation Sans, sans-serif" font-size="43" font-weight="bold" textLength="212.6" lengthAdjust="spacingAndGlyphs">ENGLAND</text>
<text x="355.1" y="1250.5" font-family="Liberation Sans, sans-serif" font-size="43" font-weight="bold" textLength="193.2" lengthAdjust="spacingAndGlyphs">IRELAND</text>
<text x="1214.5" y="537.0" font-family="Liberation Sans, sans-serif" font-size="43" font-weight="bold" textLength="202.4" lengthAdjust="spacingAndGlyphs">NORWAY</text>
<text x="1488.5" y="588.6" font-family="Liberation Sans, sans-serif" font-size="43" font-weight="bold" textLength="188.4" lengthAdjust="spacingAndGlyphs">SWEDEN</text>
<text x="1983.3" y="485.0" font-family="Liberation Sans, sans-serif" font-size="43" font-weight="bold" textLength="193.9" lengthAdjust="spacingAndGlyphs">FINLAND</text>
<text x="2028.0" y="728.0" font-family="Liberation Sans, sans-serif" font-size="43" font-weight="bold" textLength="195.3" lengthAdjust="spacingAndGlyphs">ESTONIA</text>
<text x="2048.5" y="901.6" font-family="Liberation Sans, sans-serif" font-size="43" font-weight="bold" textLength="157.6" lengthAdjust="spacingAndGlyphs">LATVIA</text>
<text x="1921.3" y="1021.8" font-family="Liberation Sans, sans-serif" font-size="43" font-weight="bold" textLength="243.0" lengthAdjust="spacingAndGlyphs">LITHUANIA</text>
<text x="1873.5" y="1097.0" font-family="Liberation Sans, sans-serif" font-size="43" font-weight="bold" textLength="94.0" lengthAdjust="spacingAndGlyphs">KAL.</text>
<text x="2115.5" y="1224.0" font-family="Liberation Sans, sans-serif" font-size="43" font-weight="bold" textLength="201.0" lengthAdjust="spacingAndGlyphs">BELARUS</text>
<text x="1696.0" y="1311.5" font-family="Liberation Sans, sans-serif" font-size="43" font-weight="bold" textLength="185.2" lengthAdjust="spacingAndGlyphs">POLAND</text>
<text x="1542.3" y="1510.0" font-family="Liberation Sans, sans-serif" font-size="43" font-weight="bold" textLength="153.2" lengthAdjust="spacingAndGlyphs">CZECH.</text>
<text x="1695.5" y="1596.6" font-family="Liberation Sans, sans-serif" font-size="43" font-weight="bold" textLength="187.9" lengthAdjust="spacingAndGlyphs">SLOVAK.</text>
<text x="1247.5" y="965.9" font-family="Liberation Sans, sans-serif" font-size="43" font-weight="bold" textLength="101.2" lengthAdjust="spacingAndGlyphs">DEN.</text>
<text x="1729.5" y="1712.8" font-family="Liberation Sans, sans-serif" font-size="43" font-weight="bold" textLength="140.7" lengthAdjust="spacingAndGlyphs">HUNG.</text>
<text x="1620.5" y="1809.6" font-family="Liberation Sans, sans-serif" font-size="43" font-weight="bold" textLength="104.5" lengthAdjust="spacingAndGlyphs">CRO.</text>
<text x="1643.5" y="1887.8" font-family="Liberation Sans, sans-serif" font-size="43" font-weight="bold" textLength="173.3" lengthAdjust="spacingAndGlyphs">BOSNIA</text>
<text x="1823.3" y="1959.0" font-family="Liberation Sans, sans-serif" font-size="43" font-weight="bold" textLength="124.2" lengthAdjust="spacingAndGlyphs">SERB.</text>
<text x="1856.5" y="2085.0" font-family="Liberation Sans, sans-serif" font-size="43" font-weight="bold" textLength="130.4" lengthAdjust="spacingAndGlyphs">MACE.</text>
<text x="1796.5" y="2140.5" font-family="Liberation Sans, sans-serif" font-size="43" font-weight="bold" textLength="96.3" lengthAdjust="spacingAndGlyphs">ALB.</text>
<text x="1835.9" y="2216.0" font-family="Liberation Sans, sans-serif" font-size="43" font-weight="bold" textLength="168.3" lengthAdjust="spacingAndGlyphs">GREECE</text>
<text x="2034.5" y="2017.0" font-family="Liberation Sans, sans-serif" font-size="43" font-weight="bold" textLength="129.4" lengthAdjust="spacingAndGlyphs">BULG.</text>
<text x="1968.5" y="1804.5" font-family="Liberation Sans, sans-serif" font-size="43" font-weight="bold" textLength="219.8" lengthAdjust="spacingAndGlyphs">ROMANIA</text>
<text x="2213.5" y="1690.0" font-family="Liberation Sans, sans-serif" font-size="43" font-weight="bold" textLength="102.5" lengthAdjust="spacingAndGlyphs">MOL.</text>
<text x="2330.5" y="1575.0" font-family="Liberation Sans, sans-serif" font-size="43" font-weight="bold" textLength="111.8" lengthAdjust="spacingAndGlyphs">UKR.</text>
<text x="1512.5" y="1670.0" font-family="Liberation Sans, sans-serif" font-size="43" font-weight="bold" textLength="101.2" lengthAdjust="spacingAndGlyphs">AUS.</text>
<text x="1508.3" y="1770.6" font-family="Liberation Sans, sans-serif" font-size="43" font-weight="bold" textLength="121.5" lengthAdjust="spacingAndGlyphs">SLOV.</text>
<text x="1179.5" y="1712.0" font-family="Liberation Sans, sans-serif" font-size="43" font-weight="bold" textLength="147.5" lengthAdjust="spacingAndGlyphs">SWITZ.</text>
<text x="1388.1" y="1988.6" font-family="Liberation Sans, sans-serif" font-size="43" font-weight="bold" textLength="118.6" lengthAdjust="spacingAndGlyphs">ITALY</text>
<text x="585.5" y="2204.0" font-family="Liberation Sans, sans-serif" font-size="43" font-weight="bold" textLength="130.2" lengthAdjust="spacingAndGlyphs">SPAIN</text>
<text x="380.5" y="2175.0" font-family="Liberation Sans, sans-serif" font-size="43" font-weight="bold" textLength="120.1" lengthAdjust="spacingAndGlyphs">PORT.</text>
<text x="917.0" y="925.7" font-family="Liberation Sans, sans-serif" font-size="46" font-weight="bold" font-style="italic" fill="#0057e0" textLength="119.2" lengthAdjust="spacingAndGlyphs">North</text>
<text x="941.0" y="986.8" font-family="Liberation Sans, sans-serif" font-size="46" font-weight="bold" font-style="italic" fill="#0057e0" textLength="71.7" lengthAdjust="spacingAndGlyphs">Sea</text>
<text x="1697.0" y="954.7" font-family="Liberation Sans, sans-serif" font-size="46" font-weight="bold" font-style="italic" fill="#0057e0" textLength="115.1" lengthAdjust="spacingAndGlyphs">Baltic</text>
<text x="1719.0" y="1015.5" font-family="Liberation Sans, sans-serif" font-size="46" font-weight="bold" font-style="italic" fill="#0057e0" textLength="71.5" lengthAdjust="spacingAndGlyphs">Sea</text>
<text x="321.5" y="1670.0" font-family="Liberation Sans, sans-serif" font-size="46" font-weight="bold" font-style="italic" fill="#0057e0" textLength="206.0" lengthAdjust="spacingAndGlyphs">ATLANTIC</text>
<text x="354.0" y="1730.5" font-family="Liberation Sans, sans-serif" font-size="46" font-weight="bold" font-style="italic" fill="#0057e0" textLength="143.4" lengthAdjust="spacingAndGlyphs">OCEAN</text>
<text x="909.0" y="2318.8" font-family="Liberation Sans, sans-serif" font-size="46" font-weight="bold" font-style="italic" fill="#0057e0" textLength="396.3" lengthAdjust="spacingAndGlyphs">Mediterranean Sea</text>
</g>
</svg></body></html>
